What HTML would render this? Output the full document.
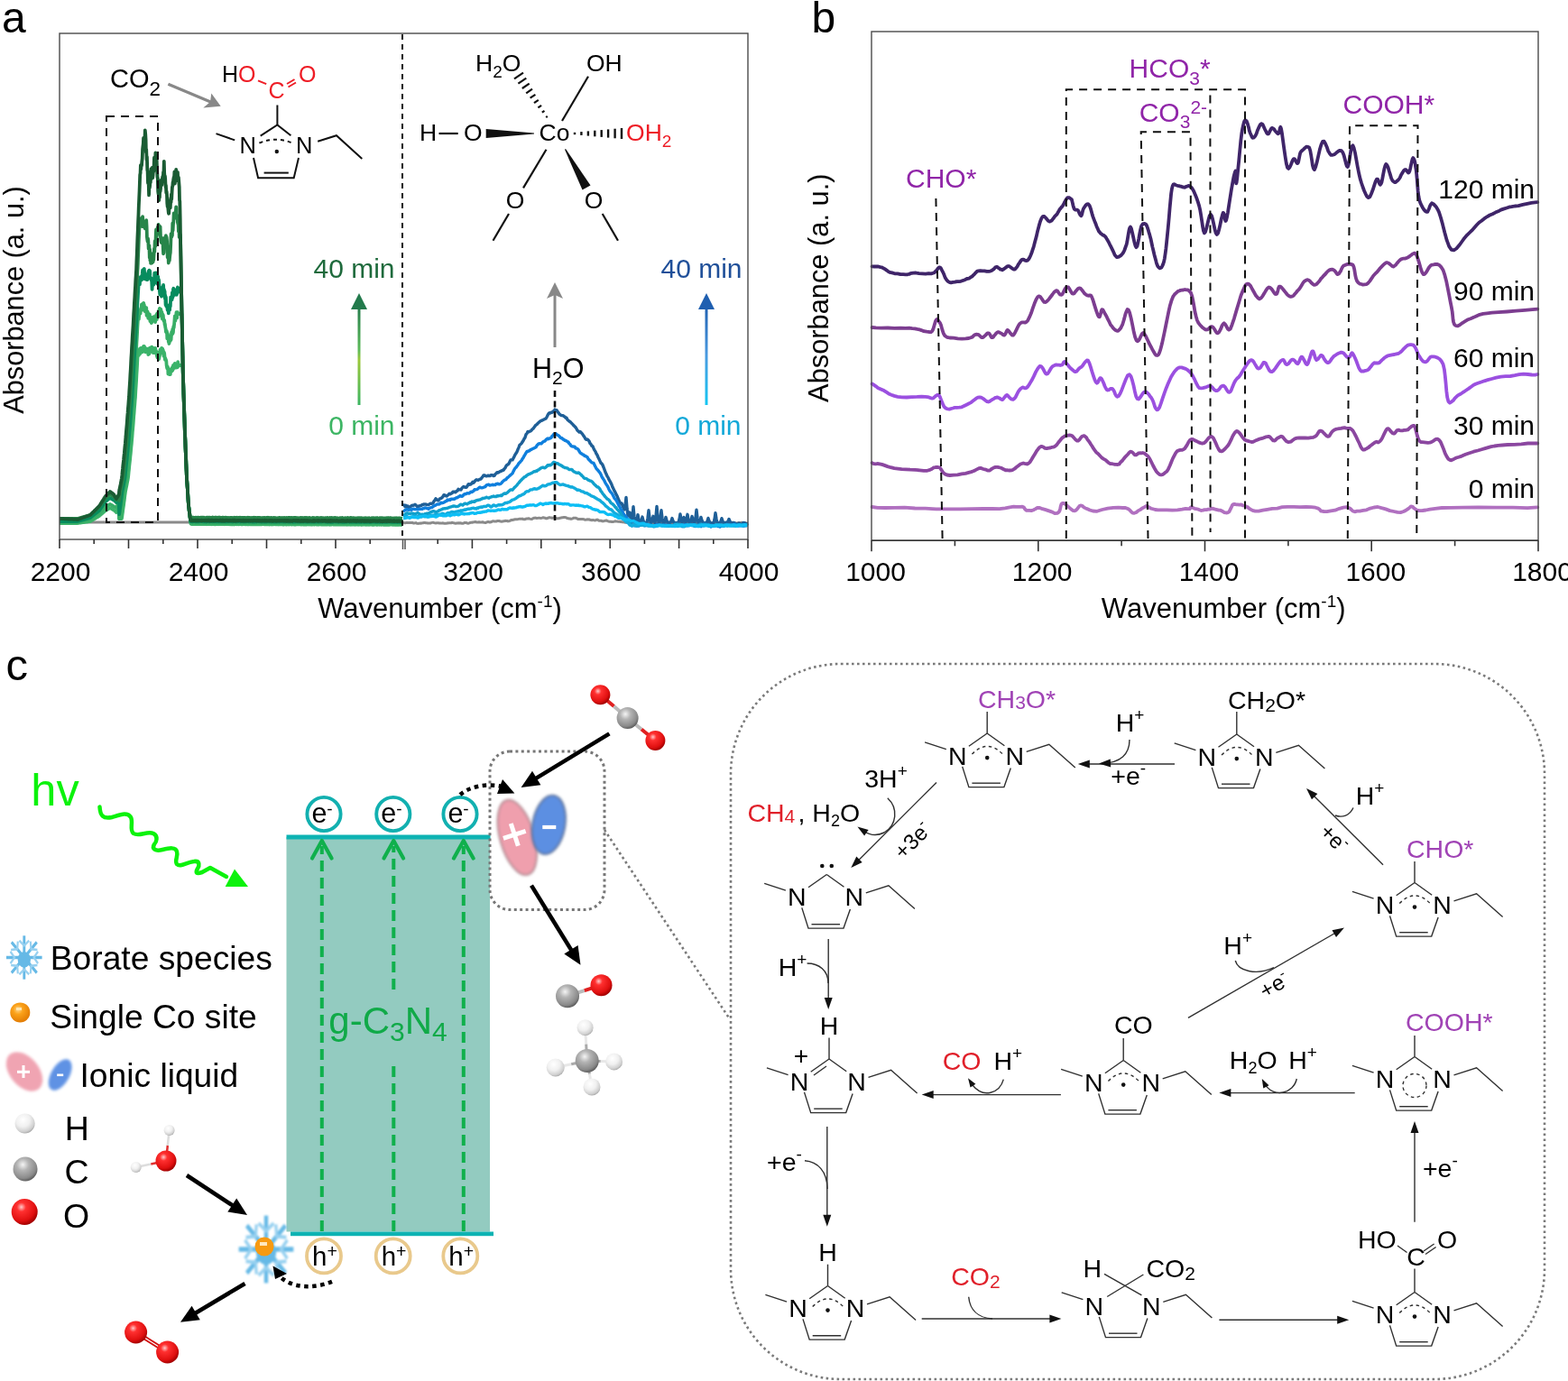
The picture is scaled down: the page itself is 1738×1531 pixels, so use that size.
<!DOCTYPE html>
<html><head><meta charset="utf-8"><title>Figure</title>
<style>html,body{margin:0;padding:0;background:#fff;} svg{display:block;}</style>
</head><body>
<svg width="1738" height="1531" viewBox="0 0 1738 1531" font-family="'Liberation Sans', Arial, sans-serif"><text x="2" y="36" font-size="48" fill="#000" text-anchor="start" >a</text>
<polyline points="66,579 446,579" stroke="#8a8a8a" stroke-width="3" fill="none" />
<path d="M447,579.7 L448,579.6 L449,579.8 L450,579.6 L451,579.6 L452,579.6 L453,579.4 L454,579.6 L455,579.4 L456,579.4 L457,579.4 L458,579.9 L459,579.9 L460,579.8 L461,579.6 L462,580.2 L463,580.4 L464,580.3 L465,580.3 L466,579.9 L467,580.2 L468,579.8 L469,579.8 L470,579.4 L471,579.4 L472,579.8 L473,579.8 L474,580 L475,579.9 L476,580 L477,580 L478,579.6 L479,579.4 L480,579.2 L481,579.6 L482,579.8 L483,579.9 L484,579.8 L485,579.8 L486,579.8 L487,580 L488,580.1 L489,580.1 L490,579.9 L491,579.8 L492,580.2 L493,580.3 L494,580.2 L495,580.2 L496,579.8 L497,579.9 L498,579.7 L499,579.7 L500,579.8 L501,579.3 L502,579.6 L503,579.8 L504,580.1 L505,580.3 L506,580 L507,580 L508,579.8 L509,580 L510,579.8 L511,580 L512,580.2 L513,580.2 L514,580 L515,579.4 L516,579.6 L517,579.5 L518,580.1 L519,580.2 L520,579.9 L521,579.5 L522,579.3 L523,579.1 L524,579.2 L525,578.8 L526,578.8 L527,578.5 L528,578.9 L529,578.9 L530,579 L531,578.7 L532,579.1 L533,579 L534,579 L535,578.7 L536,579.2 L537,579.4 L538,579.6 L539,579.1 L540,578.8 L541,578.4 L542,578.7 L543,579 L544,578.8 L545,578.3 L546,577.8 L547,577.8 L548,577.9 L549,578.1 L550,578 L551,577.6 L552,577.5 L553,577.5 L554,577.8 L555,578.1 L556,578.2 L557,578.1 L558,577.8 L559,577.7 L560,577.3 L561,577.4 L562,577.4 L563,577.9 L564,577.7 L565,577.4 L566,577 L567,576.4 L568,576.5 L569,576.2 L570,576.1 L571,575.7 L572,575.7 L573,575.8 L574,575.6 L575,575.4 L576,575.2 L577,575.2 L578,575.3 L579,575.1 L580,575.6 L581,575.7 L582,575.7 L583,575.2 L584,574.9 L585,575 L586,574.8 L587,575.1 L588,575.4 L589,575.6 L590,575.3 L591,574.6 L592,574.3 L593,574.1 L594,574.2 L595,574.6 L596,574.4 L597,574.2 L598,574.2 L599,574.4 L600,574.4 L601,574.1 L602,573.8 L603,574 L604,574.2 L605,574.7 L606,574.8 L607,574.3 L608,574 L609,573.6 L610,573.9 L611,574 L612,574.4 L613,574.1 L614,573.9 L615,573.9 L616,574.3 L617,574.8 L618,574.8 L619,574.7 L620,574.6 L621,574.2 L622,574.1 L623,573.8 L624,573.7 L625,573.4 L626,573.4 L627,573.6 L628,574.1 L629,574.6 L630,574.8 L631,575 L632,575 L633,575.4 L634,575.1 L635,574.7 L636,574.2 L637,574.2 L638,574.2 L639,574.6 L640,575.1 L641,575.6 L642,575.6 L643,575.5 L644,575.5 L645,575.4 L646,575.4 L647,575.6 L648,576.1 L649,576.3 L650,576.1 L651,575.8 L652,575.9 L653,575.8 L654,576.3 L655,576.6 L656,576.7 L657,576.5 L658,576.6 L659,576.9 L660,576.8 L661,576.3 L662,576.1 L663,576.6 L664,577.2 L665,577.2 L666,577.3 L667,577.5 L668,577.9 L669,577.7 L670,577.4 L671,577.2 L672,577 L673,577.4 L674,577.8 L675,578.2 L676,578.3 L677,578.2 L678,578.5 L679,578.5 L680,578.4 L681,578.1 L682,577.8 L683,577.9 L684,578.1 L685,578.2 L686,578.4 L687,578.1 L688,578.6 L689,578.6 L690,578.9 L691,578.7 L692,579.1 L693,579.2 L694,579.4 L695,579.2 L696,579.3 L697,579.1 L698,578.8 L699,578.8 L700,578.6 L701,578.6 L702,578.9 L703,579 L704,579.3 L705,579.3 L706,579.6 L707,579.5 L708,579.4 L709,579.4 L710,579.7 L711,579.5 L712,579.5 L713,579.2 L714,579.3 L715,579.5 L716,579.7 L717,579.9 L718,579.9 L719,580.2 L720,580.1 L721,580 L722,579.8 L723,579.9 L724,579.9 L725,579.9 L726,579.9 L727,579.8 L728,580.1 L729,580.3 L730,580.5 L731,580.5 L732,580.3 L733,580 L734,580.1 L735,580.5 L736,580.2 L737,579.6 L738,579.4 L739,579.3 L740,579.4 L741,579.2 L742,579.6 L743,580 L744,580.5 L745,580.2 L746,580.1 L747,580 L748,580 L749,580.1 L750,580.3 L751,580.3 L752,580.4 L753,580 L754,580.2 L755,580.2 L756,580.5 L757,580.3 L758,579.9 L759,579.7 L760,579.8 L761,579.7 L762,579.6 L763,579.8 L764,579.7 L765,579.9 L766,579.7 L767,579.7 L768,579.5 L769,579.6 L770,580 L771,579.8 L772,580 L773,580.2 L774,580.8 L775,580.2 L776,579.9 L777,579.3 L778,579.7 L779,579.7 L780,579.8 L781,579.5 L782,580 L783,580.4 L784,580.3 L785,579.8 L786,579.9 L787,580.1 L788,580.5 L789,579.9 L790,579.6 L791,579.6 L792,579.8 L793,579.8 L794,580 L795,580.1 L796,580.6 L797,580 L798,580.2 L799,579.7 L800,580.2 L801,579.9 L802,580.1 L803,579.9 L804,580.2 L805,580.2 L806,579.9 L807,579.6 L808,579.6 L809,579.6 L810,579.3 L811,579.2 L812,579.3 L813,579.4 L814,579.5 L815,579.9 L816,579.9 L817,580 L818,579.6 L819,579.7 L820,579.4 L821,579.4 L822,579.2 L823,579.7 L824,579.9 L825,580 L826,579.8 L827,580.1 L828,580 L829,580.2" stroke="#8a8a8a" stroke-width="3" fill="none" stroke-linejoin="round"/>
<path d="M447,561.5 L448,560 L449,561.7 L450,560.4 L451,561.6 L452,561 L453,562.4 L454,562.5 L455,561.7 L456,560.8 L457,560.2 L458,560.2 L459,560.1 L460,559.2 L461,560.1 L462,561.1 L463,562.1 L464,560.9 L465,561 L466,560.4 L467,560.4 L468,559.5 L469,559.3 L470,559 L471,559.1 L472,559 L473,559.4 L474,559.6 L475,559.6 L476,558.9 L477,558.3 L478,558.4 L479,558.1 L480,557.8 L481,555.7 L482,554.6 L483,552.8 L484,553.9 L485,554.4 L486,554.9 L487,553.4 L488,552.6 L489,552.4 L490,551.6 L491,550.5 L492,548.6 L493,548.8 L494,549.6 L495,550 L496,549.4 L497,548.4 L498,547.3 L499,547.8 L500,547.1 L501,546.7 L502,545.2 L503,545.5 L504,545.2 L505,545.8 L506,544.5 L507,544.2 L508,542.3 L509,542.8 L510,542.9 L511,543 L512,541.1 L513,540.1 L514,539.4 L515,540.1 L516,540.3 L517,540.4 L518,538.9 L519,536.9 L520,536.6 L521,537.2 L522,536.9 L523,535.6 L524,534.3 L525,535.2 L526,533.9 L527,532.6 L528,531.8 L529,532.2 L530,532.4 L531,531.7 L532,531.2 L533,531.1 L534,529.7 L535,528.5 L536,527 L537,526.8 L538,527.5 L539,527.9 L540,527.6 L541,527.2 L542,527.5 L543,527.6 L544,526.8 L545,526.7 L546,526.8 L547,527.5 L548,527.3 L549,525.6 L550,524.9 L551,523.7 L552,524 L553,523.5 L554,522.8 L555,522.3 L556,522 L557,521.3 L558,521.4 L559,519.8 L560,518.7 L561,516.6 L562,515.4 L563,515 L564,514 L565,511.9 L566,510 L567,509.8 L568,509.9 L569,508 L570,506.1 L571,504 L572,502.6 L573,500.9 L574,498.3 L575,496.1 L576,493.3 L577,492.6 L578,491.6 L579,490 L580,488.5 L581,486.4 L582,485.1 L583,481.7 L584,480.6 L585,478.6 L586,478.9 L587,478.1 L588,478.1 L589,477.1 L590,475.8 L591,475.1 L592,473.8 L593,472.4 L594,471.2 L595,470.6 L596,469.5 L597,468.6 L598,467.7 L599,466.9 L600,466.3 L601,466 L602,465.5 L603,464.9 L604,464.4 L605,464.2 L606,462.5 L607,460.4 L608,458.7 L609,457.6 L610,458 L611,457.1 L612,457.3 L613,456 L614,456.4 L615,454.1 L616,454.8 L617,454.6 L618,456.4 L619,457.5 L620,459.1 L621,459.7 L622,460.6 L623,460.6 L624,460.7 L625,461.4 L626,461.9 L627,463.2 L628,463.2 L629,465.4 L630,466.1 L631,467.2 L632,467.5 L633,468.7 L634,469.6 L635,470.6 L636,471.8 L637,472.7 L638,473.7 L639,475.3 L640,477.2 L641,478 L642,479 L643,478.4 L644,479.6 L645,480.5 L646,481.8 L647,483.4 L648,484.7 L649,486.6 L650,487.4 L651,486.9 L652,487.8 L653,489 L654,491.5 L655,492.5 L656,494.3 L657,494.8 L658,497.2 L659,499.1 L660,500.6 L661,503.1 L662,504.5 L663,507 L664,508.9 L665,511.1 L666,513.3 L667,514 L668,515.5 L669,518 L670,520.7 L671,523.5 L672,525.5 L673,527.9 L674,529.4 L675,531.7 L676,533.4 L677,535.2 L678,537.3 L679,540.1 L680,542.1 L681,544.2 L682,545.9 L683,548.2 L684,549.9 L685,552.6 L686,554.7 L687,557.1 L688,558.1 L689,558 L690,560.4 L691,562.9 L692,564.9 L693,560.4 L694,551.4 L695,563.8 L696,572 L697,571 L698,568 L699,574.8 L700,579.6 L701,572.8 L702,561.6 L703,573 L704,579.8 L705,579.7 L706,576.1 L707,570.6 L708,576.2 L709,579.7 L710,579.4 L711,577 L712,573.1 L713,577.1 L714,579.4 L715,579.5 L716,579.3 L717,579.5 L718,574.2 L719,565.6 L720,574.1 L721,579.2 L722,579.3 L723,576.7 L724,572.3 L725,576.8 L726,579.7 L727,572.9 L728,561.5 L729,572.7 L730,579.7 L731,579.7 L732,574.4 L733,565.6 L734,574.5 L735,579.8 L736,579.7 L737,577.5 L738,573.5 L739,577.3 L740,579.3 L741,579.4 L742,579.3 L743,579.4 L744,577.6 L745,574.6 L746,577.6 L747,579.4 L748,579.4 L749,579.7 L750,579.7 L751,579.4 L752,579.4 L753,575.8 L754,569.9 L755,576 L756,579.6 L757,577.1 L758,573.5 L759,577.2 L760,579.5 L761,576 L762,570.3 L763,576 L764,579.3 L765,579.6 L766,577 L767,572.5 L768,576.7 L769,579.5 L770,579.4 L771,574.1 L772,565.2 L773,574.2 L774,579.7 L775,580 L776,577.4 L777,573.5 L778,577 L779,579.4 L780,579.5 L781,579.6 L782,579.7 L783,579.6 L784,577.8 L785,574.5 L786,577.5 L787,579.4 L788,579.7 L789,579.9 L790,580 L791,579.9 L792,575.7 L793,568.7 L794,575.3 L795,579.5 L796,579.4 L797,579.6 L798,579.7 L799,577.8 L800,574.7 L801,577.8 L802,579.8 L803,579.6 L804,579.4 L805,579.2 L806,579.5 L807,577.9 L808,575.5 L809,578 L810,579.5 L811,579.6 L812,579.6 L813,579.5 L814,579.6 L815,580.3 L816,581.1 L817,580.9 L818,581 L819,580.1 L820,580.6 L821,581.3 L822,581.3 L823,580.5 L824,579.4 L825,579.6 L826,580.1 L827,580.7 L828,580.8 L829,580.8" stroke="#1f5f97" stroke-width="3.4" fill="none" stroke-linejoin="round"/>
<path d="M447,565.1 L448,566.2 L449,565.6 L450,565 L451,564.7 L452,565.1 L453,565.2 L454,565.1 L455,564.7 L456,565.3 L457,564.5 L458,564.2 L459,564.3 L460,564.6 L461,564.6 L462,564.5 L463,564.8 L464,564.6 L465,564.2 L466,564.2 L467,564.2 L468,564.3 L469,563.5 L470,563.7 L471,562.9 L472,563 L473,563.5 L474,563.6 L475,564.3 L476,563.2 L477,563.1 L478,562.6 L479,562.5 L480,561.5 L481,560.8 L482,560.4 L483,560.1 L484,559.1 L485,559 L486,559.1 L487,558.9 L488,558 L489,557.2 L490,557.7 L491,557.4 L492,556.9 L493,556.5 L494,555.6 L495,555.5 L496,554.1 L497,554.6 L498,554 L499,554.3 L500,553.1 L501,553.3 L502,553.1 L503,553.3 L504,553 L505,552.3 L506,551.8 L507,551.7 L508,550.8 L509,550.4 L510,549.5 L511,550.1 L512,550.3 L513,549.7 L514,548.3 L515,547.6 L516,547.8 L517,547.2 L518,546.8 L519,546.9 L520,547 L521,546.1 L522,545.2 L523,545.5 L524,545 L525,544.2 L526,542.8 L527,542.8 L528,542.6 L529,542.3 L530,541.6 L531,540.6 L532,540.2 L533,540.6 L534,540.9 L535,540.6 L536,540.3 L537,539.8 L538,539.5 L539,538.1 L540,537.6 L541,537.3 L542,537.3 L543,538 L544,537.9 L545,537.7 L546,537.1 L547,537.7 L548,537.5 L549,537.5 L550,536.5 L551,536.6 L552,536.2 L553,536.7 L554,536.7 L555,536.4 L556,535.4 L557,534.1 L558,533.1 L559,532.4 L560,531.8 L561,531.5 L562,529.8 L563,529.4 L564,528.4 L565,527.4 L566,526.6 L567,525.6 L568,524.9 L569,522.6 L570,520.7 L571,519 L572,518.2 L573,516.8 L574,515.5 L575,513.7 L576,512.8 L577,511.6 L578,510.6 L579,508.8 L580,507.4 L581,505.5 L582,503.9 L583,502.2 L584,500.5 L585,500.6 L586,499.8 L587,499.8 L588,498.4 L589,498.4 L590,497.7 L591,497.2 L592,496.9 L593,496.3 L594,495.8 L595,494 L596,493 L597,491.9 L598,491.8 L599,491.8 L600,491.9 L601,490.7 L602,489.7 L603,489.2 L604,489.1 L605,487.7 L606,486.9 L607,486.1 L608,486.7 L609,486 L610,485.9 L611,485.2 L612,483.4 L613,482.7 L614,481.2 L615,480.6 L616,480.7 L617,481.7 L618,482.2 L619,482.9 L620,483.7 L621,485 L622,485.7 L623,485.7 L624,487 L625,487.2 L626,488.3 L627,488.5 L628,488.8 L629,489.9 L630,489.9 L631,491.9 L632,492.6 L633,494.3 L634,494.9 L635,495 L636,495.2 L637,495.3 L638,496.8 L639,497.1 L640,497.6 L641,498.4 L642,500.3 L643,501.8 L644,502.7 L645,503.1 L646,504.1 L647,504.2 L648,505.6 L649,505.4 L650,506.3 L651,506.8 L652,508.7 L653,509.7 L654,510.7 L655,511.9 L656,512.8 L657,513.1 L658,513.4 L659,515.6 L660,517.5 L661,519.5 L662,520.5 L663,521.6 L664,522.9 L665,524.1 L666,525.9 L667,528.4 L668,530.1 L669,531.5 L670,533.2 L671,535.3 L672,536.9 L673,538.3 L674,540.1 L675,542.5 L676,544.3 L677,545.6 L678,546.6 L679,548.2 L680,550.1 L681,552.4 L682,553.3 L683,554.6 L684,556.4 L685,558.4 L686,560.5 L687,562 L688,564.3 L689,565.7 L690,567.5 L691,569.4 L692,570.8 L693,571.9 L694,573.1 L695,574.4 L696,576.7 L697,577.7 L698,580.3 L699,581.3 L700,582.6 L701,582.1 L702,582.3 L703,582.8 L704,582.9 L705,582.5 L706,583.1 L707,582.5 L708,583.1 L709,581.8 L710,582.3 L711,581.3 L712,581.4 L713,581.5 L714,582.7 L715,582.9 L716,582.7 L717,582.1 L718,582.5 L719,582.4 L720,582.2 L721,582.6 L722,582.8 L723,582.8 L724,582.8 L725,583.4 L726,583.5 L727,582.4 L728,581.5 L729,582.1 L730,582.3 L731,582.2 L732,582.1 L733,582 L734,582.8 L735,582.1 L736,582.5 L737,582.1 L738,582 L739,582.5 L740,582.3 L741,583.1 L742,583.1 L743,582.6 L744,582.7 L745,582.8 L746,583 L747,582.7 L748,581.9 L749,582.3 L750,582.5 L751,582.7 L752,582.7 L753,581.9 L754,582.5 L755,582.7 L756,583.6 L757,582.5 L758,582.7 L759,581.7 L760,582.4 L761,581.7 L762,582.8 L763,582.2 L764,582.5 L765,581.9 L766,582.3 L767,581.7 L768,582 L769,582.8 L770,583.2 L771,583.5 L772,582.6 L773,582.5 L774,581.9 L775,582.8 L776,583.4 L777,583.7 L778,582.4 L779,582 L780,581.2 L781,581.2 L782,581.1 L783,581.4 L784,581.5 L785,581.6 L786,582.4 L787,583.5 L788,584 L789,583.5 L790,582.5 L791,582.6 L792,582.6 L793,582.8 L794,582.6 L795,582.8 L796,583.6 L797,583.4 L798,584 L799,582.9 L800,583.2 L801,582.7 L802,583.4 L803,582.6 L804,582.2 L805,581.6 L806,581.4 L807,582.4 L808,582.2 L809,582.3 L810,581.8 L811,581.9 L812,581.9 L813,581.4 L814,581.4 L815,581.2 L816,581.8 L817,582.4 L818,582.8 L819,583 L820,582.9 L821,582.7 L822,582.8 L823,582.4 L824,583.2 L825,583 L826,582.7 L827,582.7 L828,582.2 L829,582.9" stroke="#0f7fdd" stroke-width="3.4" fill="none" stroke-linejoin="round"/>
<path d="M447,570.1 L448,570.7 L449,570.1 L450,569.6 L451,568.8 L452,568.9 L453,569.4 L454,569.3 L455,569.6 L456,569 L457,569.2 L458,569.1 L459,569.7 L460,570 L461,569.5 L462,568.9 L463,568.4 L464,569.3 L465,569.8 L466,570.5 L467,570.4 L468,570.3 L469,570.4 L470,570.4 L471,569.8 L472,569.7 L473,569.1 L474,569.4 L475,568.9 L476,568.6 L477,567.9 L478,567.5 L479,567.2 L480,566.7 L481,566.8 L482,567.1 L483,567.8 L484,567.4 L485,566.9 L486,566.4 L487,565.6 L488,565.5 L489,564.9 L490,564.7 L491,564 L492,563.8 L493,563.6 L494,563.7 L495,563.5 L496,563.4 L497,562.8 L498,562.5 L499,562.1 L500,561.9 L501,561.4 L502,561.3 L503,560.9 L504,561.1 L505,561.5 L506,561.6 L507,561.4 L508,561.1 L509,560.5 L510,559.6 L511,559.2 L512,559.7 L513,560 L514,559 L515,558.3 L516,558.2 L517,558.7 L518,558.9 L519,557.9 L520,557.6 L521,556.8 L522,557.1 L523,556 L524,556.4 L525,556 L526,556.3 L527,555.2 L528,555 L529,554.5 L530,554.6 L531,554.1 L532,554 L533,553.4 L534,553.1 L535,552.3 L536,552.5 L537,552.1 L538,552.1 L539,551.2 L540,551.6 L541,551.8 L542,552.2 L543,551.4 L544,551.1 L545,550.7 L546,550.6 L547,550 L548,550.5 L549,550.4 L550,550.6 L551,549.6 L552,550 L553,549.6 L554,549.6 L555,549.2 L556,549.5 L557,548.4 L558,547.8 L559,546.9 L560,547.3 L561,547 L562,546.4 L563,545.5 L564,544.7 L565,543.6 L566,542.9 L567,543 L568,543.2 L569,542 L570,540.7 L571,539.9 L572,538.9 L573,537.9 L574,536.4 L575,535.4 L576,534.1 L577,533 L578,532.1 L579,530.9 L580,530.2 L581,528.9 L582,528.7 L583,528 L584,526.9 L585,526.5 L586,525.6 L587,525.6 L588,524.9 L589,524.6 L590,524 L591,523.4 L592,522.7 L593,522.9 L594,522.1 L595,522.3 L596,521.2 L597,520.9 L598,520 L599,519.3 L600,518.7 L601,518.2 L602,518.2 L603,518.6 L604,518.8 L605,517.9 L606,517.1 L607,515.7 L608,516.1 L609,515.4 L610,515.8 L611,515.1 L612,514.4 L613,513 L614,512.3 L615,512.6 L616,513.2 L617,513.8 L618,513.7 L619,514.4 L620,515.1 L621,515.4 L622,516.2 L623,516.5 L624,517.6 L625,517.9 L626,518.5 L627,518.4 L628,518.9 L629,519 L630,519.9 L631,520.6 L632,520.6 L633,520.4 L634,520.6 L635,521.9 L636,522.8 L637,523.1 L638,523.8 L639,524.1 L640,524.4 L641,524 L642,524.3 L643,525.5 L644,526.1 L645,527.4 L646,528.1 L647,529.6 L648,530.3 L649,530.4 L650,530.6 L651,531.3 L652,532.2 L653,532.5 L654,533.1 L655,533.1 L656,533.8 L657,534.7 L658,536.1 L659,537.2 L660,538 L661,539 L662,539.8 L663,540 L664,540.9 L665,542.3 L666,544.4 L667,545.5 L668,547.2 L669,548.3 L670,549.6 L671,550.9 L672,551.9 L673,553.1 L674,553.5 L675,554.3 L676,555.8 L677,557.3 L678,558.1 L679,558.7 L680,559.7 L681,560.8 L682,562.2 L683,562.8 L684,564.7 L685,565.5 L686,566.8 L687,567.8 L688,569.1 L689,571.2 L690,572.3 L691,573.8 L692,574.7 L693,575.5 L694,576.7 L695,577.5 L696,578.8 L697,580 L698,580.4 L699,581.8 L700,582 L701,582.9 L702,582.1 L703,582 L704,581.7 L705,582.5 L706,582.7 L707,582.7 L708,582.3 L709,582.3 L710,582.4 L711,581.7 L712,582 L713,582.2 L714,582.6 L715,582.3 L716,581.6 L717,581.9 L718,582.2 L719,583.1 L720,583.1 L721,582.8 L722,582.8 L723,583 L724,583.7 L725,583.7 L726,583.4 L727,583.3 L728,583.1 L729,583 L730,582.5 L731,581.9 L732,582.1 L733,582.5 L734,582.4 L735,582.3 L736,582.3 L737,582.8 L738,582.9 L739,583.2 L740,583.1 L741,583.1 L742,582.7 L743,582.9 L744,582.5 L745,582.9 L746,582.8 L747,583.4 L748,582.8 L749,583 L750,583 L751,583.3 L752,583 L753,582.1 L754,581.9 L755,581.9 L756,582.7 L757,583 L758,583.7 L759,583.3 L760,582.9 L761,582.4 L762,582.7 L763,582.4 L764,582 L765,581.4 L766,581.6 L767,581.7 L768,582.6 L769,582.5 L770,583.2 L771,582.4 L772,582.4 L773,582.5 L774,582.3 L775,582.2 L776,581.3 L777,581.2 L778,581.5 L779,581.6 L780,581.7 L781,581.3 L782,581.8 L783,581.7 L784,581.9 L785,581.8 L786,582.7 L787,583.1 L788,583.3 L789,583.1 L790,583.3 L791,583.4 L792,582.8 L793,582 L794,581.8 L795,582.2 L796,582.7 L797,582.8 L798,582.5 L799,582.7 L800,582.3 L801,582.6 L802,582.1 L803,581.9 L804,582.1 L805,582.4 L806,583.1 L807,582.8 L808,582.9 L809,582.1 L810,582.5 L811,581.9 L812,582.7 L813,583 L814,583.1 L815,583.1 L816,582.3 L817,582.3 L818,581.6 L819,581.8 L820,581.6 L821,582.2 L822,582.4 L823,582.7 L824,582.7 L825,582.4 L826,582.3 L827,581.9 L828,581.6 L829,582.2" stroke="#10a0cc" stroke-width="3.4" fill="none" stroke-linejoin="round"/>
<path d="M447,573.5 L448,573.2 L449,572.6 L450,572.3 L451,572.4 L452,573.1 L453,573.4 L454,573.7 L455,573.4 L456,573.4 L457,572.9 L458,572.8 L459,572.3 L460,573 L461,572.6 L462,573.2 L463,572.5 L464,573 L465,572.6 L466,572.8 L467,573 L468,572.7 L469,572.3 L470,572.4 L471,572.8 L472,572.8 L473,572.7 L474,573 L475,572.8 L476,572.1 L477,571.2 L478,571.2 L479,571.3 L480,571.1 L481,571.3 L482,570.6 L483,570.5 L484,570.4 L485,570.6 L486,570.7 L487,570.3 L488,570.2 L489,570 L490,569.3 L491,569.4 L492,569.8 L493,570.5 L494,570.3 L495,569.5 L496,568.8 L497,568.7 L498,568.8 L499,568.4 L500,567.8 L501,567.4 L502,567.6 L503,567.9 L504,567.9 L505,567.3 L506,567.1 L507,566.9 L508,567.2 L509,566.5 L510,566.3 L511,565.9 L512,566.3 L513,565.8 L514,565.7 L515,565 L516,565.4 L517,564.7 L518,564.6 L519,564.1 L520,564.4 L521,564 L522,564 L523,563.4 L524,563.4 L525,563.2 L526,563.7 L527,563.7 L528,564 L529,563 L530,563.3 L531,562.5 L532,562.4 L533,562 L534,562.3 L535,562 L536,561.5 L537,561.3 L538,561.5 L539,561.3 L540,560.5 L541,560.1 L542,560.4 L543,561.2 L544,562 L545,561.7 L546,560.7 L547,560 L548,560.2 L549,560.8 L550,561 L551,560.4 L552,560 L553,559.7 L554,560 L555,559.6 L556,559.7 L557,559.6 L558,559.1 L559,558.1 L560,557.7 L561,557.4 L562,557.6 L563,556.9 L564,556.9 L565,556.3 L566,555.7 L567,554.9 L568,554.1 L569,553.9 L570,553.6 L571,552.9 L572,552.4 L573,551.5 L574,551 L575,549.9 L576,549.8 L577,549.4 L578,549 L579,548.2 L580,548 L581,547.5 L582,546.3 L583,545.3 L584,544.8 L585,544.9 L586,544.6 L587,543.7 L588,543 L589,542.9 L590,542.8 L591,542.1 L592,541.8 L593,541.8 L594,542.2 L595,542.1 L596,541.8 L597,541.2 L598,540.8 L599,540 L600,539.3 L601,538.6 L602,538.2 L603,538.7 L604,538.7 L605,538.6 L606,538 L607,537.2 L608,536.9 L609,536.7 L610,536.6 L611,536.1 L612,535.5 L613,535.1 L614,535.2 L615,534.7 L616,534.7 L617,534.7 L618,535.5 L619,536.4 L620,537 L621,537.5 L622,537.4 L623,537.1 L624,537 L625,537.3 L626,537.7 L627,538.2 L628,538.4 L629,538.7 L630,538.7 L631,539.5 L632,539.7 L633,540.1 L634,539.8 L635,540.3 L636,540.8 L637,541.1 L638,542.1 L639,542.6 L640,543.4 L641,543 L642,543.4 L643,543.6 L644,544.6 L645,544.8 L646,545 L647,545.4 L648,546.4 L649,546.5 L650,546.7 L651,547 L652,547.7 L653,548.2 L654,548.6 L655,549.6 L656,549.9 L657,550.4 L658,550.6 L659,551.4 L660,551.8 L661,552.7 L662,553.1 L663,553.8 L664,554.2 L665,554.8 L666,555.8 L667,556.7 L668,557.3 L669,558.3 L670,559.1 L671,560.7 L672,561.3 L673,562.2 L674,562.9 L675,564 L676,564.7 L677,564.7 L678,565.3 L679,566.5 L680,567.7 L681,568.6 L682,569 L683,569.8 L684,570.1 L685,571 L686,571.6 L687,572.5 L688,573.4 L689,574.6 L690,575.2 L691,575.9 L692,576.1 L693,577.5 L694,578.5 L695,579 L696,579.6 L697,580.6 L698,582.1 L699,582.3 L700,582.9 L701,582.4 L702,582.2 L703,582.3 L704,582.8 L705,582.9 L706,582.9 L707,582.1 L708,582.2 L709,581.4 L710,581.6 L711,581.4 L712,582.1 L713,582.2 L714,582.2 L715,581.7 L716,581.7 L717,582.4 L718,582.8 L719,582.6 L720,582.4 L721,582.3 L722,582.7 L723,582.5 L724,582.6 L725,582.9 L726,582.9 L727,582.9 L728,582.6 L729,582.7 L730,582.5 L731,582.4 L732,582.3 L733,582.6 L734,582.5 L735,582.9 L736,582.7 L737,583.2 L738,583 L739,583.4 L740,583.3 L741,583 L742,582.5 L743,582.4 L744,582.7 L745,583.2 L746,582.7 L747,582.1 L748,581.4 L749,581.3 L750,581.3 L751,581.2 L752,581.4 L753,581.4 L754,582.1 L755,582.4 L756,583.2 L757,583.5 L758,583.6 L759,583.6 L760,582.7 L761,582.2 L762,582.2 L763,582.6 L764,582.6 L765,582.4 L766,582.4 L767,582.7 L768,582.3 L769,582.1 L770,581.7 L771,582 L772,582.6 L773,583.5 L774,583.6 L775,583.6 L776,583 L777,582.6 L778,582.6 L779,582.8 L780,583.1 L781,582.3 L782,581.9 L783,581.8 L784,582.4 L785,583 L786,583.3 L787,582.9 L788,582.5 L789,582.6 L790,583.2 L791,583.3 L792,582.7 L793,582.3 L794,582.4 L795,582.5 L796,582.2 L797,582 L798,582.2 L799,582.1 L800,582.3 L801,582.6 L802,583.2 L803,582.9 L804,582.4 L805,581.8 L806,582.3 L807,582.5 L808,582.5 L809,582.4 L810,582.3 L811,582.7 L812,582.5 L813,582.3 L814,582.1 L815,582.7 L816,582.7 L817,582.8 L818,582.3 L819,582.2 L820,582.1 L821,581.8 L822,582 L823,581.9 L824,582.1 L825,582.6 L826,582.6 L827,582.6 L828,582.3 L829,582.4" stroke="#12acdd" stroke-width="3.4" fill="none" stroke-linejoin="round"/>
<path d="M447,574.6 L448,574.5 L449,574.4 L450,574.1 L451,573.8 L452,573.8 L453,573.7 L454,574.2 L455,573.8 L456,573.4 L457,572.8 L458,573.3 L459,573.6 L460,573.5 L461,573.5 L462,573.7 L463,574.1 L464,573.8 L465,573.1 L466,572.5 L467,572.4 L468,572.2 L469,572.3 L470,572 L471,571.9 L472,572.1 L473,572.2 L474,572.7 L475,572.7 L476,572.8 L477,572.5 L478,572.5 L479,572.3 L480,572.1 L481,572.3 L482,572.7 L483,573 L484,572.8 L485,572.1 L486,571.6 L487,571.2 L488,570.9 L489,571.3 L490,571.3 L491,571.9 L492,571.5 L493,571.9 L494,571.8 L495,571.5 L496,570.8 L497,570.8 L498,571.1 L499,571.7 L500,571.2 L501,570.8 L502,570.5 L503,570.7 L504,570.8 L505,570.3 L506,569.9 L507,570.4 L508,570.8 L509,570.6 L510,570 L511,569.4 L512,569.3 L513,569.7 L514,569.7 L515,570 L516,569.6 L517,569.6 L518,569.7 L519,569.4 L520,569.7 L521,569 L522,569.1 L523,568.6 L524,568.6 L525,568.9 L526,569.3 L527,569.2 L528,569 L529,568.4 L530,568.3 L531,568.1 L532,568.4 L533,568 L534,568 L535,567.5 L536,567.5 L537,567.2 L538,567.1 L539,567 L540,566.3 L541,566 L542,566.1 L543,566.1 L544,566.4 L545,566.1 L546,566.1 L547,566.3 L548,566.2 L549,566.2 L550,566 L551,565.6 L552,565.1 L553,565 L554,565.4 L555,565.3 L556,564.6 L557,564.4 L558,564.8 L559,564.7 L560,564.8 L561,564.6 L562,564.8 L563,564.2 L564,563.4 L565,562.9 L566,563.2 L567,563.1 L568,563.5 L569,562.8 L570,563.2 L571,562.9 L572,562.8 L573,562.2 L574,562.2 L575,561.8 L576,561.8 L577,561.5 L578,562 L579,562.2 L580,561.8 L581,561.7 L582,561.3 L583,560.9 L584,560.3 L585,560.3 L586,560.2 L587,560 L588,559.8 L589,560.1 L590,559.9 L591,559.8 L592,559.9 L593,560.5 L594,560.6 L595,560.3 L596,559.8 L597,559.3 L598,558.6 L599,558.1 L600,558.5 L601,558.9 L602,559.6 L603,558.7 L604,558.5 L605,558 L606,558.5 L607,558.1 L608,558.4 L609,557.7 L610,557.8 L611,557.4 L612,557.9 L613,558 L614,557.8 L615,557.6 L616,557.9 L617,557.7 L618,557.8 L619,557.9 L620,558.4 L621,558.3 L622,558.4 L623,558.5 L624,558.8 L625,558.8 L626,558.5 L627,558.6 L628,558.8 L629,558.7 L630,558.8 L631,559.3 L632,560 L633,560.2 L634,559.9 L635,559.9 L636,559.9 L637,560.1 L638,560.3 L639,560 L640,560.4 L641,559.9 L642,560.5 L643,560.4 L644,560.7 L645,560.9 L646,561 L647,561.5 L648,561.8 L649,561.7 L650,561.4 L651,561.2 L652,561.9 L653,562.4 L654,562.6 L655,563.1 L656,563.8 L657,564.4 L658,564.7 L659,564.8 L660,565.3 L661,565.1 L662,565.5 L663,565.9 L664,566.8 L665,567.5 L666,567.5 L667,567.6 L668,567.5 L669,567.6 L670,567.9 L671,568.7 L672,569.6 L673,570.1 L674,570.5 L675,570.4 L676,570.3 L677,570.2 L678,570.6 L679,570.9 L680,571.2 L681,571.9 L682,572.4 L683,572.7 L684,573.2 L685,573.9 L686,574.4 L687,574.1 L688,573.7 L689,574.3 L690,574.7 L691,575.5 L692,575.5 L693,576 L694,576.4 L695,576.2 L696,576.3 L697,576.3 L698,576.6 L699,577.5 L700,577.6 L701,577.9 L702,577.5 L703,578 L704,578.5 L705,579.2 L706,579.5 L707,580 L708,580.5 L709,580.7 L710,580.5 L711,580.3 L712,580.1 L713,580.2 L714,580.4 L715,581.1 L716,581.5 L717,581.5 L718,581.5 L719,582.1 L720,582.6 L721,582.8 L722,582.8 L723,582.7 L724,582.9 L725,583 L726,582.7 L727,582.8 L728,582.7 L729,582.7 L730,582.3 L731,582.3 L732,582.9 L733,582.8 L734,582.8 L735,582.8 L736,583.1 L737,583.4 L738,583.1 L739,582.9 L740,582.4 L741,582.6 L742,582.7 L743,583 L744,583 L745,582.6 L746,582.8 L747,583 L748,583.6 L749,583.3 L750,583.1 L751,582.6 L752,582.9 L753,583 L754,583 L755,582.3 L756,582 L757,582.2 L758,582.7 L759,582.7 L760,582.3 L761,582.4 L762,582 L763,582.6 L764,582.1 L765,582.3 L766,582.3 L767,582.3 L768,582.2 L769,581.9 L770,582.4 L771,583 L772,583.1 L773,583.3 L774,583 L775,583.2 L776,582.5 L777,582.3 L778,582 L779,582.1 L780,582.5 L781,582.6 L782,582.8 L783,582.9 L784,582.8 L785,582.7 L786,582.3 L787,582.5 L788,583 L789,582.9 L790,582.9 L791,582.9 L792,583.2 L793,583 L794,582.3 L795,582.3 L796,582.3 L797,582.6 L798,582.2 L799,582.6 L800,582.5 L801,582.8 L802,582.7 L803,582.7 L804,582.8 L805,582.7 L806,582.3 L807,582.3 L808,582.1 L809,582.8 L810,583.1 L811,583 L812,582.6 L813,582 L814,582.1 L815,582.4 L816,583 L817,583.1 L818,582.7 L819,582.1 L820,582.2 L821,582.7 L822,582.6 L823,582.8 L824,582 L825,582.1 L826,581.7 L827,582.2 L828,582.3 L829,582.4" stroke="#0dbef5" stroke-width="3.4" fill="none" stroke-linejoin="round"/>
<path d="M66,580 L66.3,580 L66.7,580 L67,580 L67.4,580 L67.8,580 L68.1,580 L68.5,580 L68.8,580 L69.2,580 L69.5,580 L69.8,580 L70.2,580 L70.5,580 L70.9,580 L71.2,580 L71.6,580 L72,580 L72.3,580 L72.7,580 L73,580 L73.3,580 L73.7,580 L74,580 L74.4,580 L74.8,580 L75.1,580 L75.5,580 L75.8,580 L76.2,580 L76.5,580 L76.8,580 L77.2,580 L77.5,580 L77.9,580 L78.2,580 L78.6,580 L79,580 L79.3,580 L79.7,580 L80,580 L80.3,580 L80.7,580 L81,580 L81.4,580 L81.8,580 L82.1,580 L82.5,580 L82.8,580 L83.2,580 L83.5,580 L83.8,580 L84.2,580 L84.5,580 L84.9,580 L85.2,580 L85.6,580 L86,580 L86.3,580 L86.7,579.9 L87,579.9 L87.3,579.8 L87.7,579.8 L88,579.7 L88.4,579.7 L88.8,579.6 L89.1,579.6 L89.5,579.5 L89.8,579.5 L90.2,579.4 L90.5,579.4 L90.8,579.3 L91.2,579.3 L91.5,579.2 L91.9,579.2 L92.2,579.1 L92.6,579.1 L93,579 L93.3,579 L93.7,578.9 L94,578.9 L94.3,578.8 L94.7,578.8 L95,578.7 L95.4,578.7 L95.8,578.6 L96.1,578.6 L96.5,578.5 L96.8,578.5 L97.2,578.4 L97.5,578.4 L97.8,578.3 L98.2,578.3 L98.5,578.2 L98.9,578.2 L99.2,578.1 L99.6,578.1 L99.9,578 L100.3,577.8 L100.7,577.6 L101,577.4 L101.3,577.2 L101.7,577 L102,576.8 L102.4,576.6 L102.8,576.4 L103.1,576.1 L103.4,575.9 L103.8,575.7 L104.2,575.5 L104.5,575.3 L104.8,575.1 L105.2,574.9 L105.5,574.7 L105.9,574.5 L106.2,574.2 L106.6,574 L106.9,573.8 L107.3,573.6 L107.7,573.4 L108,573.2 L108.3,573 L108.7,572.8 L109,572.6 L109.4,572.4 L109.8,572.1 L110.1,571.9 L110.4,571.6 L110.8,571.3 L111.2,571 L111.5,570.7 L111.8,570.4 L112.2,570.1 L112.5,569.8 L112.9,569.5 L113.2,569.2 L113.6,568.9 L113.9,568.6 L114.3,568.3 L114.7,568 L115,567.7 L115.3,567.4 L115.7,567.1 L116,566.8 L116.4,566.5 L116.8,566.2 L117.1,565.9 L117.4,565.7 L117.8,565.5 L118.2,565.3 L118.5,565.1 L118.8,564.9 L119.2,564.7 L119.5,564.5 L119.9,564.3 L120.2,564 L120.6,563.8 L120.9,563.6 L121.3,563.4 L121.7,563.2 L122,563 L122.3,563.2 L122.7,563.4 L123,563.6 L123.4,563.8 L123.8,564 L124.1,564.3 L124.4,564.5 L124.8,564.7 L125.2,564.9 L125.5,565.1 L125.8,565.3 L126.2,565.5 L126.5,565.7 L126.9,565.9 L127.2,566.2 L127.6,566.6 L127.9,567 L128.3,567.3 L128.7,567.6 L129,568 L129.3,567.1 L129.7,566.1 L130.1,565.2 L130.4,564.3 L130.8,563.3 L131.1,562.4 L131.4,561.5 L131.8,560.5 L132.1,575 L132.5,575 L132.8,575 L133.2,575 L133.6,575 L133.9,575 L134.2,575 L134.6,575 L134.9,575 L135.3,572.7 L135.6,570.1 L136,567.5 L136.3,564.9 L136.7,562.3 L137.1,559.6 L137.4,557 L137.8,554.4 L138.1,551.8 L138.4,549.1 L138.8,546.5 L139.1,544.3 L139.5,542.5 L139.8,540.8 L140.2,539 L140.6,537.2 L140.9,535.5 L141.2,533.8 L141.6,532 L141.9,530.2 L142.3,527 L142.6,523.5 L143,520 L143.3,516.5 L143.7,513 L144.1,509.5 L144.4,506 L144.8,502.5 L145.1,499 L145.4,495.5 L145.8,492 L146.1,488.1 L146.5,483.8 L146.8,479.4 L147.2,475 L147.6,470.6 L147.9,466.3 L148.2,461.9 L148.6,457.5 L148.9,453.1 L149.3,448.7 L149.6,444.4 L150,440 L150.3,433.9 L150.7,427.8 L151.1,421.6 L151.4,415.5 L151.8,409.4 L152.1,403.3 L152.4,397.1 L152.8,392 L153.1,388.9 L153.5,390 L153.8,394 L154.2,392.1 L154.6,389.7 L154.9,386.7 L155.2,392.2 L155.6,390 L155.9,386 L156.3,386.7 L156.6,388.7 L157,388.8 L157.3,385.7 L157.7,390.3 L158.1,385.7 L158.4,385.1 L158.8,389 L159.1,384 L159.4,387.5 L159.8,384 L160.1,386.8 L160.5,384.9 L160.8,386 L161.2,390.3 L161.6,387.3 L161.9,387.5 L162.2,389.1 L162.6,387.1 L162.9,386.7 L163.3,388.5 L163.6,388.1 L164,387.8 L164.3,393.1 L164.7,386.4 L165.1,391.6 L165.4,392.3 L165.8,390.6 L166.1,385.6 L166.4,388.8 L166.8,385.4 L167.1,389.2 L167.5,389.7 L167.8,386.3 L168.2,384.6 L168.6,388.4 L168.9,385.4 L169.2,387 L169.6,388.1 L169.9,391.2 L170.3,387.7 L170.6,386.1 L171,390.8 L171.3,391.1 L171.7,389.1 L172.1,385.9 L172.4,387.5 L172.8,389.6 L173.1,391.3 L173.4,389.6 L173.8,394.3 L174.1,395.2 L174.5,396.4 L174.8,396.7 L175.2,391.2 L175.6,395.8 L175.9,392.9 L176.2,398 L176.6,395.7 L176.9,394.6 L177.3,389.5 L177.6,387.4 L178,391.5 L178.3,388.9 L178.7,387.8 L179.1,385.9 L179.4,388.9 L179.8,386.4 L180.1,386.6 L180.4,387.9 L180.8,388.2 L181.1,391.5 L181.5,394.7 L181.8,390.4 L182.2,391.8 L182.6,396.3 L182.9,398.8 L183.2,396.8 L183.6,398.8 L183.9,398.7 L184.3,400 L184.6,404.6 L185,407.3 L185.3,408.5 L185.7,406.4 L186.1,407.4 L186.4,414.6 L186.8,413.3 L187.1,413.3 L187.4,415 L187.8,415.1 L188.1,413.4 L188.5,410 L188.8,415.1 L189.2,410.5 L189.6,409.1 L189.9,411 L190.2,411.6 L190.6,411.5 L190.9,407.5 L191.3,410.4 L191.6,408.1 L192,405 L192.3,409 L192.7,407.8 L193.1,407.8 L193.4,406.1 L193.8,402.8 L194.1,406.6 L194.4,407.3 L194.8,404.6 L195.2,407.1 L195.5,407.5 L195.8,403.3 L196.2,407.2 L196.5,407.3 L196.9,406.5 L197.2,401.2 L197.6,403.8 L197.9,405.8 L198.3,405 L198.7,405 L199,405 L199.3,405 L199.7,405 L200,405 L200.4,405 L200.8,405 L201.1,405 L201.4,405 L201.8,405 L202.1,405 L202.5,405 L202.8,412.5 L203.2,426 L203.5,436.5 L203.9,447 L204.2,457.5 L204.6,468 L204.9,478.5 L205.3,487.5 L205.6,496.2 L206,505 L206.3,513.7 L206.7,522.5 L207,530.7 L207.4,536 L207.8,541.2 L208.1,546.5 L208.4,551.7 L208.8,557 L209.1,561.2 L209.5,564 L209.8,566.8 L210.2,569.6 L210.5,572.4 L210.9,575.2 L211.2,578 L211.6,580.8 L211.9,580.9 L212.3,581 L212.6,581 L213,581 L213.3,580.9 L213.7,581 L214,581 L214.4,580.8 L214.8,581.1 L215.1,581 L215.4,581.1 L215.8,581.1 L216.1,581.1 L216.5,581.2 L216.8,581 L217.2,581 L217.5,580.8 L217.9,581.1 L218.2,581.1 L218.6,581.1 L218.9,581.2 L219.3,580.9 L219.6,580.9 L220,581.1 L220.3,581.2 L220.7,581 L221,580.8 L221.4,581 L221.8,581.2 L222.1,581 L222.4,581 L222.8,581 L223.1,581.1 L223.5,581.1 L223.8,581.1 L224.2,581.2 L224.5,581.1 L224.9,581 L225.2,580.9 L225.6,581.2 L225.9,581.2 L226.3,581.2 L226.6,580.9 L227,581.2 L227.3,581.2 L227.7,580.9 L228,581 L228.4,581.1 L228.8,580.9 L229.1,581.2 L229.4,581 L229.8,581.1 L230.1,581 L230.5,580.9 L230.8,580.9 L231.2,581.1 L231.5,581.2 L231.9,580.9 L232.2,581.1 L232.6,581 L232.9,581.1 L233.3,581 L233.6,580.9 L234,580.9 L234.3,580.9 L234.7,581.2 L235,581 L235.4,580.9 L235.8,581.2 L236.1,581.1 L236.4,580.9 L236.8,581.2 L237.1,581.1 L237.5,581.1 L237.8,581.1 L238.2,581.3 L238.5,581 L238.9,581.1 L239.2,581.1 L239.6,581 L239.9,581 L240.3,581.2 L240.6,581.1 L241,581.1 L241.3,581.1 L241.7,581 L242,581.2 L242.4,580.9 L242.8,581.2 L243.1,581.1 L243.4,581 L243.8,581.1 L244.1,581.1 L244.5,580.9 L244.8,581.1 L245.2,581 L245.5,581.2 L245.9,581 L246.2,581 L246.6,581 L246.9,580.9 L247.3,581 L247.6,581 L248,581.2 L248.3,581.3 L248.7,581 L249,581 L249.4,581.1 L249.8,581 L250.1,581.1 L250.4,581.2 L250.8,581 L251.1,581.2 L251.5,581.1 L251.8,580.9 L252.2,581 L252.5,581.2 L252.9,581 L253.2,581 L253.6,581.2 L253.9,581.3 L254.3,581.1 L254.6,581.2 L255,580.9 L255.3,581.1 L255.7,581.1 L256,581.3 L256.4,581.1 L256.8,581.3 L257.1,580.9 L257.4,581.1 L257.8,581.3 L258.1,581.3 L258.5,581.2 L258.9,581 L259.2,581.3 L259.5,581 L259.9,581.3 L260.2,581.3 L260.6,581.2 L260.9,581.2 L261.3,581 L261.6,581.1 L262,581.2 L262.4,581.2 L262.7,581.1 L263,581.3 L263.4,581 L263.8,581.1 L264.1,581 L264.4,581.1 L264.8,581.3 L265.1,581.3 L265.5,581 L265.9,581.1 L266.2,581 L266.5,581.2 L266.9,581.1 L267.2,581.1 L267.6,581.1 L267.9,581.3 L268.3,581.1 L268.6,581.3 L269,581.2 L269.4,581.2 L269.7,581.2 L270,581.1 L270.4,581.1 L270.8,581.2 L271.1,581.1 L271.4,581.1 L271.8,581.1 L272.1,581.4 L272.5,581.2 L272.9,581.1 L273.2,581 L273.5,581.1 L273.9,581.3 L274.2,581.1 L274.6,581.3 L274.9,581.1 L275.3,581.3 L275.6,581.2 L276,581.3 L276.4,581.2 L276.7,581.1 L277,581.1 L277.4,581.2 L277.8,581.3 L278.1,581.3 L278.4,581.2 L278.8,581.1 L279.1,581.4 L279.5,581.4 L279.9,581.1 L280.2,581.3 L280.5,581.3 L280.9,581.3 L281.2,581.4 L281.6,581.4 L281.9,581.1 L282.3,581.4 L282.6,581.1 L283,581.2 L283.4,581.4 L283.7,581.1 L284,581.2 L284.4,581.3 L284.8,581.1 L285.1,581.1 L285.4,581.3 L285.8,581.3 L286.1,581.3 L286.5,581.3 L286.9,581.4 L287.2,581.4 L287.5,581.4 L287.9,581.4 L288.2,581.2 L288.6,581.3 L288.9,581.2 L289.3,581.4 L289.6,581.3 L290,581.2 L290.4,581.3 L290.7,581.2 L291,581.1 L291.4,581.2 L291.8,581.1 L292.1,581 L292.4,581.1 L292.8,581.2 L293.1,581.4 L293.5,581.1 L293.9,581.3 L294.2,581.1 L294.5,581.3 L294.9,581.2 L295.2,581.2 L295.6,581.3 L295.9,581.2 L296.3,581.2 L296.6,581.4 L297,581.1 L297.4,581.2 L297.7,581.3 L298,581.4 L298.4,581.5 L298.8,581.2 L299.1,581.3 L299.4,581.2 L299.8,581.4 L300.1,581.4 L300.5,581.1 L300.9,581.2 L301.2,581.5 L301.5,581.2 L301.9,581.3 L302.2,581.4 L302.6,581.2 L302.9,581.4 L303.3,581.1 L303.6,581.2 L304,581.1 L304.4,581.2 L304.7,581.2 L305,581.1 L305.4,581.4 L305.8,581.1 L306.1,581.3 L306.4,581.3 L306.8,581.4 L307.1,581.4 L307.5,581.3 L307.9,581.2 L308.2,581.4 L308.5,581.1 L308.9,581.5 L309.2,581.2 L309.6,581.2 L309.9,581.2 L310.3,581.3 L310.6,581.4 L311,581.4 L311.4,581.4 L311.7,581.4 L312,581.2 L312.4,581.2 L312.8,581.2 L313.1,581.3 L313.4,581.5 L313.8,581.5 L314.1,581.1 L314.5,581.5 L314.9,581.5 L315.2,581.3 L315.5,581.4 L315.9,581.4 L316.2,581.2 L316.6,581.4 L316.9,581.5 L317.3,581.5 L317.6,581.5 L318,581.1 L318.4,581.4 L318.7,581.3 L319,581.5 L319.4,581.2 L319.8,581.3 L320.1,581.2 L320.4,581.5 L320.8,581.4 L321.1,581.1 L321.5,581.3 L321.9,581.2 L322.2,581.4 L322.6,581.4 L322.9,581.2 L323.2,581.5 L323.6,581.5 L323.9,581.3 L324.3,581.4 L324.6,581.3 L325,581.4 L325.3,581.3 L325.7,581.3 L326.1,581.5 L326.4,581.2 L326.8,581.3 L327.1,581.5 L327.4,581.2 L327.8,581.2 L328.1,581.5 L328.5,581.2 L328.8,581.3 L329.2,581.3 L329.6,581.3 L329.9,581.3 L330.2,581.4 L330.6,581.2 L330.9,581.4 L331.3,581.2 L331.6,581.2 L332,581.2 L332.3,581.3 L332.7,581.3 L333.1,581.3 L333.4,581.5 L333.8,581.4 L334.1,581.4 L334.4,581.5 L334.8,581.4 L335.1,581.3 L335.5,581.4 L335.8,581.5 L336.2,581.4 L336.5,581.5 L336.9,581.4 L337.2,581.6 L337.6,581.3 L337.9,581.5 L338.3,581.6 L338.6,581.4 L339,581.6 L339.3,581.2 L339.7,581.5 L340,581.3 L340.4,581.5 L340.8,581.4 L341.1,581.4 L341.4,581.3 L341.8,581.3 L342.1,581.5 L342.5,581.5 L342.8,581.4 L343.2,581.2 L343.5,581.3 L343.9,581.6 L344.2,581.3 L344.6,581.4 L344.9,581.5 L345.3,581.4 L345.6,581.4 L346,581.6 L346.3,581.5 L346.7,581.3 L347,581.4 L347.4,581.4 L347.8,581.5 L348.1,581.5 L348.4,581.3 L348.8,581.5 L349.1,581.4 L349.5,581.2 L349.8,581.3 L350.2,581.4 L350.5,581.3 L350.9,581.5 L351.2,581.6 L351.6,581.6 L351.9,581.5 L352.3,581.6 L352.6,581.4 L353,581.5 L353.3,581.6 L353.7,581.2 L354,581.4 L354.4,581.4 L354.8,581.4 L355.1,581.4 L355.4,581.2 L355.8,581.5 L356.1,581.6 L356.5,581.3 L356.8,581.3 L357.2,581.4 L357.5,581.6 L357.9,581.3 L358.2,581.6 L358.6,581.3 L358.9,581.5 L359.3,581.5 L359.6,581.5 L360,581.3 L360.3,581.6 L360.7,581.6 L361,581.4 L361.4,581.6 L361.8,581.5 L362.1,581.3 L362.4,581.4 L362.8,581.6 L363.1,581.4 L363.5,581.3 L363.8,581.3 L364.2,581.3 L364.5,581.5 L364.9,581.5 L365.2,581.4 L365.6,581.4 L365.9,581.7 L366.3,581.4 L366.6,581.5 L367,581.3 L367.3,581.5 L367.7,581.3 L368,581.3 L368.4,581.4 L368.8,581.3 L369.1,581.4 L369.4,581.5 L369.8,581.5 L370.1,581.6 L370.5,581.5 L370.8,581.3 L371.2,581.6 L371.5,581.4 L371.9,581.6 L372.2,581.7 L372.6,581.5 L372.9,581.4 L373.3,581.4 L373.6,581.5 L374,581.4 L374.3,581.3 L374.7,581.4 L375,581.6 L375.4,581.6 L375.8,581.6 L376.1,581.7 L376.4,581.6 L376.8,581.5 L377.1,581.6 L377.5,581.3 L377.8,581.6 L378.2,581.6 L378.5,581.4 L378.9,581.5 L379.2,581.4 L379.6,581.6 L379.9,581.5 L380.3,581.6 L380.6,581.7 L381,581.6 L381.3,581.5 L381.7,581.4 L382,581.7 L382.4,581.7 L382.8,581.4 L383.1,581.5 L383.4,581.6 L383.8,581.6 L384.1,581.4 L384.5,581.5 L384.8,581.7 L385.2,581.4 L385.5,581.4 L385.9,581.6 L386.2,581.7 L386.6,581.7 L386.9,581.5 L387.3,581.7 L387.6,581.7 L388,581.5 L388.3,581.4 L388.7,581.4 L389,581.7 L389.4,581.4 L389.8,581.6 L390.1,581.7 L390.4,581.4 L390.8,581.6 L391.1,581.6 L391.5,581.7 L391.8,581.5 L392.2,581.5 L392.5,581.7 L392.9,581.7 L393.2,581.4 L393.6,581.7 L393.9,581.5 L394.3,581.7 L394.6,581.7 L395,581.5 L395.3,581.5 L395.7,581.4 L396,581.5 L396.4,581.4 L396.8,581.4 L397.1,581.7 L397.4,581.4 L397.8,581.6 L398.1,581.6 L398.5,581.7 L398.8,581.6 L399.2,581.7 L399.5,581.5 L399.9,581.4 L400.2,581.6 L400.6,581.5 L400.9,581.8 L401.3,581.7 L401.6,581.7 L402,581.7 L402.3,581.5 L402.7,581.6 L403,581.5 L403.4,581.5 L403.8,581.5 L404.1,581.6 L404.4,581.6 L404.8,581.4 L405.1,581.6 L405.5,581.4 L405.8,581.8 L406.2,581.6 L406.5,581.6 L406.9,581.5 L407.2,581.7 L407.6,581.7 L407.9,581.8 L408.3,581.6 L408.6,581.5 L409,581.6 L409.3,581.4 L409.7,581.7 L410,581.5 L410.4,581.7 L410.8,581.4 L411.1,581.6 L411.4,581.5 L411.8,581.4 L412.1,581.5 L412.5,581.8 L412.8,581.6 L413.2,581.6 L413.5,581.7 L413.9,581.8 L414.2,581.5 L414.6,581.7 L414.9,581.7 L415.3,581.7 L415.6,581.5 L416,581.6 L416.3,581.7 L416.7,581.5 L417,581.6 L417.4,581.7 L417.8,581.8 L418.1,581.5 L418.4,581.7 L418.8,581.5 L419.1,581.5 L419.5,581.6 L419.8,581.7 L420.2,581.7 L420.5,581.8 L420.9,581.5 L421.2,581.6 L421.6,581.6 L421.9,581.5 L422.3,581.8 L422.6,581.5 L423,581.5 L423.3,581.4 L423.7,581.7 L424,581.7 L424.4,581.5 L424.8,581.8 L425.1,581.7 L425.4,581.5 L425.8,581.8 L426.1,581.8 L426.5,581.6 L426.8,581.8 L427.2,581.5 L427.5,581.6 L427.9,581.6 L428.2,581.8 L428.6,581.6 L428.9,581.6 L429.3,581.5 L429.6,581.8 L430,581.5 L430.3,581.8 L430.7,581.6 L431,581.7 L431.4,581.8 L431.8,581.6 L432.1,581.7 L432.4,581.7 L432.8,581.7 L433.1,581.6 L433.5,581.7 L433.8,581.6 L434.2,581.5 L434.5,581.5 L434.9,581.7 L435.2,581.7 L435.6,581.8 L435.9,581.5 L436.3,581.7 L436.6,581.7 L437,581.7 L437.3,581.8 L437.7,581.7 L438,581.7 L438.4,581.7 L438.8,581.5 L439.1,581.8 L439.4,581.7 L439.8,581.5 L440.1,581.7 L440.5,581.9 L440.8,581.9 L441.2,581.7 L441.5,581.6 L441.9,581.9 L442.2,581.6 L442.6,581.5 L442.9,581.6 L443.3,581.7 L443.6,581.8 L444,581.5 L444.3,581.6 L444.7,581.8 L445,581.6 L445.4,581.6 L445.8,581.8" stroke="#3bb36a" stroke-width="3.8" fill="none" stroke-linejoin="round"/>
<path d="M66,579 L66.3,579 L66.7,579 L67,579 L67.4,579 L67.8,579 L68.1,579 L68.5,579 L68.8,579 L69.2,579 L69.5,579 L69.8,579 L70.2,579 L70.5,579 L70.9,579 L71.2,579 L71.6,579 L72,579 L72.3,579 L72.7,579 L73,579 L73.3,579 L73.7,579 L74,579 L74.4,579 L74.8,579 L75.1,579 L75.5,579 L75.8,579 L76.2,579 L76.5,579 L76.8,579 L77.2,579 L77.5,579 L77.9,579 L78.2,579 L78.6,579 L79,579 L79.3,579 L79.7,579 L80,579 L80.3,579 L80.7,579 L81,579 L81.4,579 L81.8,579 L82.1,579 L82.5,579 L82.8,579 L83.2,579 L83.5,579 L83.8,579 L84.2,579 L84.5,579 L84.9,579 L85.2,579 L85.6,579 L86,579 L86.3,578.9 L86.7,578.9 L87,578.8 L87.3,578.7 L87.7,578.6 L88,578.6 L88.4,578.5 L88.8,578.4 L89.1,578.3 L89.5,578.3 L89.8,578.2 L90.2,578.1 L90.5,578 L90.8,578 L91.2,577.9 L91.5,577.8 L91.9,577.7 L92.2,577.7 L92.6,577.6 L93,577.5 L93.3,577.4 L93.7,577.4 L94,577.3 L94.3,577.2 L94.7,577.1 L95,577.1 L95.4,577 L95.8,576.9 L96.1,576.8 L96.5,576.8 L96.8,576.7 L97.2,576.6 L97.5,576.5 L97.8,576.5 L98.2,576.4 L98.5,576.3 L98.9,576.2 L99.2,576.2 L99.6,576.1 L99.9,576 L100.3,575.8 L100.7,575.5 L101,575.3 L101.3,575.1 L101.7,574.8 L102,574.6 L102.4,574.3 L102.8,574.1 L103.1,573.8 L103.4,573.6 L103.8,573.3 L104.2,573.1 L104.5,572.9 L104.8,572.6 L105.2,572.4 L105.5,572.1 L105.9,571.9 L106.2,571.6 L106.6,571.4 L106.9,571.1 L107.3,570.9 L107.7,570.6 L108,570.4 L108.3,570.2 L108.7,569.9 L109,569.7 L109.4,569.4 L109.8,569.2 L110.1,568.9 L110.4,568.6 L110.8,568.2 L111.2,567.9 L111.5,567.5 L111.8,567.1 L112.2,566.8 L112.5,566.5 L112.9,566.1 L113.2,565.8 L113.6,565.4 L113.9,565.1 L114.3,564.7 L114.7,564.4 L115,564 L115.3,563.6 L115.7,563.3 L116,563 L116.4,562.6 L116.8,562.2 L117.1,561.9 L117.4,561.7 L117.8,561.5 L118.2,561.3 L118.5,561.1 L118.8,560.9 L119.2,560.7 L119.5,560.5 L119.9,560.3 L120.2,560 L120.6,559.8 L120.9,559.6 L121.3,559.4 L121.7,559.2 L122,559 L122.3,559.2 L122.7,559.4 L123,559.6 L123.4,559.8 L123.8,560 L124.1,560.3 L124.4,560.5 L124.8,560.7 L125.2,560.9 L125.5,561.1 L125.8,561.3 L126.2,561.5 L126.5,561.7 L126.9,561.9 L127.2,562.1 L127.6,562.3 L127.9,562.5 L128.3,562.6 L128.7,562.8 L129,563 L129.3,562.1 L129.7,561.1 L130.1,560.2 L130.4,559.3 L130.8,558.3 L131.1,557.4 L131.4,556.5 L131.8,555.5 L132.1,575 L132.5,575 L132.8,575 L133.2,573.5 L133.6,570.9 L133.9,568.3 L134.2,565.6 L134.6,563 L134.9,560.4 L135.3,557.7 L135.6,555.1 L136,552.5 L136.3,549.9 L136.7,547.3 L137.1,544.8 L137.4,543 L137.8,541.2 L138.1,539.5 L138.4,537.8 L138.8,536 L139.1,534.3 L139.5,532.5 L139.8,530.8 L140.2,528 L140.6,524.5 L140.9,521 L141.2,517.5 L141.6,514 L141.9,510.5 L142.3,507 L142.6,503.5 L143,500 L143.3,496.5 L143.7,493 L144.1,489.4 L144.4,485 L144.8,480.6 L145.1,476.3 L145.4,471.9 L145.8,467.5 L146.1,463.1 L146.5,458.8 L146.8,454.4 L147.2,450 L147.6,445.6 L147.9,441.3 L148.2,435.6 L148.6,429.5 L148.9,423.4 L149.3,417.2 L149.6,411.1 L150,405 L150.3,398.9 L150.7,392.8 L151.1,386.6 L151.4,380.5 L151.8,374.4 L152.1,368.3 L152.4,362.1 L152.8,356 L153.1,350.9 L153.5,352.7 L153.8,354 L154.2,349.8 L154.6,344.4 L154.9,345.3 L155.2,344.2 L155.6,347.5 L155.9,343 L156.3,341.4 L156.6,342.7 L157,337.3 L157.3,342.8 L157.7,343.6 L158.1,342.2 L158.4,339.1 L158.8,338.2 L159.1,335.8 L159.4,337 L159.8,338.2 L160.1,341.5 L160.5,345 L160.8,340.5 L161.2,343.4 L161.6,345.5 L161.9,346 L162.2,341.1 L162.6,349.8 L162.9,347.4 L163.3,345.4 L163.6,345.4 L164,350 L164.3,352.8 L164.7,348 L165.1,349.2 L165.4,351.2 L165.8,348.3 L166.1,351 L166.4,356.2 L166.8,353.5 L167.1,356.5 L167.5,352 L167.8,358.1 L168.2,357.4 L168.6,352.2 L168.9,354.7 L169.2,355.8 L169.6,354.6 L169.9,354.6 L170.3,351.1 L170.6,353.7 L171,351.7 L171.3,355.6 L171.7,351.6 L172.1,357 L172.4,353.3 L172.8,350 L173.1,351.5 L173.4,348.8 L173.8,354.2 L174.1,347.6 L174.5,351.8 L174.8,348.3 L175.2,351.7 L175.6,345 L175.9,349.2 L176.2,348.7 L176.6,343.5 L176.9,341.8 L177.3,344.4 L177.6,347.4 L178,344.5 L178.3,342.8 L178.7,347.3 L179.1,351.2 L179.4,345.9 L179.8,353.5 L180.1,350.5 L180.4,348.7 L180.8,349.6 L181.1,353.4 L181.5,355.8 L181.8,354.5 L182.2,355.1 L182.6,360.2 L182.9,359.4 L183.2,362.6 L183.6,364.2 L183.9,367.9 L184.3,368.3 L184.6,366.7 L185,367.8 L185.3,375.4 L185.7,369.7 L186.1,371.7 L186.4,371.7 L186.8,379.1 L187.1,377 L187.4,381 L187.8,378.8 L188.1,376.1 L188.5,376 L188.8,377.8 L189.2,372.4 L189.6,376.6 L189.9,372.1 L190.2,367.9 L190.6,369.7 L190.9,370.7 L191.3,365 L191.6,369.7 L192,367.8 L192.3,362 L192.7,363.4 L193.1,359.4 L193.4,355.9 L193.8,350.4 L194.1,355.9 L194.4,355.2 L194.8,350.5 L195.2,349.4 L195.5,346.2 L195.8,350.6 L196.2,352.3 L196.5,347.6 L196.9,346.2 L197.2,348 L197.6,348 L197.9,348 L198.3,348 L198.7,348 L199,348 L199.3,348 L199.7,348 L200,348 L200.4,348 L200.8,348 L201.1,348 L201.4,348 L201.8,360 L202.1,377.5 L202.5,395 L202.8,412.5 L203.2,426 L203.5,436.5 L203.9,447 L204.2,457.5 L204.6,468 L204.9,478.5 L205.3,487.5 L205.6,496.2 L206,505 L206.3,513.7 L206.7,522.5 L207,530.7 L207.4,536 L207.8,541.2 L208.1,546.5 L208.4,551.7 L208.8,557 L209.1,561.2 L209.5,564 L209.8,566.8 L210.2,569.6 L210.5,572.4 L210.9,575.2 L211.2,578 L211.6,579.7 L211.9,579.3 L212.3,579.4 L212.6,579.3 L213,579.4 L213.3,579.4 L213.7,579.5 L214,579.3 L214.4,579.6 L214.8,579.4 L215.1,579.7 L215.4,579.5 L215.8,579.5 L216.1,579.7 L216.5,579.4 L216.8,579.4 L217.2,579.3 L217.5,579.4 L217.9,579.4 L218.2,579.6 L218.6,579.4 L218.9,579.6 L219.3,579.4 L219.6,579.3 L220,579.4 L220.3,579.5 L220.7,579.8 L221,579.4 L221.4,579.4 L221.8,579.3 L222.1,579.4 L222.4,579.8 L222.8,579.8 L223.1,579.4 L223.5,579.3 L223.8,579.5 L224.2,579.6 L224.5,579.3 L224.9,579.5 L225.2,579.7 L225.6,579.3 L225.9,579.7 L226.3,579.6 L226.6,579.7 L227,579.5 L227.3,579.5 L227.7,579.6 L228,579.4 L228.4,579.6 L228.8,579.4 L229.1,579.5 L229.4,579.3 L229.8,579.4 L230.1,579.3 L230.5,579.6 L230.8,579.4 L231.2,579.6 L231.5,579.6 L231.9,579.4 L232.2,579.4 L232.6,579.6 L232.9,579.7 L233.3,579.7 L233.6,579.6 L234,579.6 L234.3,579.3 L234.7,579.5 L235,579.7 L235.4,579.5 L235.8,579.4 L236.1,579.5 L236.4,579.8 L236.8,579.4 L237.1,579.4 L237.5,579.6 L237.8,579.8 L238.2,579.5 L238.5,579.4 L238.9,579.7 L239.2,579.4 L239.6,579.5 L239.9,579.6 L240.3,579.8 L240.6,579.8 L241,579.5 L241.3,579.5 L241.7,579.5 L242,579.4 L242.4,579.5 L242.8,579.7 L243.1,579.9 L243.4,579.5 L243.8,579.4 L244.1,579.7 L244.5,579.9 L244.8,579.8 L245.2,579.6 L245.5,579.7 L245.9,579.7 L246.2,579.7 L246.6,579.6 L246.9,579.9 L247.3,579.8 L247.6,579.5 L248,579.6 L248.3,579.4 L248.7,579.5 L249,579.8 L249.4,579.6 L249.8,579.6 L250.1,579.8 L250.4,579.4 L250.8,579.5 L251.1,579.6 L251.5,579.6 L251.8,579.7 L252.2,579.9 L252.5,579.8 L252.9,579.7 L253.2,579.7 L253.6,579.6 L253.9,579.9 L254.3,579.7 L254.6,579.7 L255,579.6 L255.3,579.6 L255.7,579.8 L256,579.6 L256.4,579.9 L256.8,579.8 L257.1,579.9 L257.4,579.8 L257.8,579.7 L258.1,579.6 L258.5,579.4 L258.9,579.7 L259.2,579.8 L259.5,579.8 L259.9,579.8 L260.2,579.4 L260.6,579.7 L260.9,579.5 L261.3,579.6 L261.6,579.9 L262,579.6 L262.4,579.6 L262.7,579.4 L263,579.5 L263.4,579.5 L263.8,579.5 L264.1,579.7 L264.4,579.4 L264.8,579.4 L265.1,579.4 L265.5,579.8 L265.9,579.9 L266.2,579.8 L266.5,579.7 L266.9,579.5 L267.2,579.8 L267.6,579.5 L267.9,579.4 L268.3,579.7 L268.6,579.9 L269,579.6 L269.4,579.9 L269.7,579.6 L270,579.9 L270.4,579.8 L270.8,579.9 L271.1,579.9 L271.4,579.9 L271.8,579.5 L272.1,579.7 L272.5,579.7 L272.9,579.8 L273.2,579.5 L273.5,579.7 L273.9,579.6 L274.2,579.5 L274.6,579.7 L274.9,579.9 L275.3,579.7 L275.6,579.6 L276,579.5 L276.4,579.6 L276.7,579.6 L277,579.6 L277.4,579.6 L277.8,579.6 L278.1,579.6 L278.4,579.8 L278.8,579.8 L279.1,579.8 L279.5,579.9 L279.9,579.8 L280.2,579.5 L280.5,579.7 L280.9,579.7 L281.2,579.8 L281.6,579.7 L281.9,579.5 L282.3,579.7 L282.6,579.8 L283,579.9 L283.4,579.7 L283.7,579.6 L284,579.5 L284.4,579.7 L284.8,579.9 L285.1,579.5 L285.4,579.7 L285.8,579.8 L286.1,579.8 L286.5,579.6 L286.9,579.5 L287.2,579.5 L287.5,579.6 L287.9,579.9 L288.2,579.7 L288.6,580 L288.9,579.9 L289.3,579.8 L289.6,579.7 L290,579.8 L290.4,579.9 L290.7,579.6 L291,579.6 L291.4,580 L291.8,579.8 L292.1,579.7 L292.4,579.7 L292.8,579.5 L293.1,579.8 L293.5,579.9 L293.9,579.7 L294.2,579.9 L294.5,579.9 L294.9,579.7 L295.2,579.8 L295.6,580 L295.9,579.9 L296.3,579.6 L296.6,579.8 L297,579.8 L297.4,579.9 L297.7,579.9 L298,580 L298.4,580 L298.8,579.6 L299.1,579.8 L299.4,579.5 L299.8,580 L300.1,579.6 L300.5,579.7 L300.9,579.8 L301.2,579.7 L301.5,579.6 L301.9,579.8 L302.2,579.6 L302.6,579.8 L302.9,579.9 L303.3,579.7 L303.6,579.7 L304,579.9 L304.4,579.8 L304.7,579.9 L305,580 L305.4,580 L305.8,579.6 L306.1,579.8 L306.4,579.6 L306.8,579.9 L307.1,579.7 L307.5,580 L307.9,579.8 L308.2,580 L308.5,579.5 L308.9,579.9 L309.2,579.7 L309.6,580 L309.9,579.6 L310.3,579.6 L310.6,579.9 L311,579.7 L311.4,579.8 L311.7,579.8 L312,580.1 L312.4,579.9 L312.8,580 L313.1,580 L313.4,580 L313.8,579.8 L314.1,579.7 L314.5,579.8 L314.9,580 L315.2,580 L315.5,579.8 L315.9,580 L316.2,580 L316.6,579.6 L316.9,579.9 L317.3,580 L317.6,579.6 L318,579.8 L318.4,579.9 L318.7,579.8 L319,579.8 L319.4,579.6 L319.8,579.7 L320.1,580 L320.4,579.7 L320.8,579.8 L321.1,579.9 L321.5,579.7 L321.9,579.8 L322.2,579.8 L322.6,580 L322.9,580 L323.2,579.7 L323.6,579.8 L323.9,580 L324.3,580.1 L324.6,579.9 L325,579.9 L325.3,579.9 L325.7,579.9 L326.1,580.1 L326.4,580.1 L326.8,580.1 L327.1,579.6 L327.4,580 L327.8,579.8 L328.1,579.7 L328.5,579.6 L328.8,580.1 L329.2,580.1 L329.6,579.9 L329.9,579.9 L330.2,579.7 L330.6,580.1 L330.9,580 L331.3,579.7 L331.6,579.9 L332,580.1 L332.3,579.7 L332.7,579.8 L333.1,579.8 L333.4,579.8 L333.8,579.7 L334.1,579.9 L334.4,579.7 L334.8,580 L335.1,579.9 L335.5,580.1 L335.8,580 L336.2,580.1 L336.5,579.7 L336.9,580 L337.2,580 L337.6,579.8 L337.9,579.6 L338.3,579.7 L338.6,580 L339,580.1 L339.3,579.7 L339.7,579.7 L340,579.8 L340.4,579.7 L340.8,580 L341.1,580.1 L341.4,580.1 L341.8,579.7 L342.1,580.1 L342.5,580 L342.8,579.7 L343.2,580.1 L343.5,580.1 L343.9,580.1 L344.2,580 L344.6,580.1 L344.9,579.9 L345.3,579.6 L345.6,580 L346,579.9 L346.3,579.7 L346.7,579.7 L347,580.1 L347.4,580.1 L347.8,579.7 L348.1,579.7 L348.4,580 L348.8,579.8 L349.1,580.1 L349.5,579.9 L349.8,580 L350.2,579.7 L350.5,580.1 L350.9,579.8 L351.2,579.9 L351.6,579.9 L351.9,579.8 L352.3,579.8 L352.6,579.9 L353,579.7 L353.3,579.7 L353.7,579.7 L354,580.1 L354.4,579.8 L354.8,580.2 L355.1,580.1 L355.4,579.8 L355.8,580.1 L356.1,580.2 L356.5,579.9 L356.8,579.9 L357.2,580 L357.5,579.9 L357.9,579.8 L358.2,580.1 L358.6,579.8 L358.9,579.9 L359.3,579.7 L359.6,579.9 L360,580.1 L360.3,579.8 L360.7,579.8 L361,579.9 L361.4,579.8 L361.8,579.7 L362.1,579.7 L362.4,579.8 L362.8,580.1 L363.1,580.1 L363.5,580.1 L363.8,580.1 L364.2,580.2 L364.5,579.8 L364.9,580.1 L365.2,579.9 L365.6,580.2 L365.9,579.9 L366.3,580.1 L366.6,580.1 L367,580.2 L367.3,580.1 L367.7,579.9 L368,580.1 L368.4,580.1 L368.8,580.2 L369.1,579.8 L369.4,580.1 L369.8,580.1 L370.1,579.8 L370.5,579.8 L370.8,580 L371.2,580 L371.5,579.9 L371.9,580 L372.2,579.8 L372.6,580 L372.9,580 L373.3,580.2 L373.6,580.1 L374,579.8 L374.3,580 L374.7,579.8 L375,580 L375.4,580.1 L375.8,580.1 L376.1,579.7 L376.4,580 L376.8,579.8 L377.1,580 L377.5,580 L377.8,580 L378.2,580.1 L378.5,579.9 L378.9,580 L379.2,579.9 L379.6,579.8 L379.9,580.1 L380.3,579.8 L380.6,580.2 L381,579.9 L381.3,579.8 L381.7,580.2 L382,579.8 L382.4,579.9 L382.8,580.1 L383.1,579.8 L383.4,580.1 L383.8,580.1 L384.1,580.3 L384.5,579.9 L384.8,580.2 L385.2,580.3 L385.5,580 L385.9,579.8 L386.2,579.9 L386.6,580.2 L386.9,579.8 L387.3,580.1 L387.6,580 L388,580.2 L388.3,580 L388.7,580.3 L389,579.8 L389.4,580 L389.8,579.9 L390.1,580.1 L390.4,579.9 L390.8,580 L391.1,580 L391.5,580.3 L391.8,579.8 L392.2,579.9 L392.5,579.9 L392.9,580.2 L393.2,580.2 L393.6,579.8 L393.9,580.2 L394.3,580.3 L394.6,580 L395,580.1 L395.3,580.2 L395.7,580.3 L396,579.9 L396.4,580.2 L396.8,579.8 L397.1,580 L397.4,580.3 L397.8,580.1 L398.1,580.1 L398.5,580 L398.8,580 L399.2,579.8 L399.5,580.1 L399.9,580.3 L400.2,579.9 L400.6,579.8 L400.9,580.1 L401.3,580.2 L401.6,580 L402,579.8 L402.3,580.2 L402.7,580.2 L403,579.9 L403.4,580.2 L403.8,580.1 L404.1,580.2 L404.4,579.9 L404.8,580 L405.1,580.2 L405.5,580.2 L405.8,580.3 L406.2,580.3 L406.5,580.2 L406.9,579.8 L407.2,580.1 L407.6,580.2 L407.9,580.2 L408.3,580 L408.6,579.9 L409,580.1 L409.3,579.9 L409.7,580.1 L410,580 L410.4,580.3 L410.8,579.8 L411.1,580.1 L411.4,580.3 L411.8,580.2 L412.1,579.9 L412.5,580.1 L412.8,580.3 L413.2,580.2 L413.5,580.3 L413.9,580.3 L414.2,580 L414.6,579.9 L414.9,580.2 L415.3,580.1 L415.6,580.3 L416,580.1 L416.3,580.2 L416.7,579.9 L417,580.3 L417.4,580.3 L417.8,580.3 L418.1,580.3 L418.4,580.2 L418.8,579.9 L419.1,580 L419.5,580 L419.8,580 L420.2,580.2 L420.5,580.1 L420.9,580.2 L421.2,580.3 L421.6,580.4 L421.9,579.9 L422.3,580.2 L422.6,580.2 L423,580.1 L423.3,580.3 L423.7,580.3 L424,580 L424.4,580.2 L424.8,580 L425.1,580.1 L425.4,580.1 L425.8,580.3 L426.1,580.4 L426.5,580.3 L426.8,580.2 L427.2,580.3 L427.5,580.2 L427.9,580.2 L428.2,580 L428.6,580 L428.9,580.4 L429.3,580.2 L429.6,579.9 L430,580.1 L430.3,580 L430.7,580 L431,580.1 L431.4,580 L431.8,579.9 L432.1,580.2 L432.4,580.4 L432.8,580.1 L433.1,580.1 L433.5,580.1 L433.8,580 L434.2,580.1 L434.5,580 L434.9,580.1 L435.2,580.4 L435.6,580.1 L435.9,580.4 L436.3,580.2 L436.6,580.3 L437,580.2 L437.3,580.1 L437.7,580.4 L438,580.2 L438.4,580 L438.8,580.1 L439.1,580.1 L439.4,580.2 L439.8,580.1 L440.1,580.1 L440.5,580.1 L440.8,580.5 L441.2,580.3 L441.5,580.4 L441.9,580.4 L442.2,580 L442.6,580.2 L442.9,580.3 L443.3,580.2 L443.6,580.2 L444,580.3 L444.3,580.3 L444.7,580 L445,580 L445.4,580.1 L445.8,580" stroke="#38ae66" stroke-width="3.8" fill="none" stroke-linejoin="round"/>
<path d="M66,578 L66.3,578 L66.7,578 L67,578 L67.4,578 L67.8,578 L68.1,578 L68.5,578 L68.8,578 L69.2,578 L69.5,578 L69.8,578 L70.2,578 L70.5,578 L70.9,578 L71.2,578 L71.6,578 L72,578 L72.3,578 L72.7,578 L73,578 L73.3,578 L73.7,578 L74,578 L74.4,578 L74.8,578 L75.1,578 L75.5,578 L75.8,578 L76.2,578 L76.5,578 L76.8,578 L77.2,578 L77.5,578 L77.9,578 L78.2,578 L78.6,578 L79,578 L79.3,578 L79.7,578 L80,578 L80.3,578 L80.7,578 L81,578 L81.4,578 L81.8,578 L82.1,578 L82.5,578 L82.8,578 L83.2,578 L83.5,578 L83.8,578 L84.2,578 L84.5,578 L84.9,578 L85.2,578 L85.6,578 L86,578 L86.3,577.9 L86.7,577.8 L87,577.7 L87.3,577.6 L87.7,577.5 L88,577.4 L88.4,577.3 L88.8,577.2 L89.1,577.1 L89.5,577 L89.8,576.9 L90.2,576.8 L90.5,576.7 L90.8,576.6 L91.2,576.5 L91.5,576.4 L91.9,576.3 L92.2,576.2 L92.6,576.1 L93,576 L93.3,575.9 L93.7,575.8 L94,575.7 L94.3,575.6 L94.7,575.5 L95,575.4 L95.4,575.3 L95.8,575.2 L96.1,575.1 L96.5,575 L96.8,574.9 L97.2,574.8 L97.5,574.7 L97.8,574.6 L98.2,574.5 L98.5,574.4 L98.9,574.3 L99.2,574.2 L99.6,574.1 L99.9,574 L100.3,573.8 L100.7,573.5 L101,573.2 L101.3,572.9 L101.7,572.6 L102,572.4 L102.4,572.1 L102.8,571.8 L103.1,571.5 L103.4,571.2 L103.8,571 L104.2,570.7 L104.5,570.4 L104.8,570.1 L105.2,569.8 L105.5,569.6 L105.9,569.3 L106.2,569 L106.6,568.7 L106.9,568.4 L107.3,568.2 L107.7,567.9 L108,567.6 L108.3,567.3 L108.7,567 L109,566.8 L109.4,566.5 L109.8,566.2 L110.1,565.9 L110.4,565.4 L110.8,564.9 L111.2,564.4 L111.5,563.9 L111.8,563.4 L112.2,562.9 L112.5,562.4 L112.9,561.9 L113.2,561.4 L113.6,560.9 L113.9,560.4 L114.3,559.9 L114.7,559.4 L115,558.9 L115.3,558.4 L115.7,557.9 L116,557.4 L116.4,556.9 L116.8,556.4 L117.1,555.9 L117.4,555.6 L117.8,555.4 L118.2,555.1 L118.5,554.8 L118.8,554.5 L119.2,554.2 L119.5,554 L119.9,553.7 L120.2,553.4 L120.6,553.1 L120.9,552.8 L121.3,552.6 L121.7,552.3 L122,552 L122.3,552.2 L122.7,552.4 L123,552.6 L123.4,552.8 L123.8,553 L124.1,553.3 L124.4,553.5 L124.8,553.7 L125.2,553.9 L125.5,554.1 L125.8,554.3 L126.2,554.5 L126.5,554.7 L126.9,554.9 L127.2,555.2 L127.6,555.6 L127.9,556 L128.3,556.3 L128.7,556.6 L129,557 L129.3,556.2 L129.7,555.4 L130.1,554.5 L130.4,553.7 L130.8,552.9 L131.1,552.1 L131.4,551.3 L131.8,550.5 L132.1,570.1 L132.5,567.5 L132.8,564.9 L133.2,562.3 L133.6,559.6 L133.9,557 L134.2,554.4 L134.6,551.8 L134.9,549.1 L135.3,546.5 L135.6,544.3 L136,542.5 L136.3,540.8 L136.7,539 L137.1,537.2 L137.4,535.5 L137.8,533.8 L138.1,532 L138.4,530.2 L138.8,527 L139.1,523.5 L139.5,520 L139.8,516.5 L140.2,513 L140.6,509.5 L140.9,506 L141.2,502.5 L141.6,499 L141.9,495.5 L142.3,492 L142.6,488.1 L143,483.8 L143.3,479.4 L143.7,475 L144.1,470.6 L144.4,466.3 L144.8,461.9 L145.1,457.5 L145.4,453.1 L145.8,448.7 L146.1,444.4 L146.5,440 L146.8,433.9 L147.2,427.8 L147.6,421.6 L147.9,415.5 L148.2,409.4 L148.6,403.3 L148.9,397.1 L149.3,391 L149.6,384.9 L150,378.8 L150.3,372.6 L150.7,366.5 L151.1,360.4 L151.4,354.3 L151.8,348.1 L152.1,342 L152.4,335.9 L152.8,329.7 L153.1,323.6 L153.5,317.5 L153.8,311.4 L154.2,315.5 L154.6,312 L154.9,315.4 L155.2,309.8 L155.6,309.9 L155.9,306.8 L156.3,307.9 L156.6,310.5 L157,310.3 L157.3,306.5 L157.7,303.8 L158.1,299.5 L158.4,307.8 L158.8,302.6 L159.1,302.3 L159.4,298.5 L159.8,298 L160.1,302.1 L160.5,309.4 L160.8,307.6 L161.2,308.1 L161.6,308.5 L161.9,304.9 L162.2,304.6 L162.6,310.2 L162.9,305.1 L163.3,310.2 L163.6,308.4 L164,307.8 L164.3,302.2 L164.7,300.7 L165.1,304.2 L165.4,299.7 L165.8,304.2 L166.1,300.4 L166.4,305.7 L166.8,309 L167.1,309.3 L167.5,310.3 L167.8,308.5 L168.2,312.1 L168.6,320.9 L168.9,314.9 L169.2,314.5 L169.6,315.3 L169.9,314.4 L170.3,315.6 L170.6,308.6 L171,314.4 L171.3,302.6 L171.7,309.5 L172.1,305.9 L172.4,310.1 L172.8,302.4 L173.1,308.9 L173.4,312.3 L173.8,309.8 L174.1,304.3 L174.5,313.8 L174.8,314.9 L175.2,306.7 L175.6,316.3 L175.9,309.9 L176.2,311.6 L176.6,321.2 L176.9,322.2 L177.3,326.5 L177.6,324.7 L178,325.1 L178.3,321.9 L178.7,324.6 L179.1,328.7 L179.4,324.3 L179.8,326.2 L180.1,318.2 L180.4,323.5 L180.8,322.9 L181.1,316 L181.5,326 L181.8,320.7 L182.2,322.9 L182.6,322.9 L182.9,331.3 L183.2,327.3 L183.6,338.2 L183.9,329.3 L184.3,339.4 L184.6,340 L185,339.1 L185.3,340.3 L185.7,343.9 L186.1,343.3 L186.4,339 L186.8,347.4 L187.1,342.9 L187.4,343.7 L187.8,341.1 L188.1,343.7 L188.5,336.6 L188.8,339.6 L189.2,329.4 L189.6,330.3 L189.9,332.4 L190.2,330.6 L190.6,332.1 L190.9,324.3 L191.3,329.9 L191.6,328.9 L192,320.7 L192.3,319.8 L192.7,323.7 L193.1,327.2 L193.4,323.3 L193.8,321.2 L194.1,322.1 L194.4,325.4 L194.8,322.2 L195.2,322.4 L195.5,323 L195.8,326.8 L196.2,325.1 L196.5,325.2 L196.9,318.5 L197.2,321.9 L197.6,324 L197.9,322.4 L198.3,320 L198.7,320 L199,320 L199.3,320 L199.7,320 L200,320 L200.4,320 L200.8,320 L201.1,325 L201.4,342.5 L201.8,360 L202.1,377.5 L202.5,395 L202.8,412.5 L203.2,426 L203.5,436.5 L203.9,447 L204.2,457.5 L204.6,468 L204.9,478.5 L205.3,487.5 L205.6,496.2 L206,505 L206.3,513.7 L206.7,522.5 L207,530.7 L207.4,536 L207.8,541.2 L208.1,546.5 L208.4,551.7 L208.8,557 L209.1,561.2 L209.5,564 L209.8,566.8 L210.2,569.6 L210.5,572.4 L210.9,575.2 L211.2,578 L211.6,577.9 L211.9,578.1 L212.3,577.9 L212.6,578.2 L213,577.8 L213.3,578.3 L213.7,578.3 L214,577.7 L214.4,578.2 L214.8,578.2 L215.1,578.1 L215.4,577.8 L215.8,578.2 L216.1,578.2 L216.5,578.1 L216.8,578.3 L217.2,578.3 L217.5,578.1 L217.9,578.3 L218.2,577.8 L218.6,577.9 L218.9,578 L219.3,578 L219.6,578.3 L220,578.1 L220.3,578.1 L220.7,578.1 L221,578.3 L221.4,578 L221.8,578.2 L222.1,578.1 L222.4,578 L222.8,577.9 L223.1,577.8 L223.5,577.7 L223.8,577.9 L224.2,577.9 L224.5,577.8 L224.9,578 L225.2,577.9 L225.6,578.3 L225.9,578.2 L226.3,578.2 L226.6,578.3 L227,577.9 L227.3,577.8 L227.7,578.1 L228,577.9 L228.4,578.4 L228.8,578 L229.1,578.3 L229.4,577.9 L229.8,577.8 L230.1,578.1 L230.5,578.2 L230.8,577.9 L231.2,578.3 L231.5,578.4 L231.9,578.2 L232.2,578.4 L232.6,578.4 L232.9,577.8 L233.3,578.2 L233.6,578.2 L234,578.2 L234.3,578 L234.7,578.1 L235,578.1 L235.4,578.3 L235.8,577.8 L236.1,578 L236.4,578 L236.8,578.3 L237.1,577.8 L237.5,577.8 L237.8,577.8 L238.2,577.8 L238.5,578 L238.9,578.3 L239.2,578 L239.6,577.8 L239.9,578.2 L240.3,578 L240.6,578.1 L241,578.3 L241.3,578.1 L241.7,578.2 L242,578.2 L242.4,578.3 L242.8,578.3 L243.1,578.4 L243.4,578.3 L243.8,578 L244.1,578.1 L244.5,578.3 L244.8,578.3 L245.2,578.3 L245.5,578.3 L245.9,578.3 L246.2,578.1 L246.6,578.2 L246.9,577.8 L247.3,578.1 L247.6,578.3 L248,578.4 L248.3,578.3 L248.7,578.1 L249,577.9 L249.4,578.4 L249.8,578.2 L250.1,577.9 L250.4,577.8 L250.8,578.4 L251.1,578.2 L251.5,577.9 L251.8,578.4 L252.2,578.2 L252.5,578.3 L252.9,578.3 L253.2,578 L253.6,578.1 L253.9,577.9 L254.3,578.2 L254.6,578.1 L255,578.3 L255.3,577.9 L255.7,577.9 L256,578.1 L256.4,577.8 L256.8,578.1 L257.1,578.4 L257.4,578.4 L257.8,577.9 L258.1,578.4 L258.5,578 L258.9,578 L259.2,578.2 L259.5,578 L259.9,577.9 L260.2,577.9 L260.6,577.9 L260.9,577.9 L261.3,578.4 L261.6,577.8 L262,578.2 L262.4,578 L262.7,578.3 L263,577.8 L263.4,578.1 L263.8,578.3 L264.1,577.8 L264.4,578.1 L264.8,578 L265.1,578.2 L265.5,578.2 L265.9,577.9 L266.2,578.4 L266.5,578 L266.9,578.3 L267.2,577.9 L267.6,577.9 L267.9,578 L268.3,577.9 L268.6,578 L269,577.9 L269.4,577.9 L269.7,578.4 L270,578.2 L270.4,578.2 L270.8,578.2 L271.1,578.4 L271.4,577.9 L271.8,577.9 L272.1,578.3 L272.5,577.9 L272.9,578.2 L273.2,578.3 L273.5,578.4 L273.9,577.9 L274.2,578.1 L274.6,578.1 L274.9,578.2 L275.3,577.9 L275.6,578.4 L276,578.5 L276.4,578.2 L276.7,578.3 L277,578.4 L277.4,578.4 L277.8,578.4 L278.1,578.2 L278.4,577.9 L278.8,578.4 L279.1,578.4 L279.5,578.3 L279.9,578.1 L280.2,578.5 L280.5,578.3 L280.9,578.1 L281.2,578.4 L281.6,578 L281.9,578 L282.3,578.5 L282.6,577.9 L283,578.5 L283.4,578.1 L283.7,578.3 L284,578.3 L284.4,578.5 L284.8,578 L285.1,578 L285.4,578.2 L285.8,578 L286.1,578.2 L286.5,578 L286.9,578 L287.2,578.3 L287.5,577.9 L287.9,578.1 L288.2,578.2 L288.6,578 L288.9,578.4 L289.3,578.5 L289.6,577.9 L290,578.4 L290.4,578 L290.7,578.4 L291,578 L291.4,578.4 L291.8,578.5 L292.1,578.1 L292.4,578 L292.8,578.1 L293.1,578.5 L293.5,578.4 L293.9,578 L294.2,578.5 L294.5,578.4 L294.9,578.6 L295.2,578.6 L295.6,578 L295.9,578.4 L296.3,577.9 L296.6,578.1 L297,578.3 L297.4,578.1 L297.7,578.1 L298,578.2 L298.4,578.2 L298.8,578.5 L299.1,578.3 L299.4,578.3 L299.8,578.4 L300.1,578.1 L300.5,578.5 L300.9,578.4 L301.2,578.5 L301.5,578.2 L301.9,578.3 L302.2,578 L302.6,578.2 L302.9,578.4 L303.3,578.6 L303.6,578.5 L304,578.2 L304.4,578.4 L304.7,578.5 L305,578.6 L305.4,578.4 L305.8,578.2 L306.1,578.5 L306.4,578 L306.8,578.3 L307.1,578.3 L307.5,578.5 L307.9,578.4 L308.2,578.1 L308.5,578.1 L308.9,578 L309.2,578.5 L309.6,578.5 L309.9,578.2 L310.3,578.1 L310.6,578.3 L311,578.1 L311.4,578.3 L311.7,578.2 L312,578.2 L312.4,578.4 L312.8,578.1 L313.1,578.2 L313.4,578.3 L313.8,578.6 L314.1,578.1 L314.5,578.2 L314.9,578.2 L315.2,578.2 L315.5,578.3 L315.9,578.5 L316.2,578.1 L316.6,578.5 L316.9,578.3 L317.3,578.4 L317.6,578.3 L318,578.4 L318.4,578.1 L318.7,578.4 L319,578.3 L319.4,578.5 L319.8,578.4 L320.1,578.3 L320.4,578.6 L320.8,578.1 L321.1,578 L321.5,578.1 L321.9,578.5 L322.2,578.1 L322.6,578.5 L322.9,578.1 L323.2,578.2 L323.6,578.4 L323.9,578 L324.3,578.3 L324.6,578.7 L325,578.5 L325.3,578.3 L325.7,578.6 L326.1,578.4 L326.4,578.6 L326.8,578.2 L327.1,578.3 L327.4,578.5 L327.8,578.5 L328.1,578.5 L328.5,578.1 L328.8,578.3 L329.2,578.2 L329.6,578.2 L329.9,578.1 L330.2,578.5 L330.6,578.1 L330.9,578.3 L331.3,578 L331.6,578.5 L332,578.4 L332.3,578.1 L332.7,578.7 L333.1,578.7 L333.4,578.5 L333.8,578.6 L334.1,578.5 L334.4,578.1 L334.8,578.2 L335.1,578.2 L335.5,578.1 L335.8,578.5 L336.2,578.4 L336.5,578.3 L336.9,578.5 L337.2,578.2 L337.6,578.2 L337.9,578.1 L338.3,578.2 L338.6,578.6 L339,578.4 L339.3,578.5 L339.7,578.6 L340,578.5 L340.4,578.3 L340.8,578.7 L341.1,578.1 L341.4,578.3 L341.8,578.6 L342.1,578.5 L342.5,578.3 L342.8,578.6 L343.2,578.6 L343.5,578.5 L343.9,578.2 L344.2,578.5 L344.6,578.5 L344.9,578.6 L345.3,578.4 L345.6,578.7 L346,578.6 L346.3,578.2 L346.7,578.5 L347,578.2 L347.4,578.5 L347.8,578.3 L348.1,578.7 L348.4,578.3 L348.8,578.6 L349.1,578.6 L349.5,578.3 L349.8,578.5 L350.2,578.2 L350.5,578.3 L350.9,578.4 L351.2,578.6 L351.6,578.4 L351.9,578.2 L352.3,578.5 L352.6,578.4 L353,578.4 L353.3,578.4 L353.7,578.7 L354,578.5 L354.4,578.5 L354.8,578.4 L355.1,578.4 L355.4,578.4 L355.8,578.6 L356.1,578.4 L356.5,578.2 L356.8,578.3 L357.2,578.1 L357.5,578.1 L357.9,578.3 L358.2,578.4 L358.6,578.4 L358.9,578.2 L359.3,578.3 L359.6,578.4 L360,578.3 L360.3,578.3 L360.7,578.4 L361,578.6 L361.4,578.2 L361.8,578.1 L362.1,578.4 L362.4,578.7 L362.8,578.5 L363.1,578.4 L363.5,578.8 L363.8,578.6 L364.2,578.7 L364.5,578.7 L364.9,578.2 L365.2,578.3 L365.6,578.7 L365.9,578.4 L366.3,578.7 L366.6,578.2 L367,578.8 L367.3,578.5 L367.7,578.4 L368,578.7 L368.4,578.5 L368.8,578.4 L369.1,578.3 L369.4,578.7 L369.8,578.2 L370.1,578.3 L370.5,578.2 L370.8,578.2 L371.2,578.3 L371.5,578.2 L371.9,578.5 L372.2,578.4 L372.6,578.2 L372.9,578.5 L373.3,578.3 L373.6,578.3 L374,578.5 L374.3,578.4 L374.7,578.2 L375,578.8 L375.4,578.8 L375.8,578.3 L376.1,578.6 L376.4,578.6 L376.8,578.3 L377.1,578.5 L377.5,578.3 L377.8,578.4 L378.2,578.5 L378.5,578.2 L378.9,578.3 L379.2,578.8 L379.6,578.7 L379.9,578.4 L380.3,578.8 L380.6,578.4 L381,578.7 L381.3,578.4 L381.7,578.8 L382,578.5 L382.4,578.8 L382.8,578.3 L383.1,578.4 L383.4,578.4 L383.8,578.7 L384.1,578.8 L384.5,578.3 L384.8,578.5 L385.2,578.3 L385.5,578.2 L385.9,578.3 L386.2,578.2 L386.6,578.4 L386.9,578.5 L387.3,578.8 L387.6,578.6 L388,578.7 L388.3,578.4 L388.7,578.4 L389,578.5 L389.4,578.4 L389.8,578.2 L390.1,578.4 L390.4,578.8 L390.8,578.2 L391.1,578.5 L391.5,578.4 L391.8,578.7 L392.2,578.2 L392.5,578.6 L392.9,578.7 L393.2,578.5 L393.6,578.3 L393.9,578.8 L394.3,578.2 L394.6,578.8 L395,578.8 L395.3,578.8 L395.7,578.8 L396,578.5 L396.4,578.6 L396.8,578.5 L397.1,578.6 L397.4,578.5 L397.8,578.8 L398.1,578.4 L398.5,578.6 L398.8,578.3 L399.2,578.3 L399.5,578.8 L399.9,578.5 L400.2,578.5 L400.6,578.9 L400.9,578.7 L401.3,578.3 L401.6,578.6 L402,578.6 L402.3,578.6 L402.7,578.4 L403,578.4 L403.4,578.9 L403.8,578.6 L404.1,578.6 L404.4,578.7 L404.8,578.7 L405.1,578.4 L405.5,578.8 L405.8,578.6 L406.2,578.4 L406.5,578.5 L406.9,578.9 L407.2,578.8 L407.6,578.9 L407.9,578.6 L408.3,578.7 L408.6,578.5 L409,578.7 L409.3,578.6 L409.7,578.5 L410,578.9 L410.4,578.6 L410.8,578.3 L411.1,578.8 L411.4,578.3 L411.8,578.5 L412.1,578.6 L412.5,578.4 L412.8,578.6 L413.2,578.6 L413.5,578.6 L413.9,578.7 L414.2,578.7 L414.6,578.3 L414.9,578.4 L415.3,578.4 L415.6,578.5 L416,578.6 L416.3,578.8 L416.7,578.3 L417,578.8 L417.4,578.4 L417.8,578.8 L418.1,578.9 L418.4,578.9 L418.8,578.7 L419.1,578.3 L419.5,578.5 L419.8,578.6 L420.2,578.7 L420.5,578.9 L420.9,578.9 L421.2,578.3 L421.6,578.4 L421.9,578.7 L422.3,578.4 L422.6,578.7 L423,578.6 L423.3,578.7 L423.7,578.5 L424,578.9 L424.4,578.5 L424.8,578.5 L425.1,578.4 L425.4,578.5 L425.8,578.4 L426.1,578.7 L426.5,578.3 L426.8,578.5 L427.2,578.9 L427.5,578.9 L427.9,578.5 L428.2,578.8 L428.6,578.9 L428.9,578.8 L429.3,578.7 L429.6,578.8 L430,578.5 L430.3,578.5 L430.7,578.5 L431,578.5 L431.4,578.7 L431.8,578.7 L432.1,578.5 L432.4,578.4 L432.8,578.4 L433.1,578.5 L433.5,578.4 L433.8,578.7 L434.2,578.9 L434.5,578.7 L434.9,578.8 L435.2,578.6 L435.6,578.4 L435.9,578.8 L436.3,578.9 L436.6,578.4 L437,578.6 L437.3,578.8 L437.7,578.8 L438,578.5 L438.4,578.6 L438.8,578.6 L439.1,578.7 L439.4,578.9 L439.8,578.5 L440.1,578.6 L440.5,579 L440.8,578.5 L441.2,578.5 L441.5,578.9 L441.9,578.8 L442.2,578.7 L442.6,578.7 L442.9,578.4 L443.3,578.8 L443.6,578.5 L444,578.7 L444.3,579 L444.7,578.7 L445,578.6 L445.4,578.6 L445.8,578.6" stroke="#078c5e" stroke-width="3.8" fill="none" stroke-linejoin="round"/>
<path d="M66,575 L66.3,575 L66.7,575 L67,575 L67.4,575 L67.8,575 L68.1,575 L68.5,575 L68.8,575 L69.2,575 L69.5,575 L69.8,575 L70.2,575 L70.5,575 L70.9,575 L71.2,575 L71.6,575 L72,575 L72.3,575 L72.7,575 L73,575 L73.3,575 L73.7,575 L74,575 L74.4,575 L74.8,575 L75.1,575 L75.5,575 L75.8,575 L76.2,575 L76.5,575 L76.8,575 L77.2,575 L77.5,575 L77.9,575 L78.2,575 L78.6,575 L79,575 L79.3,575 L79.7,575 L80,575 L80.3,575 L80.7,575 L81,575 L81.4,575 L81.8,575 L82.1,575 L82.5,575 L82.8,575 L83.2,575 L83.5,575 L83.8,575 L84.2,575 L84.5,575 L84.9,575 L85.2,575 L85.6,575 L86,575 L86.3,574.9 L86.7,574.8 L87,574.7 L87.3,574.6 L87.7,574.5 L88,574.4 L88.4,574.3 L88.8,574.2 L89.1,574.1 L89.5,574 L89.8,573.9 L90.2,573.8 L90.5,573.7 L90.8,573.6 L91.2,573.5 L91.5,573.4 L91.9,573.3 L92.2,573.2 L92.6,573.1 L93,573 L93.3,572.9 L93.7,572.8 L94,572.7 L94.3,572.6 L94.7,572.5 L95,572.4 L95.4,572.3 L95.8,572.2 L96.1,572.1 L96.5,572 L96.8,571.9 L97.2,571.8 L97.5,571.7 L97.8,571.6 L98.2,571.5 L98.5,571.4 L98.9,571.3 L99.2,571.2 L99.6,571.1 L99.9,571 L100.3,570.7 L100.7,570.4 L101,570.1 L101.3,569.8 L101.7,569.5 L102,569.2 L102.4,568.8 L102.8,568.5 L103.1,568.2 L103.4,567.9 L103.8,567.6 L104.2,567.3 L104.5,567 L104.8,566.6 L105.2,566.3 L105.5,566 L105.9,565.7 L106.2,565.4 L106.6,565.1 L106.9,564.7 L107.3,564.4 L107.7,564.1 L108,563.8 L108.3,563.5 L108.7,563.2 L109,562.9 L109.4,562.5 L109.8,562.2 L110.1,561.9 L110.4,561.4 L110.8,560.9 L111.2,560.4 L111.5,559.9 L111.8,559.4 L112.2,558.9 L112.5,558.4 L112.9,557.9 L113.2,557.4 L113.6,556.9 L113.9,556.4 L114.3,555.9 L114.7,555.4 L115,554.9 L115.3,554.4 L115.7,553.9 L116,553.4 L116.4,552.9 L116.8,552.4 L117.1,551.9 L117.4,551.6 L117.8,551.4 L118.2,551.1 L118.5,550.8 L118.8,550.5 L119.2,550.2 L119.5,550 L119.9,549.7 L120.2,549.4 L120.6,549.1 L120.9,548.8 L121.3,548.6 L121.7,548.3 L122,548 L122.3,548.2 L122.7,548.4 L123,548.6 L123.4,548.8 L123.8,549 L124.1,549.3 L124.4,549.5 L124.8,549.7 L125.2,549.9 L125.5,550.1 L125.8,550.3 L126.2,550.5 L126.5,550.7 L126.9,550.9 L127.2,551.4 L127.6,551.9 L127.9,552.4 L128.3,553 L128.7,553.5 L129,554 L129.3,553.3 L129.7,552.6 L130.1,551.9 L130.4,551.2 L130.8,550.5 L131.1,549.8 L131.4,549.1 L131.8,548.4 L132.1,555.1 L132.5,552.5 L132.8,549.9 L133.2,547.3 L133.6,544.8 L133.9,543 L134.2,541.2 L134.6,539.5 L134.9,537.8 L135.3,536 L135.6,534.3 L136,532.5 L136.3,530.8 L136.7,528 L137.1,524.5 L137.4,521 L137.8,517.5 L138.1,514 L138.4,510.5 L138.8,507 L139.1,503.5 L139.5,500 L139.8,496.5 L140.2,493 L140.6,489.4 L140.9,485 L141.2,480.6 L141.6,476.3 L141.9,471.9 L142.3,467.5 L142.6,463.1 L143,458.8 L143.3,454.4 L143.7,450 L144.1,445.6 L144.4,441.3 L144.8,435.6 L145.1,429.5 L145.4,423.4 L145.8,417.2 L146.1,411.1 L146.5,405 L146.8,398.9 L147.2,392.8 L147.6,386.6 L147.9,380.5 L148.2,374.4 L148.6,368.3 L148.9,362.1 L149.3,356 L149.6,349.9 L150,343.8 L150.3,337.6 L150.7,331.5 L151.1,325.4 L151.4,319.3 L151.8,313.1 L152.1,307 L152.4,300.9 L152.8,292.5 L153.1,283.8 L153.5,275 L153.8,266.3 L154.2,257.5 L154.6,248.7 L154.9,250.3 L155.2,245.3 L155.6,246.3 L155.9,248.8 L156.3,247.9 L156.6,242 L157,248.5 L157.3,247.2 L157.7,251.1 L158.1,240.1 L158.4,244.7 L158.8,251 L159.1,249.7 L159.4,249.4 L159.8,250.2 L160.1,251.5 L160.5,252.5 L160.8,253.3 L161.2,251.8 L161.6,253 L161.9,247.3 L162.2,244.1 L162.6,251.2 L162.9,262.8 L163.3,265.7 L163.6,267.6 L164,264.4 L164.3,266.7 L164.7,275.8 L165.1,274.1 L165.4,272.3 L165.8,285.8 L166.1,276.5 L166.4,288.6 L166.8,285.8 L167.1,291.9 L167.5,289.5 L167.8,281.1 L168.2,281.7 L168.6,291.5 L168.9,285.3 L169.2,286.6 L169.6,290.4 L169.9,288.5 L170.3,287.8 L170.6,281.9 L171,275.3 L171.3,279.1 L171.7,267.2 L172.1,273.3 L172.4,271.4 L172.8,258.7 L173.1,254.3 L173.4,267 L173.8,255.2 L174.1,259.4 L174.5,254.8 L174.8,251.6 L175.2,252.5 L175.6,248.8 L175.9,259.5 L176.2,258.5 L176.6,259.5 L176.9,250.6 L177.3,254 L177.6,251.3 L178,263.2 L178.3,267.1 L178.7,268.7 L179.1,269.1 L179.4,267.6 L179.8,267.9 L180.1,264.1 L180.4,264.9 L180.8,275.7 L181.1,281.3 L181.5,280 L181.8,270.1 L182.2,270.1 L182.6,274 L182.9,263.5 L183.2,268.8 L183.6,265.2 L183.9,261.2 L184.3,263.1 L184.6,262.9 L185,266 L185.3,271.6 L185.7,285.2 L186.1,285.9 L186.4,277 L186.8,291.5 L187.1,283.7 L187.4,286.9 L187.8,288.8 L188.1,285.3 L188.5,281.8 L188.8,280.1 L189.2,271.4 L189.6,259.2 L189.9,259.2 L190.2,262.7 L190.6,259 L190.9,261.2 L191.3,247.5 L191.6,255.7 L192,248.5 L192.3,246.2 L192.7,236.5 L193.1,237.6 L193.4,238.4 L193.8,240.4 L194.1,237.8 L194.4,235.6 L194.8,235.1 L195.2,229.5 L195.5,230.8 L195.8,242 L196.2,239 L196.5,238.9 L196.9,246.5 L197.2,248 L197.6,249.3 L197.9,256.7 L198.3,251.3 L198.7,262.9 L199,261.2 L199.3,260 L199.7,260 L200,263 L200.4,284 L200.8,305 L201.1,325 L201.4,342.5 L201.8,360 L202.1,377.5 L202.5,395 L202.8,412.5 L203.2,426 L203.5,436.5 L203.9,447 L204.2,457.5 L204.6,468 L204.9,478.5 L205.3,487.5 L205.6,496.2 L206,505 L206.3,513.7 L206.7,522.5 L207,530.7 L207.4,536 L207.8,541.2 L208.1,546.5 L208.4,551.7 L208.8,557 L209.1,561.2 L209.5,564 L209.8,566.8 L210.2,569.6 L210.5,572.4 L210.9,575 L211.2,574.4 L211.6,574.3 L211.9,573.9 L212.3,573.6 L212.6,574.2 L213,573.8 L213.3,573.7 L213.7,574.4 L214,573.9 L214.4,573.7 L214.8,573.8 L215.1,574.5 L215.4,573.9 L215.8,574 L216.1,573.8 L216.5,573.6 L216.8,573.7 L217.2,573.6 L217.5,574 L217.9,574 L218.2,574.2 L218.6,574.3 L218.9,574.4 L219.3,573.7 L219.6,574.1 L220,573.7 L220.3,573.8 L220.7,573.9 L221,573.9 L221.4,574.3 L221.8,574 L222.1,573.7 L222.4,574.1 L222.8,573.8 L223.1,574.4 L223.5,573.7 L223.8,573.7 L224.2,573.6 L224.5,573.9 L224.9,574.3 L225.2,573.7 L225.6,574.1 L225.9,574.4 L226.3,573.8 L226.6,574.3 L227,574.2 L227.3,574.5 L227.7,574.4 L228,574.2 L228.4,574 L228.8,573.9 L229.1,573.7 L229.4,573.7 L229.8,574.2 L230.1,573.9 L230.5,573.7 L230.8,574 L231.2,573.7 L231.5,574.2 L231.9,574.5 L232.2,573.9 L232.6,573.6 L232.9,573.8 L233.3,573.9 L233.6,574.4 L234,574.5 L234.3,574.2 L234.7,574 L235,573.7 L235.4,574.4 L235.8,573.6 L236.1,573.9 L236.4,574.3 L236.8,574.3 L237.1,573.8 L237.5,574.5 L237.8,574.2 L238.2,574.3 L238.5,573.8 L238.9,574.4 L239.2,573.7 L239.6,574.2 L239.9,573.7 L240.3,574.3 L240.6,574.2 L241,574.2 L241.3,574 L241.7,574.3 L242,573.7 L242.4,573.8 L242.8,573.7 L243.1,574.2 L243.4,573.7 L243.8,573.7 L244.1,574.4 L244.5,573.9 L244.8,574 L245.2,574.4 L245.5,574 L245.9,574.4 L246.2,574.5 L246.6,573.8 L246.9,573.9 L247.3,573.7 L247.6,573.9 L248,574.2 L248.3,574.5 L248.7,574.4 L249,574.3 L249.4,573.8 L249.8,574.5 L250.1,574.1 L250.4,574.4 L250.8,573.8 L251.1,574.5 L251.5,574 L251.8,573.9 L252.2,574.4 L252.5,574.3 L252.9,574 L253.2,574.1 L253.6,574.3 L253.9,574 L254.3,574.2 L254.6,574.1 L255,574 L255.3,574 L255.7,573.9 L256,574.4 L256.4,574.3 L256.8,573.8 L257.1,573.8 L257.4,574 L257.8,574.2 L258.1,574.1 L258.5,574.3 L258.9,574.3 L259.2,574 L259.5,573.8 L259.9,574.3 L260.2,574.2 L260.6,574 L260.9,574.5 L261.3,573.8 L261.6,573.8 L262,574.3 L262.4,574.1 L262.7,574.3 L263,573.8 L263.4,574.1 L263.8,574.3 L264.1,574.1 L264.4,573.8 L264.8,573.8 L265.1,574 L265.5,574 L265.9,574.5 L266.2,573.8 L266.5,574.4 L266.9,574.6 L267.2,574.2 L267.6,573.9 L267.9,574.3 L268.3,574.6 L268.6,574.1 L269,574.4 L269.4,573.9 L269.7,574 L270,574 L270.4,574.3 L270.8,574.6 L271.1,573.9 L271.4,573.8 L271.8,574 L272.1,574.3 L272.5,574.3 L272.9,574.2 L273.2,574.4 L273.5,574.2 L273.9,573.9 L274.2,574.6 L274.6,574 L274.9,573.7 L275.3,573.9 L275.6,574 L276,574.4 L276.4,574 L276.7,573.9 L277,574.4 L277.4,574.3 L277.8,574.3 L278.1,574 L278.4,574.6 L278.8,574.3 L279.1,574.2 L279.5,574.6 L279.9,574 L280.2,574 L280.5,574.3 L280.9,574.3 L281.2,574.3 L281.6,573.8 L281.9,574.4 L282.3,574.6 L282.6,574.1 L283,574.5 L283.4,573.9 L283.7,573.9 L284,574.3 L284.4,574.6 L284.8,574.3 L285.1,574 L285.4,573.9 L285.8,574.6 L286.1,574.4 L286.5,574.7 L286.9,574 L287.2,574.5 L287.5,573.9 L287.9,573.9 L288.2,574.1 L288.6,574.1 L288.9,574.5 L289.3,574.2 L289.6,574.1 L290,574.6 L290.4,574.6 L290.7,574.2 L291,574.5 L291.4,573.9 L291.8,574.1 L292.1,574.6 L292.4,574.2 L292.8,573.9 L293.1,574 L293.5,574.6 L293.9,574.1 L294.2,574.7 L294.5,574.7 L294.9,574.3 L295.2,574.6 L295.6,574.1 L295.9,574.5 L296.3,573.9 L296.6,574.2 L297,573.8 L297.4,574.1 L297.7,574.7 L298,574.4 L298.4,573.9 L298.8,574.6 L299.1,574.6 L299.4,574.7 L299.8,574.2 L300.1,573.9 L300.5,574.5 L300.9,574.3 L301.2,573.9 L301.5,574.3 L301.9,574.4 L302.2,574.5 L302.6,574.4 L302.9,574.1 L303.3,573.9 L303.6,573.9 L304,573.9 L304.4,574.2 L304.7,574.2 L305,574.7 L305.4,574.3 L305.8,574.6 L306.1,574.4 L306.4,574.5 L306.8,574.6 L307.1,574.6 L307.5,574.5 L307.9,574.3 L308.2,574.6 L308.5,574.1 L308.9,574.1 L309.2,574 L309.6,574 L309.9,573.9 L310.3,574 L310.6,574.1 L311,574.5 L311.4,574.7 L311.7,574.4 L312,574.5 L312.4,574.3 L312.8,574 L313.1,574.5 L313.4,574.4 L313.8,574.3 L314.1,574.6 L314.5,574.7 L314.9,574 L315.2,573.9 L315.5,574.2 L315.9,574.4 L316.2,574.3 L316.6,574.1 L316.9,574.1 L317.3,574.3 L317.6,574 L318,574.3 L318.4,574.7 L318.7,574.7 L319,574.6 L319.4,574 L319.8,574.2 L320.1,574 L320.4,574.1 L320.8,573.9 L321.1,573.9 L321.5,574.5 L321.9,574.1 L322.2,574.5 L322.6,574.3 L322.9,574.1 L323.2,574.5 L323.6,574.3 L323.9,574.1 L324.3,574.1 L324.6,574.3 L325,574.1 L325.3,574.3 L325.7,574.2 L326.1,574.7 L326.4,574 L326.8,574.6 L327.1,574 L327.4,573.9 L327.8,574.7 L328.1,574.6 L328.5,574.3 L328.8,574.7 L329.2,574.2 L329.6,574.2 L329.9,574.7 L330.2,574.6 L330.6,574.8 L330.9,574.2 L331.3,574.6 L331.6,574.7 L332,574.6 L332.3,574.2 L332.7,574.8 L333.1,574.6 L333.4,574 L333.8,574.4 L334.1,574.8 L334.4,574.6 L334.8,574.6 L335.1,574 L335.5,574.7 L335.8,574.2 L336.2,574.1 L336.5,574.6 L336.9,574.4 L337.2,574.8 L337.6,574.7 L337.9,574 L338.3,574 L338.6,574.1 L339,574 L339.3,574.2 L339.7,574.3 L340,574 L340.4,574.6 L340.8,574.7 L341.1,574.3 L341.4,574.4 L341.8,574.5 L342.1,574.8 L342.5,574.6 L342.8,574.1 L343.2,574.4 L343.5,574.2 L343.9,574.8 L344.2,574.7 L344.6,574.4 L344.9,574.8 L345.3,574.7 L345.6,574.7 L346,574.3 L346.3,574.7 L346.7,574.1 L347,574.7 L347.4,574.3 L347.8,574.8 L348.1,574.4 L348.4,574.2 L348.8,574.2 L349.1,574.3 L349.5,574.8 L349.8,574.4 L350.2,574.3 L350.5,574.8 L350.9,574.7 L351.2,574 L351.6,574.4 L351.9,574.8 L352.3,574.3 L352.6,574 L353,574.5 L353.3,574.6 L353.7,574.7 L354,574.6 L354.4,574.4 L354.8,574.4 L355.1,574.1 L355.4,574.8 L355.8,574.9 L356.1,574.1 L356.5,574.1 L356.8,574 L357.2,574.3 L357.5,574.7 L357.9,574.3 L358.2,574.2 L358.6,574.4 L358.9,574.6 L359.3,574.5 L359.6,574.4 L360,574.4 L360.3,574.4 L360.7,574.6 L361,574.3 L361.4,574.9 L361.8,574.6 L362.1,574.8 L362.4,574.6 L362.8,574.9 L363.1,574 L363.5,574.3 L363.8,574.5 L364.2,574.9 L364.5,574.4 L364.9,574.2 L365.2,574.6 L365.6,574.9 L365.9,574 L366.3,574.1 L366.6,574.6 L367,574.2 L367.3,574.9 L367.7,574 L368,574.7 L368.4,574.3 L368.8,574.6 L369.1,574.6 L369.4,574.5 L369.8,574.3 L370.1,574.9 L370.5,574.4 L370.8,574.2 L371.2,574 L371.5,574.6 L371.9,574.2 L372.2,574.5 L372.6,574.3 L372.9,574.1 L373.3,574.5 L373.6,574.6 L374,574.4 L374.3,574.9 L374.7,574.8 L375,574.6 L375.4,574.7 L375.8,574.8 L376.1,574.4 L376.4,574.9 L376.8,574.3 L377.1,574.9 L377.5,574.8 L377.8,574.1 L378.2,574.1 L378.5,574.6 L378.9,574.4 L379.2,574.5 L379.6,574.1 L379.9,574.5 L380.3,574.6 L380.6,574.7 L381,574.6 L381.3,574.7 L381.7,574.5 L382,574.9 L382.4,574.3 L382.8,574.5 L383.1,574.4 L383.4,574.8 L383.8,574.4 L384.1,574.2 L384.5,574.7 L384.8,574.7 L385.2,574.3 L385.5,574.9 L385.9,574.1 L386.2,574.3 L386.6,574.9 L386.9,574.8 L387.3,574.6 L387.6,574.3 L388,574.1 L388.3,574.7 L388.7,574.2 L389,575 L389.4,574.2 L389.8,574.3 L390.1,574.1 L390.4,574.4 L390.8,574.5 L391.1,574.8 L391.5,574.2 L391.8,574.2 L392.2,574.4 L392.5,574.9 L392.9,574.4 L393.2,574.4 L393.6,575 L393.9,574.9 L394.3,574.5 L394.6,574.8 L395,574.5 L395.3,574.6 L395.7,574.7 L396,574.4 L396.4,574.2 L396.8,574.7 L397.1,574.7 L397.4,574.9 L397.8,574.2 L398.1,574.6 L398.5,574.6 L398.8,574.3 L399.2,574.5 L399.5,574.7 L399.9,574.9 L400.2,574.2 L400.6,574.3 L400.9,575 L401.3,574.6 L401.6,574.5 L402,574.9 L402.3,575 L402.7,574.4 L403,575 L403.4,574.6 L403.8,574.5 L404.1,574.8 L404.4,574.6 L404.8,574.8 L405.1,574.2 L405.5,574.9 L405.8,574.3 L406.2,574.4 L406.5,574.7 L406.9,574.7 L407.2,574.6 L407.6,574.3 L407.9,574.4 L408.3,574.7 L408.6,574.5 L409,574.2 L409.3,574.4 L409.7,574.6 L410,574.7 L410.4,575 L410.8,574.7 L411.1,574.9 L411.4,574.9 L411.8,574.3 L412.1,574.2 L412.5,575 L412.8,574.5 L413.2,574.7 L413.5,575 L413.9,574.2 L414.2,574.6 L414.6,574.8 L414.9,574.5 L415.3,574.8 L415.6,574.4 L416,574.9 L416.3,574.7 L416.7,574.3 L417,574.7 L417.4,574.4 L417.8,574.3 L418.1,575 L418.4,574.3 L418.8,574.7 L419.1,574.5 L419.5,574.7 L419.8,574.6 L420.2,574.5 L420.5,574.8 L420.9,574.3 L421.2,574.7 L421.6,574.7 L421.9,574.5 L422.3,574.3 L422.6,574.9 L423,574.7 L423.3,575 L423.7,575 L424,574.3 L424.4,575 L424.8,574.5 L425.1,574.6 L425.4,574.5 L425.8,574.7 L426.1,574.8 L426.5,574.4 L426.8,574.4 L427.2,574.7 L427.5,574.7 L427.9,574.7 L428.2,574.3 L428.6,575 L428.9,575 L429.3,574.3 L429.6,574.5 L430,574.2 L430.3,574.3 L430.7,574.2 L431,574.4 L431.4,574.7 L431.8,575 L432.1,574.7 L432.4,574.3 L432.8,575 L433.1,574.3 L433.5,574.8 L433.8,574.6 L434.2,574.6 L434.5,574.3 L434.9,574.3 L435.2,574.8 L435.6,574.8 L435.9,574.6 L436.3,574.5 L436.6,574.9 L437,574.6 L437.3,575 L437.7,574.8 L438,574.3 L438.4,574.4 L438.8,574.5 L439.1,574.2 L439.4,574.8 L439.8,575 L440.1,575 L440.5,574.7 L440.8,574.8 L441.2,575 L441.5,574.6 L441.9,575 L442.2,574.3 L442.6,574.3 L442.9,574.9 L443.3,575 L443.6,574.4 L444,574.6 L444.3,575 L444.7,575 L445,575 L445.4,574.7 L445.8,574.8" stroke="#27854a" stroke-width="3.8" fill="none" stroke-linejoin="round"/>
<path d="M66,575 L66.3,575 L66.7,575 L67,575.1 L67.4,575.1 L67.8,575.1 L68.1,575.1 L68.5,575.1 L68.8,575.1 L69.2,575.2 L69.5,575.2 L69.8,575.2 L70.2,575.2 L70.5,575.2 L70.9,575.2 L71.2,575.3 L71.6,575.3 L72,575.3 L72.3,575.3 L72.7,575.3 L73,575.4 L73.3,575.4 L73.7,575.4 L74,575.4 L74.4,575.4 L74.8,575.4 L75.1,575.5 L75.5,575.5 L75.8,575.5 L76.2,575.5 L76.5,575.5 L76.8,575.5 L77.2,575.6 L77.5,575.6 L77.9,575.6 L78.2,575.6 L78.6,575.6 L79,575.6 L79.3,575.7 L79.7,575.7 L80,575.7 L80.3,575.7 L80.7,575.7 L81,575.8 L81.4,575.8 L81.8,575.8 L82.1,575.8 L82.5,575.8 L82.8,575.8 L83.2,575.9 L83.5,575.9 L83.8,575.9 L84.2,575.9 L84.5,575.9 L84.9,575.9 L85.2,576 L85.6,576 L86,576 L86.3,575.9 L86.7,575.8 L87,575.6 L87.3,575.5 L87.7,575.4 L88,575.3 L88.4,575.1 L88.8,575 L89.1,574.9 L89.5,574.8 L89.8,574.6 L90.2,574.5 L90.5,574.4 L90.8,574.3 L91.2,574.1 L91.5,574 L91.9,573.9 L92.2,573.8 L92.6,573.6 L93,573.5 L93.3,573.4 L93.7,573.3 L94,573.1 L94.3,573 L94.7,572.9 L95,572.8 L95.4,572.6 L95.8,572.5 L96.1,572.4 L96.5,572.3 L96.8,572.1 L97.2,572 L97.5,571.9 L97.8,571.8 L98.2,571.6 L98.5,571.5 L98.9,571.4 L99.2,571.3 L99.6,571.1 L99.9,571 L100.3,570.7 L100.7,570.4 L101,570 L101.3,569.6 L101.7,569.3 L102,569 L102.4,568.6 L102.8,568.2 L103.1,567.9 L103.4,567.5 L103.8,567.2 L104.2,566.9 L104.5,566.5 L104.8,566.1 L105.2,565.8 L105.5,565.5 L105.9,565.1 L106.2,564.8 L106.6,564.4 L106.9,564 L107.3,563.7 L107.7,563.4 L108,563 L108.3,562.6 L108.7,562.3 L109,562 L109.4,561.6 L109.8,561.2 L110.1,560.8 L110.4,560.3 L110.8,559.7 L111.2,559.2 L111.5,558.6 L111.8,558.1 L112.2,557.5 L112.5,557 L112.9,556.4 L113.2,555.9 L113.6,555.3 L113.9,554.8 L114.3,554.2 L114.7,553.7 L115,553.1 L115.3,552.6 L115.7,552 L116,551.5 L116.4,550.9 L116.8,550.4 L117.1,549.9 L117.4,549.5 L117.8,549.2 L118.2,548.9 L118.5,548.5 L118.8,548.1 L119.2,547.8 L119.5,547.5 L119.9,547.1 L120.2,546.8 L120.6,546.4 L120.9,546 L121.3,545.7 L121.7,545.4 L122,545 L122.3,545.3 L122.7,545.5 L123,545.8 L123.4,546 L123.8,546.3 L124.1,546.6 L124.4,546.8 L124.8,547.1 L125.2,547.4 L125.5,547.6 L125.8,547.9 L126.2,548.3 L126.5,548.9 L126.9,549.5 L127.2,550.1 L127.6,550.7 L127.9,551.2 L128.3,551.8 L128.7,552.4 L129,553 L129.3,552.4 L129.7,551.8 L130.1,551.2 L130.4,550.7 L130.8,550.1 L131.1,549.5 L131.4,548.9 L131.8,548.3 L132.1,544.3 L132.5,542.5 L132.8,540.8 L133.2,539 L133.6,537.2 L133.9,535.5 L134.2,533.8 L134.6,532 L134.9,530.2 L135.3,527 L135.6,523.5 L136,520 L136.3,516.5 L136.7,513 L137.1,509.5 L137.4,506 L137.8,502.5 L138.1,499 L138.4,495.5 L138.8,492 L139.1,488.1 L139.5,483.8 L139.8,479.4 L140.2,475 L140.6,470.6 L140.9,466.3 L141.2,461.9 L141.6,457.5 L141.9,453.1 L142.3,448.7 L142.6,444.4 L143,440 L143.3,433.9 L143.7,427.8 L144.1,421.6 L144.4,415.5 L144.8,409.4 L145.1,403.3 L145.4,397.1 L145.8,391 L146.1,384.9 L146.5,378.8 L146.8,372.6 L147.2,366.5 L147.6,360.4 L147.9,354.3 L148.2,348.1 L148.6,342 L148.9,335.9 L149.3,329.7 L149.6,323.6 L150,317.5 L150.3,311.4 L150.7,305.3 L151.1,298.7 L151.4,290 L151.8,281.2 L152.1,272.5 L152.4,263.8 L152.8,255 L153.1,246.3 L153.5,237.5 L153.8,228.8 L154.2,220 L154.6,211.2 L154.9,202.5 L155.2,193.8 L155.6,191.9 L155.9,183.1 L156.3,187.5 L156.6,183.1 L157,183.5 L157.3,179.4 L157.7,175.8 L158.1,165.1 L158.4,162.4 L158.8,159.5 L159.1,152.9 L159.4,157.7 L159.8,161.7 L160.1,152.2 L160.5,155.3 L160.8,144.4 L161.2,148.4 L161.6,154.9 L161.9,168.9 L162.2,165.7 L162.6,177.3 L162.9,173.9 L163.3,188.5 L163.6,189.7 L164,202.9 L164.3,193.7 L164.7,202.8 L165.1,216.4 L165.4,206.9 L165.8,201.7 L166.1,207.7 L166.4,198.3 L166.8,202.3 L167.1,195.3 L167.5,187.2 L167.8,187 L168.2,197.7 L168.6,197.6 L168.9,185.6 L169.2,197.2 L169.6,194 L169.9,188.6 L170.3,190.2 L170.6,184.3 L171,174.7 L171.3,176.4 L171.7,174.8 L172.1,180.9 L172.4,169.4 L172.8,173.5 L173.1,172.6 L173.4,170.6 L173.8,181.4 L174.1,188.5 L174.5,196.9 L174.8,197 L175.2,212.2 L175.6,215.2 L175.9,209.2 L176.2,222.2 L176.6,216.1 L176.9,218.9 L177.3,206.1 L177.6,212.2 L178,209.2 L178.3,202.4 L178.7,199.6 L179.1,201.3 L179.4,205.2 L179.8,199 L180.1,196.6 L180.4,195.5 L180.8,196.1 L181.1,190.6 L181.5,190.7 L181.8,178.8 L182.2,192.5 L182.6,197.4 L182.9,195.2 L183.2,198.6 L183.6,207.5 L183.9,205.5 L184.3,213.9 L184.6,212.2 L185,216 L185.3,225.3 L185.7,229.4 L186.1,228.5 L186.4,231.7 L186.8,235.9 L187.1,236.8 L187.4,232.6 L187.8,227.8 L188.1,226 L188.5,222.3 L188.8,230.5 L189.2,219.7 L189.6,224.1 L189.9,215.3 L190.2,221 L190.6,213 L190.9,207.3 L191.3,206.5 L191.6,202.2 L192,201.1 L192.3,198.5 L192.7,196.4 L193.1,196.2 L193.4,190.3 L193.8,203.6 L194.1,201 L194.4,193.4 L194.8,200.4 L195.2,187.8 L195.5,195.2 L195.8,193.8 L196.2,197.1 L196.5,197.5 L196.9,190.9 L197.2,197.6 L197.6,200.7 L197.9,196.7 L198.3,202 L198.7,207.1 L199,221.8 L199.3,223.2 L199.7,242 L200,263 L200.4,284 L200.8,305 L201.1,325 L201.4,342.5 L201.8,360 L202.1,377.5 L202.5,395 L202.8,412.5 L203.2,426 L203.5,436.5 L203.9,447 L204.2,457.5 L204.6,468 L204.9,478.5 L205.3,487.5 L205.6,496.2 L206,505 L206.3,513.7 L206.7,522.5 L207,530.7 L207.4,536 L207.8,541.2 L208.1,546.5 L208.4,551.7 L208.8,557 L209.1,561.2 L209.5,564 L209.8,566.8 L210.2,569.6 L210.5,572.4 L210.9,575.2 L211.2,576.6 L211.6,576.8 L211.9,577.3 L212.3,577.1 L212.6,576.7 L213,577.2 L213.3,576.9 L213.7,576.6 L214,576.8 L214.4,577.3 L214.8,577.4 L215.1,576.9 L215.4,577.3 L215.8,577.4 L216.1,576.7 L216.5,576.7 L216.8,576.9 L217.2,576.9 L217.5,577.1 L217.9,577.5 L218.2,576.7 L218.6,576.8 L218.9,577 L219.3,577.2 L219.6,576.7 L220,577.1 L220.3,577.1 L220.7,577.3 L221,576.9 L221.4,576.9 L221.8,577.1 L222.1,576.9 L222.4,577 L222.8,577.3 L223.1,577.5 L223.5,577.5 L223.8,576.7 L224.2,577.1 L224.5,577.1 L224.9,577.1 L225.2,576.8 L225.6,576.9 L225.9,577 L226.3,576.8 L226.6,577 L227,577.4 L227.3,577.2 L227.7,576.7 L228,576.8 L228.4,576.9 L228.8,577.3 L229.1,576.6 L229.4,576.7 L229.8,577.4 L230.1,576.9 L230.5,576.8 L230.8,577.1 L231.2,576.6 L231.5,577.3 L231.9,577.4 L232.2,576.7 L232.6,577.1 L232.9,577.5 L233.3,576.9 L233.6,576.9 L234,577.4 L234.3,576.6 L234.7,576.7 L235,577.2 L235.4,577.4 L235.8,577.1 L236.1,577.2 L236.4,577 L236.8,577.5 L237.1,576.9 L237.5,577.1 L237.8,576.8 L238.2,576.9 L238.5,577.2 L238.9,576.7 L239.2,577.3 L239.6,576.9 L239.9,577.3 L240.3,576.8 L240.6,577.2 L241,577.1 L241.3,576.9 L241.7,577.4 L242,577.3 L242.4,577 L242.8,577.1 L243.1,577 L243.4,577.3 L243.8,576.7 L244.1,576.7 L244.5,577.2 L244.8,576.7 L245.2,577.4 L245.5,577.5 L245.9,576.9 L246.2,576.8 L246.6,577.4 L246.9,576.7 L247.3,577.1 L247.6,576.8 L248,577.6 L248.3,577 L248.7,577.3 L249,576.9 L249.4,577.5 L249.8,577.3 L250.1,576.7 L250.4,576.7 L250.8,576.9 L251.1,577 L251.5,576.7 L251.8,577.2 L252.2,576.7 L252.5,577.2 L252.9,577.4 L253.2,576.9 L253.6,576.9 L253.9,577.5 L254.3,577.4 L254.6,577.4 L255,576.8 L255.3,576.9 L255.7,577 L256,577.1 L256.4,577.4 L256.8,577.5 L257.1,577.2 L257.4,576.8 L257.8,576.7 L258.1,577.1 L258.5,577.5 L258.9,576.8 L259.2,577.6 L259.5,576.7 L259.9,576.7 L260.2,577.1 L260.6,576.8 L260.9,577 L261.3,577.6 L261.6,577.6 L262,577.4 L262.4,577.3 L262.7,577 L263,577.1 L263.4,577.2 L263.8,577 L264.1,577.3 L264.4,576.9 L264.8,577.2 L265.1,577.1 L265.5,576.8 L265.9,576.9 L266.2,577.1 L266.5,577 L266.9,577.1 L267.2,577.6 L267.6,577 L267.9,577.1 L268.3,577.1 L268.6,577.6 L269,577.6 L269.4,577.4 L269.7,576.7 L270,577.2 L270.4,577.6 L270.8,577 L271.1,577.4 L271.4,577.3 L271.8,577.2 L272.1,577.6 L272.5,577 L272.9,577.6 L273.2,577 L273.5,577.5 L273.9,577.4 L274.2,577.3 L274.6,577.1 L274.9,576.9 L275.3,577.1 L275.6,577.5 L276,577.2 L276.4,576.9 L276.7,577.3 L277,577.2 L277.4,577.5 L277.8,577.6 L278.1,577.5 L278.4,576.9 L278.8,577.2 L279.1,577.2 L279.5,577.1 L279.9,577.5 L280.2,577.6 L280.5,576.9 L280.9,577.5 L281.2,577.1 L281.6,577.1 L281.9,576.8 L282.3,577.2 L282.6,577.3 L283,577.4 L283.4,576.9 L283.7,577 L284,577.3 L284.4,577 L284.8,577.6 L285.1,577.2 L285.4,576.8 L285.8,577.3 L286.1,576.9 L286.5,577.4 L286.9,577.1 L287.2,577.6 L287.5,576.9 L287.9,577.4 L288.2,577.4 L288.6,577.1 L288.9,577.5 L289.3,577.5 L289.6,577.6 L290,577.3 L290.4,577 L290.7,577.5 L291,577 L291.4,577.4 L291.8,577.1 L292.1,577.1 L292.4,577.1 L292.8,577.4 L293.1,577.6 L293.5,577.5 L293.9,576.8 L294.2,577.6 L294.5,577.4 L294.9,577.1 L295.2,577.6 L295.6,577.1 L295.9,577.6 L296.3,577.7 L296.6,577.4 L297,577.1 L297.4,577.1 L297.7,577.1 L298,577.2 L298.4,577 L298.8,577.6 L299.1,577.1 L299.4,577 L299.8,577 L300.1,577.4 L300.5,576.9 L300.9,577.5 L301.2,577.6 L301.5,577.1 L301.9,577 L302.2,577.7 L302.6,577.2 L302.9,577.7 L303.3,577.4 L303.6,577.4 L304,577.3 L304.4,576.9 L304.7,577 L305,577.5 L305.4,577.2 L305.8,577.1 L306.1,577.7 L306.4,577.1 L306.8,577.3 L307.1,577.3 L307.5,577.6 L307.9,577 L308.2,577.1 L308.5,577.1 L308.9,577 L309.2,577.3 L309.6,577.5 L309.9,577.5 L310.3,577.1 L310.6,577.4 L311,577.3 L311.4,577.2 L311.7,577.5 L312,577.4 L312.4,577 L312.8,577.2 L313.1,577.4 L313.4,577.1 L313.8,577.4 L314.1,577 L314.5,577.1 L314.9,577 L315.2,577.6 L315.5,577.3 L315.9,577 L316.2,577.4 L316.6,577 L316.9,576.9 L317.3,577.7 L317.6,576.9 L318,577.7 L318.4,577.2 L318.7,577 L319,577.6 L319.4,577.5 L319.8,577.4 L320.1,577 L320.4,577.7 L320.8,577.6 L321.1,577.4 L321.5,577.3 L321.9,577.8 L322.2,577.7 L322.6,577.2 L322.9,577.3 L323.2,577.4 L323.6,577.5 L323.9,577.8 L324.3,577.6 L324.6,577.1 L325,577 L325.3,576.9 L325.7,577 L326.1,577 L326.4,577.2 L326.8,577.4 L327.1,577.4 L327.4,577.4 L327.8,577.6 L328.1,576.9 L328.5,577.5 L328.8,577 L329.2,577.6 L329.6,577.7 L329.9,577 L330.2,577.5 L330.6,577 L330.9,577.4 L331.3,577.1 L331.6,577.6 L332,577.2 L332.3,577.8 L332.7,577.4 L333.1,577.7 L333.4,577.2 L333.8,577.7 L334.1,577 L334.4,577.6 L334.8,577.7 L335.1,577 L335.5,577.4 L335.8,577.1 L336.2,577.1 L336.5,577.7 L336.9,577 L337.2,577.6 L337.6,577.4 L337.9,577.1 L338.3,577.2 L338.6,577.5 L339,577.1 L339.3,577.5 L339.7,577.8 L340,577.8 L340.4,577 L340.8,577 L341.1,577.3 L341.4,577.7 L341.8,577.8 L342.1,577.4 L342.5,577.3 L342.8,577.2 L343.2,577.7 L343.5,577.5 L343.9,577.3 L344.2,577.5 L344.6,577.4 L344.9,577.7 L345.3,577.7 L345.6,577.8 L346,577.7 L346.3,577.5 L346.7,577.7 L347,577.2 L347.4,577.7 L347.8,577.1 L348.1,577.7 L348.4,577.6 L348.8,577.1 L349.1,577.7 L349.5,577.3 L349.8,577.4 L350.2,577.1 L350.5,577.4 L350.9,577.4 L351.2,577.4 L351.6,577.4 L351.9,577 L352.3,577.6 L352.6,577.8 L353,577.3 L353.3,577.6 L353.7,577.7 L354,577.1 L354.4,577.5 L354.8,577.5 L355.1,577.7 L355.4,577.6 L355.8,577.5 L356.1,577.2 L356.5,577 L356.8,577.1 L357.2,577.8 L357.5,577.8 L357.9,577.2 L358.2,577.7 L358.6,577.2 L358.9,577.4 L359.3,577.1 L359.6,577.4 L360,577.1 L360.3,577.7 L360.7,577.4 L361,577.2 L361.4,577.8 L361.8,577.2 L362.1,577.3 L362.4,577.5 L362.8,577.2 L363.1,577.9 L363.5,577.3 L363.8,577.1 L364.2,577.2 L364.5,577.3 L364.9,577.9 L365.2,577.1 L365.6,577.3 L365.9,577.1 L366.3,577.9 L366.6,577.6 L367,577 L367.3,577.7 L367.7,577.3 L368,577.4 L368.4,577.1 L368.8,577.1 L369.1,577.7 L369.4,577.6 L369.8,577.6 L370.1,577.6 L370.5,577.7 L370.8,577.2 L371.2,577.4 L371.5,577.5 L371.9,577.4 L372.2,577.7 L372.6,577.3 L372.9,577.6 L373.3,577 L373.6,577.1 L374,577.5 L374.3,577.7 L374.7,577.8 L375,577.9 L375.4,577.4 L375.8,577.8 L376.1,577.8 L376.4,577.7 L376.8,577.4 L377.1,577.5 L377.5,577.7 L377.8,577.3 L378.2,577.3 L378.5,577.1 L378.9,577.8 L379.2,577.4 L379.6,577.2 L379.9,577.5 L380.3,577.4 L380.6,577.1 L381,577.7 L381.3,577.6 L381.7,577.6 L382,577.9 L382.4,577.7 L382.8,577.3 L383.1,577.8 L383.4,578 L383.8,577.7 L384.1,577.5 L384.5,577.4 L384.8,577.1 L385.2,577.8 L385.5,577.7 L385.9,577.2 L386.2,577.3 L386.6,577.5 L386.9,577.8 L387.3,577.3 L387.6,577.8 L388,577.9 L388.3,577.2 L388.7,577.3 L389,577.2 L389.4,577.5 L389.8,577.7 L390.1,577.2 L390.4,577.4 L390.8,577.4 L391.1,577.4 L391.5,577.5 L391.8,577.1 L392.2,577.8 L392.5,577.8 L392.9,577.2 L393.2,577.2 L393.6,577.2 L393.9,577.8 L394.3,577.1 L394.6,577.8 L395,577.4 L395.3,577.9 L395.7,577.4 L396,577.8 L396.4,577.1 L396.8,577.4 L397.1,577.3 L397.4,577.6 L397.8,577.9 L398.1,577.8 L398.5,577.5 L398.8,577.3 L399.2,577.2 L399.5,577.7 L399.9,577.9 L400.2,577.5 L400.6,577.9 L400.9,577.2 L401.3,577.3 L401.6,577.2 L402,577.6 L402.3,577.2 L402.7,577.8 L403,577.8 L403.4,577.4 L403.8,578 L404.1,577.1 L404.4,577.8 L404.8,577.6 L405.1,577.6 L405.5,577.4 L405.8,577.9 L406.2,577.2 L406.5,577.8 L406.9,577.6 L407.2,577.6 L407.6,577.2 L407.9,577.8 L408.3,577.5 L408.6,577.3 L409,577.6 L409.3,577.8 L409.7,577.7 L410,578 L410.4,577.7 L410.8,578 L411.1,577.2 L411.4,577.7 L411.8,577.9 L412.1,577.5 L412.5,577.3 L412.8,577.2 L413.2,577.4 L413.5,577.8 L413.9,577.3 L414.2,577.4 L414.6,577.6 L414.9,577.2 L415.3,577.3 L415.6,577.4 L416,577.9 L416.3,577.9 L416.7,577.5 L417,577.5 L417.4,577.4 L417.8,577.6 L418.1,577.8 L418.4,577.9 L418.8,578 L419.1,577.5 L419.5,577.5 L419.8,577.4 L420.2,577.6 L420.5,577.2 L420.9,577.5 L421.2,577.2 L421.6,577.5 L421.9,578 L422.3,577.5 L422.6,578 L423,577.9 L423.3,577.8 L423.7,578 L424,577.7 L424.4,578 L424.8,577.4 L425.1,577.4 L425.4,578 L425.8,577.8 L426.1,577.7 L426.5,577.4 L426.8,577.7 L427.2,577.5 L427.5,577.2 L427.9,577.8 L428.2,577.8 L428.6,577.6 L428.9,578 L429.3,577.3 L429.6,577.8 L430,577.3 L430.3,577.9 L430.7,578 L431,577.2 L431.4,578 L431.8,577.8 L432.1,577.6 L432.4,577.7 L432.8,577.2 L433.1,577.2 L433.5,577.8 L433.8,577.4 L434.2,577.4 L434.5,577.6 L434.9,577.7 L435.2,577.9 L435.6,577.8 L435.9,577.7 L436.3,577.2 L436.6,578 L437,577.2 L437.3,578 L437.7,577.7 L438,577.9 L438.4,577.8 L438.8,577.6 L439.1,577.8 L439.4,577.9 L439.8,577.5 L440.1,578 L440.5,577.6 L440.8,577.5 L441.2,577.5 L441.5,577.9 L441.9,577.5 L442.2,577.5 L442.6,577.3 L442.9,577.3 L443.3,578 L443.6,577.6 L444,578 L444.3,577.9 L444.7,578 L445,577.4 L445.4,577.7 L445.8,578" stroke="#1a5c33" stroke-width="3.8" fill="none" stroke-linejoin="round"/>
<rect x="66" y="37" width="763" height="561" fill="none" stroke="#4a4a4a" stroke-width="1.4"/>
<line x1="446" y1="38" x2="446" y2="598" stroke="#111" stroke-width="2" stroke-dasharray="6 5"/>
<line x1="66" y1="598" x2="66" y2="608" stroke="#333" stroke-width="1.6" />
<line x1="104.2" y1="598" x2="104.2" y2="603" stroke="#333" stroke-width="1.6" />
<line x1="142.5" y1="598" x2="142.5" y2="608" stroke="#333" stroke-width="1.6" />
<line x1="180.8" y1="598" x2="180.8" y2="603" stroke="#333" stroke-width="1.6" />
<line x1="219" y1="598" x2="219" y2="608" stroke="#333" stroke-width="1.6" />
<line x1="257.2" y1="598" x2="257.2" y2="603" stroke="#333" stroke-width="1.6" />
<line x1="295.5" y1="598" x2="295.5" y2="608" stroke="#333" stroke-width="1.6" />
<line x1="333.8" y1="598" x2="333.8" y2="603" stroke="#333" stroke-width="1.6" />
<line x1="372" y1="598" x2="372" y2="608" stroke="#333" stroke-width="1.6" />
<line x1="410.2" y1="598" x2="410.2" y2="603" stroke="#333" stroke-width="1.6" />
<line x1="485.2" y1="598" x2="485.2" y2="603" stroke="#333" stroke-width="1.6" />
<line x1="523.4" y1="598" x2="523.4" y2="608" stroke="#333" stroke-width="1.6" />
<line x1="561.6" y1="598" x2="561.6" y2="603" stroke="#333" stroke-width="1.6" />
<line x1="599.8" y1="598" x2="599.8" y2="608" stroke="#333" stroke-width="1.6" />
<line x1="638" y1="598" x2="638" y2="603" stroke="#333" stroke-width="1.6" />
<line x1="676.2" y1="598" x2="676.2" y2="608" stroke="#333" stroke-width="1.6" />
<line x1="714.4" y1="598" x2="714.4" y2="603" stroke="#333" stroke-width="1.6" />
<line x1="752.6" y1="598" x2="752.6" y2="608" stroke="#333" stroke-width="1.6" />
<line x1="790.8" y1="598" x2="790.8" y2="603" stroke="#333" stroke-width="1.6" />
<line x1="829" y1="598" x2="829" y2="608" stroke="#333" stroke-width="1.6" />
<line x1="446.5" y1="598" x2="446.5" y2="609" stroke="#555" stroke-width="1.5" />
<line x1="449" y1="598" x2="449" y2="609" stroke="#555" stroke-width="1.5" />
<text x="67" y="643.5" font-size="30" fill="#000" text-anchor="middle" >2200</text>
<text x="220" y="643.5" font-size="30" fill="#000" text-anchor="middle" >2400</text>
<text x="373" y="643.5" font-size="30" fill="#000" text-anchor="middle" >2600</text>
<text x="524.5" y="643.5" font-size="30" fill="#000" text-anchor="middle" >3200</text>
<text x="677.4" y="643.5" font-size="30" fill="#000" text-anchor="middle" >3600</text>
<text x="830" y="643.5" font-size="30" fill="#000" text-anchor="middle" >4000</text>
<text x="487.5" y="684.5" font-size="31" fill="#000" text-anchor="middle" >Wavenumber (cm<tspan dy="-12" font-size="19">-1</tspan><tspan dy="12">)</tspan></text>
<text x="25.5" y="332.5" font-size="30.7" fill="#000" text-anchor="middle" transform="rotate(-90 25.5 332.5)">Absorbance (a. u.)</text>
<rect x="118" y="129" width="57" height="450" fill="none" stroke="#111" stroke-width="2" stroke-dasharray="9 7"/>
<line x1="615" y1="433" x2="615" y2="577" stroke="#111" stroke-width="2.6" stroke-dasharray="7 4.5"/>
<defs><linearGradient id="ga" x1="0" y1="1" x2="0" y2="0"><stop offset="0" stop-color="#3cb563"/><stop offset="0.45" stop-color="#9cc83a"/><stop offset="0.55" stop-color="#5dbb5a"/><stop offset="1" stop-color="#237a4c"/></linearGradient><linearGradient id="gb" x1="0" y1="1" x2="0" y2="0"><stop offset="0" stop-color="#14c6f2"/><stop offset="0.5" stop-color="#4a9ae0"/><stop offset="1" stop-color="#1f5fb0"/></linearGradient></defs>
<rect x="396.5" y="338" width="3" height="111" fill="url(#ga)"/>
<polygon points="398,325 389,343 407,343" fill="#237a4c" />
<rect x="781.5" y="338" width="3" height="111" fill="url(#gb)"/>
<polygon points="783,325 774,343 792,343" fill="#1f5fb0" />
<line x1="615" y1="385" x2="615" y2="325" stroke="#888" stroke-width="3" />
<polygon points="615,313 606,331 615,327 624,331" fill="#888" />
<text x="437.5" y="308" font-size="30" fill="#1e6a3c" text-anchor="end" >40 min</text>
<text x="437.5" y="482" font-size="30" fill="#3cb563" text-anchor="end" >0 min</text>
<text x="822.5" y="308" font-size="30" fill="#1f4f99" text-anchor="end" >40 min</text>
<text x="821.5" y="482" font-size="30" fill="#12a8d8" text-anchor="end" >0 min</text>
<text x="590" y="419" font-size="30.5" fill="#000" text-anchor="start" >H<tspan dy="7" font-size="21">2</tspan><tspan dy="-7">O</tspan></text>
<text x="122" y="97" font-size="29" fill="#000" text-anchor="start" >CO<tspan dy="8.5" font-size="22.5">2</tspan></text>
<line x1="186.4" y1="93.2" x2="234" y2="113.3" stroke="#888" stroke-width="3.2" />
<polygon points="244.7,117.8 225.3,119.5 233,113 234.3,103.6" fill="#888" />
<text x="246" y="90.6" font-size="25" fill="#000" text-anchor="start" >H<tspan fill="#ee1c25">O</tspan></text>
<text x="331" y="90.6" font-size="25" fill="#ee1c25" text-anchor="start" >O</text>
<text x="297.5" y="108.7" font-size="25" fill="#ee1c25" text-anchor="start" >C</text>
<line x1="286" y1="89.3" x2="295.2" y2="93.2" stroke="#ee1c25" stroke-width="2" />
<line x1="319.5" y1="96.5" x2="328" y2="91.5" stroke="#ee1c25" stroke-width="2" />
<line x1="318" y1="93" x2="326.5" y2="88" stroke="#ee1c25" stroke-width="2" />
<line x1="307.4" y1="116.5" x2="307.4" y2="138.5" stroke="#111" stroke-width="2" />
<polyline points="288.7,150.7 307.4,138.5 322.4,150.2" stroke="#111" stroke-width="2" fill="none" />
<text x="265.5" y="169.6" font-size="25.5" fill="#000" text-anchor="start" >N</text>
<text x="328" y="169.6" font-size="25.5" fill="#000" text-anchor="start" >N</text>
<line x1="239.5" y1="148.1" x2="260.2" y2="155.4" stroke="#111" stroke-width="2" />
<polyline points="352.2,156.7 372.9,150.2 401.3,176" stroke="#111" stroke-width="2" fill="none" />
<polyline points="281,175 286.1,197.3 325.7,197.3 331,175" stroke="#111" stroke-width="2" fill="none" />
<line x1="292.6" y1="191.6" x2="319.8" y2="191.6" stroke="#111" stroke-width="2" />
<path d="M287.4,158.5 Q306.8,151 323.7,158.5" stroke="#111" stroke-width="2" fill="none" stroke-dasharray="4 4"/>
<circle cx="306.8" cy="168" r="2.2" fill="#111"/>
<text x="597.5" y="156" font-size="26.5" fill="#000" text-anchor="start" >Co</text>
<text x="527" y="79" font-size="26.5" fill="#000" text-anchor="start" >H<tspan dy="7" font-size="19">2</tspan><tspan dy="-7">O</tspan></text>
<text x="650" y="79" font-size="26.5" fill="#000" text-anchor="start" >OH</text>
<text x="465" y="156" font-size="26.5" fill="#000" text-anchor="start" >H</text>
<text x="514" y="156" font-size="26.5" fill="#000" text-anchor="start" >O</text>
<text x="694" y="156" font-size="26.5" fill="#ee1c25" text-anchor="start" >O<tspan>H</tspan><tspan dy="7" font-size="19">2</tspan></text>
<text x="571" y="230.5" font-size="26.5" fill="#000" text-anchor="middle" >O</text>
<text x="658" y="230.5" font-size="26.5" fill="#000" text-anchor="middle" >O</text>
<line x1="486.5" y1="148" x2="507.7" y2="148" stroke="#111" stroke-width="2.2" />
<polygon points="538.7,143 538.7,153 592,148.6 592,147.4" fill="#111" />
<line x1="605.2" y1="130.1" x2="606.8" y2="128.9" stroke="#111" stroke-width="2.2" />
<line x1="600.8" y1="124.7" x2="603.5" y2="122.9" stroke="#111" stroke-width="2.2" />
<line x1="596.4" y1="119.4" x2="600.1" y2="116.9" stroke="#111" stroke-width="2.2" />
<line x1="592" y1="114.1" x2="596.8" y2="110.8" stroke="#111" stroke-width="2.2" />
<line x1="587.6" y1="108.7" x2="593.4" y2="104.8" stroke="#111" stroke-width="2.2" />
<line x1="583.2" y1="103.4" x2="590" y2="98.7" stroke="#111" stroke-width="2.2" />
<line x1="578.8" y1="98" x2="586.7" y2="92.7" stroke="#111" stroke-width="2.2" />
<line x1="574.4" y1="92.7" x2="583.3" y2="86.7" stroke="#111" stroke-width="2.2" />
<line x1="570" y1="87.4" x2="580" y2="80.6" stroke="#111" stroke-width="2.2" />
<line x1="623" y1="134" x2="652" y2="84.7" stroke="#111" stroke-width="2.2" />
<line x1="637" y1="146.8" x2="637" y2="149.2" stroke="#111" stroke-width="2.4" />
<line x1="644.4" y1="146.1" x2="644.4" y2="149.9" stroke="#111" stroke-width="2.4" />
<line x1="651.9" y1="145.4" x2="651.9" y2="150.6" stroke="#111" stroke-width="2.4" />
<line x1="659.3" y1="144.7" x2="659.3" y2="151.3" stroke="#111" stroke-width="2.4" />
<line x1="666.7" y1="144.1" x2="666.7" y2="151.9" stroke="#111" stroke-width="2.4" />
<line x1="674.1" y1="143.4" x2="674.1" y2="152.6" stroke="#111" stroke-width="2.4" />
<line x1="681.6" y1="142.7" x2="681.6" y2="153.3" stroke="#111" stroke-width="2.4" />
<line x1="689" y1="142" x2="689" y2="154" stroke="#111" stroke-width="2.4" />
<line x1="605.5" y1="165.7" x2="580" y2="208.4" stroke="#111" stroke-width="2.2" />
<polygon points="626,165.7 645.5,210.5 654.5,205.5 627,165" fill="#111" />
<line x1="564" y1="237" x2="546.5" y2="266.7" stroke="#111" stroke-width="2.2" />
<line x1="667.7" y1="237" x2="685" y2="266.7" stroke="#111" stroke-width="2.2" />
<text x="899.5" y="36" font-size="48" fill="#000" text-anchor="start" >b</text>
<path d="M966.6,562 L972.8,562.8 L981.3,563 L991.5,562.9 L1002.6,562.7 L1014.2,563.5 L1025.6,563.7 L1037.6,564.3 L1050.9,564.3 L1064.5,564.3 L1077.8,564.1 L1089.9,563.8 L1099.9,564 L1107.8,564.2 L1114.1,563.3 L1119.3,562.3 L1123.5,561.7 L1127.2,561.8 L1130.5,561.9 L1133.2,561.7 L1134.9,562.5 L1136,564.3 L1136.9,565.2 L1137.8,565.8 L1139.3,565.8 L1141.2,565.9 L1143.1,566.1 L1145.2,565.5 L1147.4,564.4 L1149.8,563 L1152.4,562.9 L1155.5,564.2 L1159,565.1 L1162.7,566.4 L1166.3,567.6 L1169.5,569.2 L1172,568.8 L1173.7,567.7 L1174.6,566 L1175.2,563.7 L1175.7,561.3 L1176.4,559 L1177.5,558 L1179.2,557.9 L1181.2,559.1 L1183.4,561.1 L1185.6,563.1 L1187.7,564.9 L1189.6,566.2 L1191.2,566.3 L1192.6,565.7 L1193.9,564.4 L1195.2,562.6 L1196.6,560.8 L1198.3,560.4 L1200,561.1 L1201.6,562.6 L1203.3,563.4 L1205.4,564.3 L1208,565.5 L1211.4,566.5 L1216,566.8 L1221.6,565 L1227.8,563.7 L1234,562.8 L1239.6,562.6 L1244.2,563 L1247.5,562.9 L1250,563.9 L1252,565.3 L1253.7,567.1 L1255.3,568.6 L1257.3,568.8 L1259.5,568 L1261.7,566.1 L1263.8,565.1 L1266,563.5 L1268.2,562.4 L1270.4,561 L1272.4,561.6 L1274.1,562.8 L1275.9,563.7 L1277.9,564.3 L1280.4,565 L1283.6,565.3 L1288,565.4 L1293.4,565.3 L1299.3,565.7 L1305.1,565.3 L1310.3,564.7 L1314.2,563.9 L1316.6,564.2 L1318,564.1 L1318.7,564.2 L1319.1,563.5 L1319.6,562.5 L1320.7,562.2 L1322.2,562.9 L1324,563.8 L1325.8,564.1 L1327.7,564.5 L1329.6,565.3 L1331.5,566 L1333.4,565.6 L1335.3,565.1 L1337.2,565.2 L1339.1,564.6 L1341.1,564.6 L1343,563.7 L1345,564 L1347,564.6 L1349,565.1 L1351,565.6 L1352.8,565.7 L1354.5,566.5 L1355.9,567.3 L1357.1,568.2 L1358.2,568.3 L1359.3,568.5 L1360.3,568.4 L1361.4,568 L1362.5,567.2 L1363.5,565.2 L1364.6,562.9 L1365.7,560.4 L1366.9,559.1 L1368.3,558.8 L1370,559.3 L1371.8,559.4 L1373.8,559.6 L1375.8,559.5 L1377.8,560.4 L1379.8,560.6 L1381.5,561.8 L1382.9,562.2 L1384.4,563.7 L1386.1,564.7 L1388.3,565.9 L1391.3,566.6 L1395.2,566.7 L1399.7,565.7 L1404.7,564.8 L1410.1,563.9 L1415.7,563.6 L1421.3,562.2 L1427.4,561.8 L1434.1,561.8 L1441,562.1 L1447.6,561.9 L1453.5,562.1 L1458.1,562.7 L1461,563.6 L1462.6,564.6 L1463.4,565.8 L1464.1,566.6 L1465.2,566.7 L1467.3,567 L1470.7,567.2 L1475.1,566.4 L1479.8,565.7 L1484.6,563.8 L1489,562.7 L1492.6,562.2 L1495.2,563 L1497,564.2 L1498.5,565.7 L1499.9,566.7 L1501.7,567.3 L1504.1,566.7 L1507.2,566.6 L1510.8,565.9 L1514.7,565.3 L1518.8,563.6 L1523,562.5 L1527.1,562 L1531.3,563.2 L1535.9,564.4 L1540.5,566.1 L1544.9,567 L1549,567.9 L1552.4,568.1 L1555.1,567.2 L1557.3,566.4 L1559.2,565.2 L1560.7,564.2 L1562.3,562.9 L1563.9,561.5 L1565.3,561.7 L1566.2,562.1 L1567.1,563.2 L1568.3,564.1 L1570.2,565.6 L1573.2,566.2 L1576.8,566 L1580.5,565.5 L1585,564.6 L1590.7,563.8 L1598.1,563 L1607.7,562.9 L1621.3,562.6 L1638.9,562.3 L1658.2,562.6 L1677,562.7 L1693.1,563.1 L1704.3,562.3" stroke="#b070c0" stroke-width="3.8" fill="none" stroke-linejoin="round" stroke-linecap="round"/>
<path d="M966.6,513.2 L967.7,513.8 L969,514.1 L970.7,514.4 L972.6,514 L974.9,514.3 L977.5,514.9 L980.4,515.9 L983.7,517.1 L987.4,518.2 L991.2,519.2 L995.2,519.6 L999.4,520.2 L1003.9,520.4 L1009,520.7 L1014.2,520.8 L1019.3,521.3 L1023.9,521.8 L1027.8,521.8 L1030.8,520.9 L1033.1,519.7 L1035,518.4 L1036.6,518.2 L1038.1,517.8 L1039.8,518 L1041.4,518.3 L1042.7,519.8 L1043.9,521.7 L1045.4,523.8 L1047.2,525.4 L1049.6,526.5 L1052.9,527 L1057,526.7 L1061.4,526.3 L1066,525.4 L1070.2,524.8 L1073.7,523.9 L1076.6,523.1 L1079,522.3 L1081.2,521.2 L1083.2,520.1 L1085,519.2 L1086.8,518.9 L1088.5,519.4 L1090,520 L1091.4,520.3 L1092.8,520.6 L1094.1,521.3 L1095.5,521.7 L1097,521.5 L1098.4,520.4 L1099.9,519.4 L1101.4,518.6 L1102.8,518 L1104.3,517.9 L1105.7,517.8 L1107.2,518.2 L1108.6,518.5 L1110,518.8 L1111.5,519.8 L1113,520.5 L1114.6,521.3 L1116.2,521.2 L1117.9,521.5 L1119.6,521.5 L1121.2,521.4 L1122.9,520.7 L1124.6,519.7 L1126.2,518.3 L1127.9,516.9 L1129.5,515.7 L1131.1,514.5 L1132.7,514 L1134.2,513.5 L1135.6,513.9 L1137,514.2 L1138.4,514.5 L1139.9,513.8 L1141.5,512.4 L1143.2,509.8 L1145.1,506.5 L1147,503.4 L1148.9,500.2 L1150.7,497.8 L1152.4,495.8 L1154,494.9 L1155.5,495.1 L1156.9,495.9 L1158.3,496.9 L1159.7,497.1 L1161.1,497 L1162.6,496.6 L1164,496.5 L1165.5,495.9 L1167,495.7 L1168.4,495.3 L1169.9,494.4 L1171.3,493.1 L1172.8,491 L1174.2,489.3 L1175.6,487.5 L1177.1,485.7 L1178.6,484.7 L1180.2,483.4 L1182,483.3 L1183.8,482.6 L1185.5,482.5 L1187.1,482.6 L1188.5,483.3 L1189.6,484.4 L1190.5,485.4 L1191.3,486.4 L1192.1,487.3 L1192.9,487.9 L1193.9,488.6 L1195.1,488.7 L1196.3,487.6 L1197.6,485.8 L1199,484.1 L1200.3,483.6 L1201.6,483.1 L1202.9,484.1 L1204.1,485 L1205.3,487.2 L1206.6,488.7 L1207.9,490.6 L1209.2,492.7 L1210.6,494.8 L1212,497.2 L1213.4,499.1 L1214.9,501.2 L1216.4,502.4 L1218,503.9 L1219.7,505.8 L1221.5,507.7 L1223.4,508.9 L1225.3,509.9 L1227.1,511.5 L1228.9,513.1 L1230.6,514 L1232.4,514.2 L1234.1,514.5 L1235.8,514.9 L1237.3,514.9 L1238.7,515 L1239.8,514.8 L1240.7,514.4 L1241.5,513.1 L1242.3,512.2 L1243.1,511.5 L1244.2,510.5 L1245.5,508.7 L1247,506.8 L1248.6,505.2 L1250.2,503.5 L1251.7,501.8 L1253,500.7 L1254.1,500.8 L1255,501.3 L1255.9,502.1 L1256.7,503.1 L1257.5,504.1 L1258.4,504.4 L1259.3,504.4 L1260.1,503.8 L1260.9,503.4 L1261.8,502.5 L1262.8,502.4 L1263.9,502.2 L1265.1,502.3 L1266.5,502 L1267.9,502.3 L1269.4,503.2 L1271,504.6 L1272.6,506 L1274.3,508.5 L1276.1,512 L1278,516 L1279.9,519.5 L1281.8,522.7 L1283.6,524.7 L1285.3,526.2 L1287,526.5 L1288.6,526.2 L1290.2,525.2 L1291.8,523.7 L1293.4,522.5 L1295,519.9 L1296.7,516.3 L1298.3,512.3 L1299.9,508.4 L1301.6,505.1 L1303.2,502.1 L1304.9,500 L1306.6,499.4 L1308.3,498.9 L1310,498.9 L1311.6,498.2 L1313.1,497.4 L1314.4,495.4 L1315.6,493.6 L1316.8,491.3 L1317.9,489.4 L1319.2,487.6 L1320.7,486.9 L1322.5,487.2 L1324.4,488.3 L1326.5,489.3 L1328.7,490.4 L1330.7,491.1 L1332.7,491.6 L1334.5,491.2 L1336.3,489.7 L1338,487.6 L1339.7,485.5 L1341.4,484.2 L1343,484 L1344.6,485.2 L1346.1,488 L1347.7,491.4 L1349.2,495 L1350.7,498 L1352.2,500 L1353.7,500.4 L1355.3,499.9 L1356.8,498.5 L1358.3,497.1 L1359.9,495.3 L1361.4,493.5 L1362.9,490.8 L1364.5,487.7 L1366,484.2 L1367.5,481.5 L1369.1,479.2 L1370.6,477.9 L1372.1,478.3 L1373.7,479.8 L1375.2,481.7 L1376.7,484.1 L1378.3,486 L1379.8,487.6 L1381.3,488.4 L1382.6,488.7 L1384,489.1 L1385.4,489.5 L1387.1,490 L1389,489.8 L1391.4,488.6 L1394.2,487.4 L1397.2,486.3 L1400.2,485.6 L1403,484.4 L1405.2,484 L1406.9,483.9 L1408.1,485 L1409.2,486.3 L1410.1,487.2 L1411,488.3 L1412.1,488.5 L1413.4,488.3 L1414.7,486.9 L1416,485.7 L1417.4,485 L1418.7,484.3 L1420.1,483.7 L1421.4,484.1 L1422.8,485.6 L1424.1,487.3 L1425.4,488.8 L1426.8,489.7 L1428.2,490.1 L1429.6,489.9 L1430.8,489.6 L1432.2,488.6 L1433.6,487.5 L1435.3,486.3 L1437.4,485.7 L1440.1,485.4 L1443.2,485.5 L1446.7,485.5 L1450.1,485.7 L1453.2,485.1 L1455.8,484.8 L1457.7,483.9 L1459.2,482.8 L1460.4,481 L1461.5,479.1 L1462.6,477.9 L1463.8,477.6 L1465.2,478 L1466.5,479.2 L1467.9,480.7 L1469.3,482.1 L1470.6,483.3 L1471.9,483.9 L1473.1,483.7 L1474.1,482.3 L1475.1,480.6 L1476.2,479 L1477.4,477.7 L1478.8,476.7 L1480.5,475.9 L1482.4,475.5 L1484.4,475.1 L1486.5,474.8 L1488.5,474.3 L1490.3,474.2 L1492,474.6 L1493.5,474.8 L1495,474.9 L1496.4,475 L1497.9,475.9 L1499.5,477.4 L1501.2,480.4 L1503.1,484 L1504.9,487.9 L1506.7,491.5 L1508.4,495.4 L1509.9,497.8 L1511.1,498.7 L1512,498.5 L1512.8,498.4 L1513.6,497.8 L1514.5,497.5 L1515.6,496.7 L1517,496 L1518.6,494.5 L1520.3,493.3 L1521.9,492 L1523.5,490.9 L1524.8,490 L1525.8,489.7 L1526.5,490.1 L1527.2,490.4 L1527.8,490.5 L1528.5,489.8 L1529.4,489.3 L1530.6,488 L1531.9,486 L1533.3,483 L1534.8,479.9 L1536.2,477.2 L1537.5,475.4 L1538.7,475.2 L1539.9,476 L1541.1,477.7 L1542.2,478.8 L1543.3,480.1 L1544.4,480.5 L1545.4,480.6 L1546.3,480 L1547.1,478.8 L1548,477.6 L1549,476.8 L1550.1,476.7 L1551.5,477.1 L1553,477.4 L1554.6,477.3 L1556.3,476.9 L1557.9,476.9 L1559.4,476.5 L1560.8,476.3 L1562.2,474.6 L1563.6,473.7 L1564.9,472.5 L1566.2,471.9 L1567.4,472 L1568.4,473.5 L1569.3,476.6 L1570.1,479.8 L1570.9,483.1 L1571.9,486.1 L1573.2,488.8 L1574.8,490 L1576.7,490.2 L1578.7,490.4 L1580.7,490.6 L1582.8,490.9 L1584.7,490.7 L1586.5,490.2 L1588.2,489.2 L1589.9,487.9 L1591.6,486.8 L1593.3,486.7 L1595,487.7 L1596.7,489.8 L1598.4,493.7 L1600.1,497.9 L1601.8,502.7 L1603.6,506.2 L1605.4,508.8 L1607.1,509.9 L1608.6,510.3 L1610.2,509.6 L1612,508.6 L1614.2,507.5 L1616.9,506.7 L1620.3,505.6 L1624.4,503.8 L1628.8,502.2 L1633.4,500.7 L1638,499.5 L1642.2,498.2 L1646,497.1 L1649.4,496.1 L1652.8,495.2 L1656.4,494.5 L1660.5,493.9 L1665.2,493.5 L1671.2,493 L1678.5,492.8 L1686.2,492.3 L1693.6,491.5 L1699.9,491.4 L1704.3,491.5" stroke="#8b47a0" stroke-width="3.8" fill="none" stroke-linejoin="round" stroke-linecap="round"/>
<path d="M966.6,425.6 L967.7,426.1 L969.2,427.1 L971,428.3 L973,429.9 L975.2,430.9 L977.5,432 L979.9,433.1 L982.4,434.7 L985,436.4 L988,437.7 L991.2,438.9 L995,439.8 L999.6,440.4 L1005,440.5 L1010.8,440.1 L1016.5,439.9 L1021.6,439.6 L1025.6,439.9 L1028.3,440.2 L1030.2,440.7 L1031.4,441.1 L1032.4,441.4 L1033.2,441.6 L1034.3,441.4 L1035.5,440.5 L1036.7,439.3 L1037.7,438.6 L1038.8,438 L1039.8,437.9 L1040.9,438.3 L1042,440.2 L1042.9,442.6 L1043.9,445.1 L1045,447.8 L1046.2,450.4 L1047.5,451.9 L1049,453 L1050.7,453.4 L1052.4,453.6 L1054.3,453 L1056.3,452.5 L1058.4,451.8 L1060.7,451.8 L1063.3,451.7 L1066,451.3 L1068.7,450 L1071.3,448.7 L1073.7,447.5 L1075.9,446.4 L1078,444.8 L1080,443.3 L1082,441.7 L1083.9,440.6 L1085.7,440.3 L1087.5,440.7 L1089.2,441.7 L1090.8,442.7 L1092.4,444 L1094,445.1 L1095.5,445.5 L1097,444.9 L1098.6,443.8 L1100.1,442.8 L1101.6,442.1 L1103,441 L1104.3,440.8 L1105.5,440.3 L1106.7,441 L1107.8,441.3 L1108.9,442.2 L1109.9,442.8 L1110.9,443.1 L1111.9,442.5 L1112.7,441.4 L1113.6,440.3 L1114.5,439.2 L1115.3,438.2 L1116.3,437.9 L1117.3,438.8 L1118.3,440 L1119.4,441.2 L1120.5,442.2 L1121.7,442.7 L1122.9,442.9 L1124.2,442 L1125.7,440.2 L1127.2,437.1 L1128.7,434.2 L1130.2,432.1 L1131.6,430.7 L1132.9,429.8 L1134,429.4 L1135.2,429.9 L1136.4,430.4 L1137.7,430 L1139.3,428.5 L1141.2,425.6 L1143.5,421.8 L1145.9,417.1 L1148.2,412.1 L1150.5,408.2 L1152.4,406 L1154,406.2 L1155.3,407.5 L1156.5,409.5 L1157.7,411.8 L1158.8,413.8 L1160,414.6 L1161.3,414.2 L1162.5,412.5 L1163.8,410.3 L1165.1,408 L1166.4,406.4 L1167.7,405.6 L1169.1,404.9 L1170.7,404.4 L1172.3,404.6 L1173.8,404.6 L1175.2,405 L1176.4,404.7 L1177.3,404.4 L1178,403.6 L1178.5,402.6 L1179.1,401.5 L1179.8,401 L1180.8,401.1 L1182.1,402.9 L1183.7,404.8 L1185.5,407 L1187.3,408.8 L1189,410.2 L1190.6,411.7 L1192,412.2 L1193.3,411.8 L1194.6,410.2 L1195.8,408.7 L1197,407.7 L1198.3,407 L1199.6,405.9 L1200.8,404.2 L1202.1,402.3 L1203.4,400.8 L1204.7,399.5 L1206,399.7 L1207.4,402.3 L1208.9,406.9 L1210.5,412.2 L1212,416.9 L1213.4,421 L1214.7,423.7 L1215.8,424.7 L1216.7,424.1 L1217.6,422.5 L1218.4,420.6 L1219.3,419.2 L1220.2,419.1 L1221.2,420.3 L1222.3,422.5 L1223.4,425 L1224.5,428 L1225.6,430.3 L1226.7,432 L1227.8,432.5 L1228.9,432.3 L1230,431.7 L1231.1,430.9 L1232.2,430.8 L1233.3,431.3 L1234.3,432.6 L1235.3,434.6 L1236.2,437.1 L1237.2,438.8 L1238.4,439.8 L1239.8,439.1 L1241.5,436.5 L1243.5,431.9 L1245.7,426.1 L1247.9,420.5 L1250,416.2 L1251.9,415.2 L1253.5,417.2 L1255,421.7 L1256.5,427.5 L1257.8,433.7 L1259.2,439.4 L1260.6,442 L1262.1,442.6 L1263.6,440.8 L1265.1,438.7 L1266.6,436.3 L1268,434.8 L1269.4,434.4 L1270.7,434.6 L1272.1,436 L1273.3,437.1 L1274.6,439.2 L1275.8,440.6 L1277,442.5 L1278.1,444.8 L1279.1,447.7 L1280.1,451 L1281.1,452.9 L1282.3,454.4 L1283.6,454 L1285.2,451.6 L1286.9,446.9 L1288.8,441.2 L1290.7,435.6 L1292.6,430.4 L1294.5,425.8 L1296.3,421.7 L1298.1,417.8 L1299.8,415 L1301.6,412.2 L1303.5,410.1 L1305.4,408.2 L1307.5,407.4 L1309.7,407.4 L1311.9,408.1 L1314.2,408.9 L1316.4,410.2 L1318.5,412 L1320.5,414.3 L1322.3,417.3 L1324.1,420.7 L1325.9,424.7 L1327.7,428.2 L1329.5,430.2 L1331.4,430.3 L1333.3,430.1 L1335.3,429.6 L1337.2,429.2 L1339,428.2 L1340.7,427.7 L1342.2,428.1 L1343.7,429.4 L1345,431.2 L1346.3,432.4 L1347.6,433.1 L1348.8,433.1 L1350,432.7 L1351.2,431.6 L1352.3,430.2 L1353.4,428.7 L1354.6,428 L1355.7,427.6 L1356.9,428.1 L1358,429.1 L1359.2,431.3 L1360.3,433.1 L1361.5,434.6 L1362.6,434.8 L1363.8,434.1 L1364.9,432.2 L1366,429.2 L1367.2,426.3 L1368.3,423.8 L1369.5,421.7 L1370.6,420.3 L1371.7,419.1 L1372.7,418.4 L1373.8,417.1 L1375.1,415.2 L1376.4,412.9 L1377.9,410.5 L1379.7,407.8 L1381.5,404.8 L1383.3,402.2 L1385.1,400 L1386.7,399.1 L1388.2,399.6 L1389.6,401.1 L1391,403.6 L1392.3,405.8 L1393.5,407.8 L1394.8,408.5 L1396,408.4 L1397.1,407.5 L1398.2,405.7 L1399.4,403.9 L1400.5,402 L1401.7,401.9 L1402.9,402.6 L1404.2,405.3 L1405.5,407.8 L1406.8,410.4 L1408.2,411.8 L1409.8,412.2 L1411.6,410.9 L1413.6,408.3 L1415.8,405.1 L1417.9,402.2 L1419.7,400 L1421.3,399 L1422.4,398.8 L1423.3,399.9 L1423.9,400.9 L1424.5,402.6 L1425.1,403.4 L1425.9,404 L1426.9,404 L1428.1,403.2 L1429.3,401.8 L1430.5,399.9 L1431.7,398.9 L1432.8,398.6 L1433.8,399 L1434.8,399.6 L1435.8,400.8 L1436.7,402.1 L1437.6,403 L1438.5,403.3 L1439.3,402.1 L1440.1,400.7 L1440.8,398.8 L1441.5,397 L1442.3,395.9 L1443.1,395.6 L1444,396.6 L1444.9,398.2 L1445.9,400 L1446.9,402.3 L1447.9,403.8 L1448.9,404.1 L1449.9,402.7 L1450.8,399.9 L1451.8,396.9 L1452.8,393.6 L1453.7,390.8 L1454.6,389.4 L1455.4,389.4 L1456.2,391.1 L1456.9,393.3 L1457.6,396.1 L1458.4,398 L1459.2,399.1 L1460.1,398.5 L1461,398.1 L1462,396.4 L1462.9,395.4 L1464,393.9 L1465,394 L1466.1,394.8 L1467.2,396.9 L1468.4,398.9 L1469.6,400.6 L1470.7,401.7 L1471.9,402.2 L1473,401.8 L1474.1,400.7 L1475.2,399.1 L1476.3,397.4 L1477.5,396 L1478.8,394.6 L1480.2,393.8 L1481.8,392.7 L1483.4,391.8 L1485,391.2 L1486.6,390.6 L1488,390.9 L1489.3,391.5 L1490.6,393 L1491.7,394.4 L1492.9,395.6 L1493.9,396.3 L1494.9,396.4 L1495.8,395.9 L1496.5,395 L1497.1,393.6 L1497.8,392 L1498.6,391.2 L1499.5,392.1 L1500.6,394 L1501.9,396.7 L1503.3,400 L1504.8,404.1 L1506.2,407.9 L1507.6,410.3 L1509,411.6 L1510.3,411.5 L1511.7,411.5 L1513,410.9 L1514.3,410.8 L1515.6,410.4 L1516.8,409.7 L1518,408.2 L1519.2,406.8 L1520.3,405.3 L1521.4,403.8 L1522.5,402.8 L1523.5,402.2 L1524.4,402.5 L1525.3,402.5 L1526.2,402.4 L1527.2,402.5 L1528.3,402.4 L1529.4,401.6 L1530.6,400.3 L1531.8,399.1 L1533.1,398 L1534.6,396.6 L1536.3,395.5 L1538.3,394.3 L1540.6,393.8 L1543,393.3 L1545.4,393 L1547.9,392.3 L1550.1,391.8 L1552.2,390.5 L1554.3,388.6 L1556.3,386.3 L1558.3,384.4 L1560.1,382.9 L1561.7,382.3 L1563.1,382.2 L1564.4,382.2 L1565.6,382.3 L1566.6,382.6 L1567.6,383.7 L1568.6,385 L1569.5,386.8 L1570.2,388.5 L1570.9,390.3 L1571.6,391.9 L1572.3,393.6 L1573.2,394.8 L1574.2,396.4 L1575.3,398.2 L1576.5,399.6 L1577.7,400.8 L1578.9,401.2 L1580.1,401.4 L1581.2,400.8 L1582.2,400 L1583.2,398.6 L1584.3,397.2 L1585.5,395.8 L1587,395.3 L1588.8,395.4 L1591,395.7 L1593.4,396.6 L1595.7,398 L1597.8,400.5 L1599.6,403.9 L1600.9,409.6 L1601.8,417 L1602.6,425.2 L1603.3,433.4 L1604.2,440.6 L1605.4,445 L1607,446.5 L1608.7,445.6 L1610.7,444 L1612.7,441.3 L1614.8,439.3 L1616.9,437.7 L1619,436.7 L1621.2,435.2 L1623.4,433.8 L1625.7,432.2 L1628.1,430.6 L1630.7,428.7 L1633.4,426.8 L1636.1,425.5 L1638.9,424.5 L1641.9,423.5 L1645.3,422.3 L1649.1,421.2 L1653.5,420 L1658.4,418.6 L1663.6,417.6 L1668.9,417.2 L1674.1,417 L1679,416.2 L1683.8,415.2 L1688.7,414.6 L1693.5,415 L1697.9,415.5 L1701.6,415.6 L1704.3,415" stroke="#9b50e0" stroke-width="3.8" fill="none" stroke-linejoin="round" stroke-linecap="round"/>
<path d="M966.6,363 L970.9,363.4 L976.9,363.7 L984.1,363.5 L991.4,363.8 L998.2,363.7 L1003.7,363.9 L1007.8,363.7 L1011.2,364.1 L1014.1,364.3 L1016.6,364.9 L1018.9,365.3 L1021.2,366.1 L1023.4,367 L1025.5,367.3 L1027.3,367.6 L1029,367.8 L1030.6,368.2 L1032,368.2 L1033.2,367.1 L1034.3,365 L1035.2,362 L1036,359.2 L1036.8,356.4 L1037.6,354.8 L1038.4,354 L1039,354.1 L1039.7,354.8 L1040.3,355.8 L1041.1,356.9 L1042,358.2 L1042.9,360 L1043.7,363 L1044.6,366.2 L1045.7,369.5 L1047.3,372.2 L1049.6,373.8 L1052.8,374.5 L1057,374.7 L1061.6,375.3 L1066.2,375.6 L1070.4,375.4 L1073.7,375 L1076.1,374.2 L1077.8,373.6 L1079.1,372.2 L1080.2,371.4 L1081.2,370.8 L1082.4,370.7 L1083.6,370.9 L1084.8,371.2 L1085.8,372.1 L1086.9,373.1 L1087.9,374 L1089,374.1 L1090.1,373.7 L1091.3,372.5 L1092.4,371.6 L1093.5,370.4 L1094.5,369.4 L1095.5,369.3 L1096.3,369.5 L1097,370.5 L1097.7,371.6 L1098.3,373 L1099.1,374.1 L1099.9,374.2 L1100.9,373.8 L1101.9,372.2 L1103.1,371 L1104.2,369.4 L1105.4,368.5 L1106.5,368.1 L1107.6,368.5 L1108.8,369.1 L1109.9,369.7 L1111,370.3 L1112,371.3 L1113,371.6 L1113.8,371.1 L1114.6,369.8 L1115.3,368.1 L1115.9,366.9 L1116.6,365.9 L1117.4,366.2 L1118.2,367 L1119.1,368.3 L1120,369.6 L1120.9,370.6 L1121.8,371.6 L1122.9,371.7 L1124,370.4 L1125.2,368.4 L1126.5,365.8 L1127.8,363.1 L1129.1,360.6 L1130.5,358.7 L1131.9,357.7 L1133.3,357.4 L1134.7,357.3 L1136.2,357.7 L1137.7,356.9 L1139.3,355.2 L1141,351.7 L1142.9,347.3 L1144.7,341.8 L1146.6,336.6 L1148.5,332 L1150.2,329.1 L1151.8,328.3 L1153.2,329.2 L1154.6,331.1 L1156,333.3 L1157.4,334.9 L1159,335 L1160.7,333.7 L1162.6,331.7 L1164.6,329 L1166.5,326.5 L1168.3,324 L1169.9,322.7 L1171.2,322.1 L1172.4,322.9 L1173.4,324.5 L1174.4,325.9 L1175.4,326.7 L1176.4,326.8 L1177.5,326.1 L1178.6,324.1 L1179.7,321.7 L1180.8,319.8 L1181.9,318.6 L1183,318.3 L1184.1,318.4 L1185.2,320 L1186.3,321.9 L1187.4,323.8 L1188.5,325.3 L1189.6,325.6 L1190.7,325.2 L1191.7,323.7 L1192.7,322.5 L1193.8,321.2 L1194.9,319.9 L1196.1,319.4 L1197.5,319.6 L1199,321.3 L1200.6,323.2 L1202.1,325.4 L1203.6,326.5 L1204.9,327.4 L1206,327.6 L1206.9,327.9 L1207.7,327.5 L1208.5,327.4 L1209.3,327.7 L1210.3,329.6 L1211.5,332.7 L1212.8,337.1 L1214.2,341.6 L1215.6,345.9 L1216.9,349.4 L1218,351.1 L1218.9,351.3 L1219.5,349.4 L1220.1,347.2 L1220.7,344.6 L1221.4,343.2 L1222.3,343.3 L1223.5,345.4 L1224.9,348.1 L1226.5,350.7 L1228.1,354.2 L1229.7,357.2 L1231.1,360.2 L1232.5,361.7 L1233.8,363.7 L1235.1,365 L1236.4,366 L1237.6,366.6 L1238.7,366.8 L1239.7,366.6 L1240.6,365.6 L1241.5,364.7 L1242.4,363.5 L1243.2,361.7 L1244.2,359.8 L1245.2,356.5 L1246.2,353.1 L1247.3,348.7 L1248.4,345.5 L1249.6,343 L1250.8,343.5 L1252.1,346.6 L1253.6,352.4 L1255.1,359.7 L1256.6,367.2 L1258.1,373.5 L1259.5,377.2 L1260.8,378.3 L1262.1,377.5 L1263.4,375.3 L1264.7,372.3 L1265.9,370 L1267.2,368.9 L1268.5,370.3 L1269.7,372.2 L1271,374.8 L1272.3,377.5 L1273.5,380.1 L1274.8,382.8 L1276.1,385 L1277.4,387.6 L1278.8,390 L1280.1,392.3 L1281.3,393.7 L1282.5,394 L1283.5,393.7 L1284.3,392.8 L1285.1,391 L1285.9,388.7 L1286.8,385.5 L1287.9,381.3 L1289.2,375.3 L1290.7,368.4 L1292.3,360.5 L1293.9,352.7 L1295.4,345.2 L1296.7,339.3 L1297.8,335.6 L1298.6,332.9 L1299.4,331.1 L1300.2,328.9 L1301,327.7 L1302,326.2 L1303.2,325.2 L1304.4,324.1 L1305.7,322.9 L1307.1,322.5 L1308.5,321.8 L1310,321.6 L1311.6,321.5 L1313.3,321 L1315.1,321.3 L1316.8,321.3 L1318.5,322.9 L1320,324.6 L1321.3,328.4 L1322.4,333.5 L1323.5,339.7 L1324.5,345.7 L1325.7,350.7 L1326.9,355 L1328.3,357.8 L1329.9,360 L1331.5,361.7 L1333.1,363.3 L1334.7,364.4 L1336.1,365.3 L1337.4,365.5 L1338.6,365.3 L1339.7,364.4 L1340.8,363.3 L1341.9,362.4 L1343,362.1 L1344.2,362.5 L1345.3,363.7 L1346.5,365.5 L1347.6,367.6 L1348.8,369.2 L1349.9,369.4 L1351.1,368.4 L1352.2,366.3 L1353.4,364 L1354.5,361 L1355.7,359.2 L1356.8,358.3 L1357.9,359.3 L1358.8,360.7 L1359.8,362.6 L1360.9,364.7 L1362.2,365.6 L1363.7,364.7 L1365.7,359.7 L1368,352.8 L1370.6,343.9 L1373.2,335.2 L1375.5,327.5 L1377.5,322.5 L1379,319.2 L1380.1,316.8 L1381.1,315.5 L1382,314.8 L1383.1,314.6 L1384.4,315.1 L1386.1,316.8 L1388,320.5 L1390,324 L1392.1,327.8 L1394.1,330.1 L1396,331.5 L1397.8,330.4 L1399.6,328.1 L1401.4,325.1 L1403.1,322.1 L1404.7,319.7 L1406.3,318.5 L1407.8,318.9 L1409.3,320.2 L1410.7,322.2 L1412,324.1 L1413.3,325.9 L1414.4,326.1 L1415.3,325.7 L1415.9,324 L1416.5,321.9 L1417.1,319.3 L1417.9,317.6 L1419,317.6 L1420.5,318.8 L1422.4,321 L1424.5,323.7 L1426.6,326.3 L1428.6,328.1 L1430.5,328.9 L1432.2,328.6 L1433.7,327.9 L1435.2,325.9 L1436.7,324.2 L1438.2,322.3 L1439.7,320.9 L1441.2,318.9 L1442.8,316.2 L1444.3,313.6 L1445.8,311.8 L1447.4,310.8 L1448.9,310.2 L1450.4,310.5 L1452,311.6 L1453.5,313.5 L1455,314.8 L1456.6,315.8 L1458.1,315.6 L1459.6,314.8 L1461.2,312.9 L1462.7,311.2 L1464.2,308.9 L1465.8,307.3 L1467.3,305.5 L1468.9,304 L1470.5,302 L1472,300.5 L1473.6,299.4 L1475.1,298.9 L1476.5,298.6 L1477.8,299 L1479,299.8 L1480.2,301.1 L1481.3,302.8 L1482.3,304.1 L1483.4,303.9 L1484.4,303 L1485.2,301.6 L1486.1,300.3 L1487,298.1 L1488,296.2 L1489.2,294.6 L1490.7,294 L1492.5,293.2 L1494.4,292.9 L1496.3,292.6 L1498.1,293.1 L1499.5,293.6 L1500.5,295.8 L1501.2,298.6 L1501.8,302.3 L1502.3,305.5 L1503.1,308.9 L1504.1,311.5 L1505.5,313.3 L1507.1,314.6 L1508.9,315 L1510.7,315.6 L1512.6,315.4 L1514.5,315.2 L1516.4,313.9 L1518.3,311.6 L1520.3,308.7 L1522.2,305.7 L1524.1,303.7 L1526,301.9 L1527.8,299.8 L1529.6,297.5 L1531.4,295.6 L1533.1,293.9 L1534.7,292.4 L1536.3,291.2 L1537.8,291.2 L1539.2,291.7 L1540.5,292.8 L1541.8,293.9 L1543.1,295 L1544.4,295.6 L1545.7,294.7 L1547,293.8 L1548.3,292 L1549.6,290.6 L1551,288.9 L1552.4,287.8 L1553.9,287 L1555.5,286.6 L1557.1,286.5 L1558.6,286.3 L1560.2,285.6 L1561.7,284.7 L1563.1,283.5 L1564.5,282.6 L1565.8,281.6 L1567.1,280.9 L1568.4,280.7 L1569.7,282.1 L1571,285.1 L1572.4,289.4 L1573.7,293.8 L1575,298.5 L1576.4,302.1 L1577.8,304.2 L1579.2,303.8 L1580.7,302.1 L1582.1,299.7 L1583.6,297 L1585.3,294.8 L1587,293.6 L1588.9,293.3 L1591.1,292.9 L1593.3,293 L1595.5,294 L1597.7,296.4 L1599.6,299.5 L1601.4,304.9 L1603.1,311.4 L1604.7,319.3 L1606.2,327 L1607.6,334.3 L1608.8,340.4 L1609.7,345.5 L1610.2,350.1 L1610.6,354.4 L1611.1,357.2 L1612,359.6 L1613.4,361 L1615.5,361.4 L1618,360.3 L1620.9,358.1 L1624,356.2 L1627.3,354.2 L1630.7,353 L1633.9,351.6 L1636.9,350.2 L1640.1,348.8 L1643.8,347.9 L1648.2,347.4 L1653.7,346.7 L1661.1,346.1 L1670.4,345.5 L1680.4,344.7 L1690.2,343.9 L1698.5,343.2 L1704.3,342.7" stroke="#7c3d90" stroke-width="3.8" fill="none" stroke-linejoin="round" stroke-linecap="round"/>
<path d="M966.6,295.3 L967.8,295.5 L969.5,295.3 L971.5,295.5 L973.6,295.5 L975.7,296.1 L977.5,296.4 L979,297.3 L980.2,297.9 L981.4,298.7 L982.7,299.6 L984.3,300.8 L986.2,301.9 L988.7,302.4 L991.7,303.3 L994.9,303.4 L998.2,304.2 L1001.2,304.2 L1003.7,304.4 L1005.5,304.4 L1006.9,304 L1008,303.8 L1009.1,303.1 L1010.5,302.9 L1012.5,302.6 L1015.3,302.5 L1018.6,303.2 L1022.3,303.4 L1026,303.7 L1029.3,303.2 L1032.1,303.4 L1034.2,302.7 L1036,301.9 L1037.4,300.4 L1038.7,298.9 L1039.8,297.4 L1040.9,296.5 L1041.9,296.4 L1042.7,297 L1043.3,298.2 L1043.9,299.4 L1044.6,300.7 L1045.3,301.9 L1046.1,303.7 L1046.8,305.6 L1047.5,307.4 L1048.4,308.9 L1049.4,310.5 L1050.7,311.9 L1052.3,312.8 L1054.2,313.3 L1056.3,312.9 L1058.4,312.7 L1060.6,312.1 L1062.8,312.1 L1065,311.8 L1067.3,311 L1069.6,310.2 L1071.8,309 L1074,308.7 L1075.9,307.4 L1077.6,306.3 L1079,304.9 L1080.2,303.8 L1081.5,302.3 L1082.9,300.9 L1084.6,300.3 L1086.6,300.1 L1088.9,300.4 L1091.3,300.4 L1093.7,300.9 L1095.8,300.9 L1097.7,300.6 L1099.2,300 L1100.4,299.1 L1101.4,298.4 L1102.3,297.4 L1103.3,296.3 L1104.3,295.9 L1105.4,295.9 L1106.5,297 L1107.6,297.5 L1108.7,298.6 L1109.8,298.7 L1110.9,299.3 L1112,298.6 L1113,298 L1114.1,297.1 L1115.2,296.4 L1116.3,295.3 L1117.4,295 L1118.6,295.2 L1119.8,296 L1121.1,296.9 L1122.4,297.9 L1123.7,298.6 L1125,298.6 L1126.3,297.1 L1127.6,295.4 L1128.9,292.8 L1130.2,291.1 L1131.5,289.1 L1132.7,287.8 L1133.9,287.6 L1135,287.9 L1136.1,288.7 L1137.1,289 L1138.2,288.9 L1139.3,288.4 L1140.4,287 L1141.4,285.3 L1142.4,283 L1143.5,280.3 L1144.6,276.9 L1145.8,273.3 L1147.1,268.3 L1148.6,262.8 L1150.1,256.2 L1151.6,250.4 L1153.1,245.3 L1154.6,241.6 L1156.1,239.8 L1157.6,240 L1159.1,241.5 L1160.6,243.3 L1162,244.9 L1163.3,245.6 L1164.5,245.2 L1165.7,244.5 L1166.8,243.1 L1167.9,241.8 L1168.9,240.2 L1169.9,239.2 L1170.9,238.2 L1171.9,237 L1172.8,235.2 L1173.7,233.7 L1174.5,232.2 L1175.3,231.4 L1176,230.5 L1176.5,229.7 L1177,229.4 L1177.5,228.6 L1178,228 L1178.6,227 L1179.3,225.6 L1180,224.1 L1180.7,222.9 L1181.5,221.5 L1182.3,220.3 L1183,219.4 L1183.7,219.2 L1184.5,219.1 L1185.3,219.2 L1186,219.7 L1186.7,220.2 L1187.4,220.7 L1188,221.5 L1188.5,223.6 L1189,225.6 L1189.5,228 L1190,229.6 L1190.6,231.4 L1191.3,232.2 L1192,232.6 L1192.8,232.7 L1193.6,232.6 L1194.3,232.9 L1195,233.2 L1195.6,234.5 L1196.2,235.9 L1196.7,237.2 L1197.2,238.1 L1197.8,238.7 L1198.3,239.3 L1198.8,238.6 L1199.3,237.4 L1199.8,235.1 L1200.3,233.1 L1200.9,231.4 L1201.6,230.2 L1202.4,229.1 L1203.3,227.7 L1204.2,226.8 L1205.2,226.3 L1206.1,226.2 L1207,227.1 L1207.8,228.3 L1208.5,230.1 L1209.1,231.9 L1209.8,234.5 L1210.6,237.6 L1211.4,240.1 L1212.4,242.8 L1213.4,245.4 L1214.6,248.3 L1215.7,251.5 L1216.9,253.9 L1218,256.4 L1219.1,257.6 L1220.2,259 L1221.3,259.7 L1222.3,260.6 L1223.4,260.9 L1224.5,261.7 L1225.6,262.9 L1226.7,264.8 L1227.8,266.6 L1228.9,268.5 L1230,270.8 L1231.1,272.9 L1232.2,275.1 L1233.3,277.4 L1234.4,279.8 L1235.5,282.3 L1236.6,283.8 L1237.7,285 L1238.8,285 L1240,284.8 L1241.1,283.9 L1242.2,283.4 L1243.2,282.4 L1244.2,281.2 L1245.1,280 L1245.8,278.6 L1246.5,277 L1247.2,275 L1247.9,273 L1248.6,271.3 L1249.3,268.2 L1250,263.7 L1250.7,259.5 L1251.4,255.6 L1252.1,252.9 L1253,251.6 L1254,253.5 L1255,257.8 L1256.2,263 L1257.3,268.2 L1258.5,272.5 L1259.5,274.2 L1260.5,272.9 L1261.4,268.8 L1262.3,264.3 L1263.2,259.2 L1264.1,254.7 L1265,251 L1265.9,249.4 L1266.8,248.2 L1267.8,248.2 L1268.7,247.8 L1269.6,248.3 L1270.4,249 L1271.2,250.5 L1271.9,252.4 L1272.6,254.6 L1273.3,257.1 L1274,259.3 L1274.8,262.2 L1275.7,265.6 L1276.6,270 L1277.5,274.1 L1278.5,278.2 L1279.4,282.2 L1280.3,285.5 L1281.1,288.4 L1281.8,291.3 L1282.5,293.3 L1283.2,295 L1283.9,296.1 L1284.7,296.7 L1285.6,297.3 L1286.5,296.9 L1287.4,296.5 L1288.3,294.9 L1289.2,292.9 L1290.1,290.1 L1290.9,286.3 L1291.6,281.5 L1292.4,275.4 L1293.1,268.8 L1293.8,261.8 L1294.5,254.8 L1295.2,247.4 L1295.9,239.3 L1296.6,230.6 L1297.4,222.2 L1298.1,214.8 L1298.9,209.5 L1299.7,206.1 L1300.5,204.6 L1301.4,204.2 L1302.3,204.6 L1303.3,205.2 L1304.3,205.5 L1305.4,205.8 L1306.7,206.1 L1307.9,206.6 L1309.3,206.7 L1310.6,207.3 L1312,207.5 L1313.4,207.8 L1314.8,206.8 L1316.3,206.4 L1317.8,205.9 L1319.2,206.7 L1320.7,207.9 L1322.2,210.2 L1323.6,212.9 L1325.1,216.5 L1326.6,220.3 L1327.9,224.2 L1329.2,228.4 L1330.3,233.2 L1331.3,239.3 L1332.2,245.3 L1333.1,251.4 L1334,256.1 L1335,258.4 L1336.1,257 L1337.2,253.2 L1338.4,248.3 L1339.6,243.3 L1340.7,239.2 L1341.9,237.7 L1343.1,239.3 L1344.2,243.3 L1345.4,248.9 L1346.5,254.2 L1347.7,258.4 L1348.8,260 L1350,258.6 L1351.2,254.5 L1352.5,248.8 L1353.7,243 L1354.8,238.6 L1355.7,235.9 L1356.4,236.4 L1357,238 L1357.5,240.9 L1357.9,243.4 L1358.4,245 L1359.1,244.4 L1359.9,241.1 L1360.9,236 L1361.9,229.4 L1363,222.3 L1364,216 L1364.9,210.3 L1365.8,205.2 L1366.7,200.1 L1367.5,195.9 L1368.3,192.7 L1368.9,190.7 L1369.5,189.5 L1369.8,190.5 L1370,193.9 L1370,198 L1370,201.6 L1370.2,203.3 L1370.6,202.5 L1371.3,197.3 L1372.2,188.3 L1373.3,177.3 L1374.4,165.4 L1375.4,155.2 L1376.4,147.3 L1377.2,142.7 L1378,138.9 L1378.8,135.8 L1379.5,134 L1380.2,133.2 L1381,133.6 L1381.8,134.4 L1382.5,136.2 L1383.3,138.7 L1384.1,141.5 L1384.8,144.9 L1385.6,147.2 L1386.3,148.7 L1387,150.2 L1387.7,151.9 L1388.4,152.8 L1389.2,152.7 L1390.2,152.2 L1391.3,150.8 L1392.7,148.1 L1394,144.2 L1395.5,140.9 L1396.9,138 L1398.2,137.2 L1399.5,137.9 L1400.7,140.4 L1401.9,143.1 L1403.1,145.4 L1404.2,147.6 L1405.2,148.5 L1406.1,148.3 L1406.8,147 L1407.5,145.5 L1408.2,144.2 L1408.9,142.8 L1409.8,141.9 L1410.9,142.3 L1412.1,143.1 L1413.3,145 L1414.6,146.3 L1415.7,147.7 L1416.7,148.3 L1417.4,147.8 L1418,146.3 L1418.4,143.8 L1418.8,141.9 L1419.4,140.8 L1420.1,142.9 L1421,147.9 L1422.1,155.9 L1423.3,164.8 L1424.6,173.7 L1425.8,181.2 L1427,185.8 L1428.2,186.9 L1429.4,185.7 L1430.6,183.2 L1431.8,180.3 L1432.9,177.5 L1433.9,176.1 L1434.8,176.1 L1435.6,177.2 L1436.4,178.8 L1437.1,180.1 L1437.8,181 L1438.5,181 L1439.1,179.7 L1439.5,177.8 L1440,175.2 L1440.5,172.6 L1441.1,169.8 L1442,168.1 L1443.2,167 L1444.8,165.6 L1446.5,163.9 L1448.2,162.6 L1449.8,162.8 L1451.2,163.7 L1452.3,167 L1453.2,172 L1454.1,177.7 L1454.9,183.3 L1455.8,186.6 L1456.9,188.1 L1458.2,185.3 L1459.7,179.8 L1461.3,172.7 L1462.9,165.6 L1464.5,160.2 L1466.1,156.8 L1467.6,156.6 L1469.1,159.2 L1470.6,162.7 L1472.1,167.2 L1473.7,169.9 L1475.4,171.9 L1477.2,171.8 L1479.2,171.2 L1481.3,169.3 L1483.3,167.8 L1485.2,166.8 L1486.9,167.2 L1488.3,168.9 L1489.6,172.2 L1490.7,176.5 L1491.8,180.9 L1492.8,184.2 L1493.8,185.1 L1494.8,182.4 L1495.7,177.3 L1496.6,171.5 L1497.5,166 L1498.4,162.4 L1499.5,161.2 L1500.7,164.1 L1502,169.4 L1503.3,176.7 L1504.7,184.5 L1506.2,192 L1507.6,198.1 L1509.1,203 L1510.6,207.5 L1512.1,211.5 L1513.7,215.1 L1515.3,218 L1516.8,219.1 L1518.4,218.3 L1520,214.7 L1521.7,210.3 L1523.3,205.3 L1524.7,201.1 L1526,198.7 L1527,198.6 L1527.8,200.2 L1528.5,202.4 L1529.2,203.9 L1529.8,204.8 L1530.6,204 L1531.5,201.9 L1532.4,197.5 L1533.3,192.7 L1534.3,187.6 L1535.3,183.9 L1536.3,181.9 L1537.4,183 L1538.6,185.5 L1539.7,189.5 L1540.9,193.4 L1542.1,197.5 L1543.2,199.8 L1544.2,200.8 L1545.1,201.6 L1546,202.1 L1546.9,202 L1547.9,201.1 L1549,200.3 L1550.3,199 L1551.7,197 L1553.1,193.7 L1554.6,191.4 L1555.9,189.2 L1557.1,188.2 L1558.1,188 L1558.9,188.5 L1559.6,190 L1560.3,190.7 L1561,191.6 L1561.7,191.3 L1562.5,189.5 L1563.3,186.4 L1564.1,182.4 L1564.9,179 L1565.6,176.2 L1566.3,175.1 L1566.9,175.8 L1567.5,176.9 L1568.1,178.9 L1568.6,181.3 L1569.1,185.3 L1569.7,188.8 L1570.2,193.3 L1570.7,198.9 L1571.2,205.5 L1571.7,211.9 L1572.4,217.4 L1573.2,221.7 L1574.3,224.9 L1575.6,227.7 L1577.1,230.5 L1578.5,232.6 L1579.9,234.1 L1581.2,234.9 L1582.3,234.8 L1583.2,233 L1584.1,230.9 L1585,228.4 L1585.9,226.7 L1587,225.3 L1588.1,225.8 L1589.3,226.5 L1590.5,227.9 L1591.8,229.3 L1593.3,231.7 L1595,235.1 L1596.9,241 L1599,248.6 L1601.3,257.8 L1603.7,266.4 L1606.2,273.1 L1608.8,276.9 L1611.5,277.3 L1614.4,275.5 L1617.3,272.1 L1620.3,268 L1623.2,263.9 L1626.1,260.6 L1628.8,258 L1631.5,255.4 L1634.1,252.4 L1636.7,249.5 L1639.4,246.7 L1642.2,244.7 L1645.1,242.4 L1648.2,240.3 L1651.3,238.5 L1654.4,237.2 L1657.5,235.6 L1660.6,234.3 L1663.6,232.6 L1666.5,231.6 L1669.4,230.7 L1672.4,229.7 L1675.5,229.2 L1679,228.5 L1683.1,228.2 L1687.9,226.9 L1692.8,225.8 L1697.5,224.8 L1701.5,224.4 L1704.3,224.2" stroke="#3f2569" stroke-width="3.8" fill="none" stroke-linejoin="round" stroke-linecap="round"/>
<rect x="966" y="35" width="739" height="564.3" fill="none" stroke="#4a4a4a" stroke-width="1.4"/>
<line x1="966" y1="599.3" x2="1705" y2="599.3" stroke="#333" stroke-width="1.6" />
<line x1="966" y1="599.3" x2="966" y2="611.3" stroke="#333" stroke-width="1.6" />
<text x="970.5" y="643.5" font-size="30" fill="#000" text-anchor="middle" >1000</text>
<line x1="1058.4" y1="599.3" x2="1058.4" y2="605.3" stroke="#333" stroke-width="1.6" />
<line x1="1150.8" y1="599.3" x2="1150.8" y2="611.3" stroke="#333" stroke-width="1.6" />
<text x="1155.2" y="643.5" font-size="30" fill="#000" text-anchor="middle" >1200</text>
<line x1="1243.1" y1="599.3" x2="1243.1" y2="605.3" stroke="#333" stroke-width="1.6" />
<line x1="1335.5" y1="599.3" x2="1335.5" y2="611.3" stroke="#333" stroke-width="1.6" />
<text x="1340" y="643.5" font-size="30" fill="#000" text-anchor="middle" >1400</text>
<line x1="1427.9" y1="599.3" x2="1427.9" y2="605.3" stroke="#333" stroke-width="1.6" />
<line x1="1520.2" y1="599.3" x2="1520.2" y2="611.3" stroke="#333" stroke-width="1.6" />
<text x="1524.8" y="643.5" font-size="30" fill="#000" text-anchor="middle" >1600</text>
<line x1="1612.6" y1="599.3" x2="1612.6" y2="605.3" stroke="#333" stroke-width="1.6" />
<line x1="1705" y1="599.3" x2="1705" y2="611.3" stroke="#333" stroke-width="1.6" />
<text x="1709.5" y="643.5" font-size="30" fill="#000" text-anchor="middle" >1800</text>
<text x="1356.2" y="684.5" font-size="31" fill="#000" text-anchor="middle" >Wavenumber (cm<tspan dy="-12" font-size="19">-1</tspan><tspan dy="12">)</tspan></text>
<text x="918" y="319.2" font-size="30.8" fill="#000" text-anchor="middle" transform="rotate(-90 918 319.2)">Absorbance (a. u.)</text>
<line x1="1037.4" y1="220" x2="1044.6" y2="597" stroke="#111" stroke-width="2" stroke-dasharray="9 7"/>
<polyline points="1181.8,597 1181.8,99.3 1380,99.3 1380,597" stroke="#111" stroke-width="2" fill="none" stroke-dasharray="9 7"/>
<polyline points="1272.5,597 1264.7,146.3 1319.5,146.3 1321.4,597" stroke="#111" stroke-width="2" fill="none" stroke-dasharray="9 7"/>
<line x1="1341.4" y1="105.5" x2="1341.6" y2="590" stroke="#111" stroke-width="2" stroke-dasharray="9 7"/>
<polyline points="1493.8,597 1496,139.2 1571.5,139.2 1570.3,597" stroke="#111" stroke-width="2" fill="none" stroke-dasharray="9 7"/>
<text x="1004" y="208.4" font-size="30" fill="#9025a8" text-anchor="start" >CHO*</text>
<text x="1251.6" y="86.4" font-size="30" fill="#9025a8" text-anchor="start" >HCO<tspan dy="7.5" font-size="21">3</tspan><tspan dy="-7.5">*</tspan></text>
<text x="1262.7" y="134.7" font-size="30" fill="#9025a8" text-anchor="start" >CO<tspan dy="7.5" font-size="21">3</tspan><tspan dy="-16.2" font-size="21">2-</tspan></text>
<text x="1488.5" y="125.8" font-size="30" fill="#9025a8" text-anchor="start" >COOH*</text>
<text x="1701" y="220.4" font-size="30" fill="#000" text-anchor="end" >120 min</text>
<text x="1701" y="332.6" font-size="30" fill="#000" text-anchor="end" >90 min</text>
<text x="1701" y="406.6" font-size="30" fill="#000" text-anchor="end" >60 min</text>
<text x="1701" y="482.3" font-size="30" fill="#000" text-anchor="end" >30 min</text>
<text x="1701" y="552" font-size="30" fill="#000" text-anchor="end" >0 min</text>
<defs>
<radialGradient id="sRed" cx="0.38" cy="0.32" r="0.7"><stop offset="0" stop-color="#ffc8c8"/><stop offset="0.25" stop-color="#ff3030"/><stop offset="0.75" stop-color="#e01010"/><stop offset="1" stop-color="#a00000"/></radialGradient>
<radialGradient id="sGray" cx="0.4" cy="0.32" r="0.7"><stop offset="0" stop-color="#f4f4f4"/><stop offset="0.35" stop-color="#b4b4b4"/><stop offset="0.8" stop-color="#8a8a8a"/><stop offset="1" stop-color="#5a5a5a"/></radialGradient>
<radialGradient id="sWhite" cx="0.4" cy="0.32" r="0.7"><stop offset="0" stop-color="#ffffff"/><stop offset="0.5" stop-color="#f0f0f0"/><stop offset="0.85" stop-color="#cfcfcf"/><stop offset="1" stop-color="#a8a8a8"/></radialGradient>
<radialGradient id="sOrange" cx="0.4" cy="0.35" r="0.7"><stop offset="0" stop-color="#ffd890"/><stop offset="0.35" stop-color="#fba21a"/><stop offset="1" stop-color="#e07800"/></radialGradient>
<filter id="blur1" x="-30%" y="-30%" width="160%" height="160%"><feGaussianBlur stdDeviation="1.6"/></filter>
<filter id="blur05" x="-30%" y="-30%" width="160%" height="160%"><feGaussianBlur stdDeviation="0.6"/></filter>
</defs>
<text x="6.5" y="754" font-size="49" fill="#000" text-anchor="start" >c</text>
<text x="34.3" y="893.2" font-size="50.5" fill="#0cf20c" text-anchor="start" >hv</text>
<path d="M110.5,894.5 C111,904 114,908 124,906 C134,903 141,900 145,906 C148,912 143,920 148,924 C154,928 163,921 170,924 C176,927 173,934 171,936 C168,941 172,944 180,942 C188,940 195,939 196,944 C198,950 193,953 196,958 C200,962 206,956 215,955 C222,954 221,960 219,963 C216,968 218,969 224,967 L233,962 L251,972" stroke="#0cf20c" stroke-width="4.5" fill="none" stroke-linecap="round" stroke-linejoin="round"/>
<polygon points="275,983 249.7,983 260,963.5" fill="#0cf20c" />
<rect x="317.5" y="928" width="225.5" height="437.5" fill="#93cbc0"/>
<rect x="317.5" y="925.5" width="226" height="5" fill="#0db3b3"/>
<rect x="322" y="1365.5" width="225" height="4.7" fill="#0db3b3"/>
<line x1="356.8" y1="1365" x2="356.8" y2="938" stroke="#10b04c" stroke-width="4" stroke-dasharray="12 7"/>
<polyline points="346,951.5 356.8,932 367.6,951.5" stroke="#10b04c" stroke-width="4.2" fill="none" stroke-linecap="round" stroke-linejoin="round"/>
<line x1="436.3" y1="1365" x2="436.3" y2="1182" stroke="#10b04c" stroke-width="4" stroke-dasharray="12 7"/>
<line x1="436.3" y1="1097" x2="436.3" y2="938" stroke="#10b04c" stroke-width="4" stroke-dasharray="12 7"/>
<polyline points="425.5,951.5 436.3,932 447.1,951.5" stroke="#10b04c" stroke-width="4.2" fill="none" stroke-linecap="round" stroke-linejoin="round"/>
<line x1="513.8" y1="1365" x2="513.8" y2="938" stroke="#10b04c" stroke-width="4" stroke-dasharray="12 7"/>
<polyline points="503,951.5 513.8,932 524.6,951.5" stroke="#10b04c" stroke-width="4.2" fill="none" stroke-linecap="round" stroke-linejoin="round"/>
<text x="364.3" y="1146" font-size="42" fill="#10aa48" text-anchor="start" >g-C<tspan dy="8" font-size="30">3</tspan><tspan dy="-8">N</tspan><tspan dy="8" font-size="30">4</tspan></text>
<circle cx="359" cy="902.5" r="18.6" fill="#fff" stroke="#12b0b0" stroke-width="3.9"/>
<text x="345.4" y="912.3" font-size="30.5" fill="#000" text-anchor="start" >e<tspan dy="-9" font-size="19">-</tspan></text>
<circle cx="435.8" cy="902.5" r="18.6" fill="#fff" stroke="#12b0b0" stroke-width="3.9"/>
<text x="422.2" y="912.3" font-size="30.5" fill="#000" text-anchor="start" >e<tspan dy="-9" font-size="19">-</tspan></text>
<circle cx="510" cy="902.5" r="18.6" fill="#fff" stroke="#12b0b0" stroke-width="3.9"/>
<text x="496.4" y="912.3" font-size="30.5" fill="#000" text-anchor="start" >e<tspan dy="-9" font-size="19">-</tspan></text>
<circle cx="359" cy="1392.4" r="19" fill="#fff" stroke="#e9c98c" stroke-width="3.8"/>
<text x="346" y="1402.8" font-size="29.5" fill="#000" text-anchor="start" >h<tspan dy="-9" font-size="19.5">+</tspan></text>
<circle cx="435.7" cy="1392.4" r="19" fill="#fff" stroke="#e9c98c" stroke-width="3.8"/>
<text x="422.7" y="1402.8" font-size="29.5" fill="#000" text-anchor="start" >h<tspan dy="-9" font-size="19.5">+</tspan></text>
<circle cx="510.3" cy="1392.4" r="19" fill="#fff" stroke="#e9c98c" stroke-width="3.8"/>
<text x="497.3" y="1402.8" font-size="29.5" fill="#000" text-anchor="start" >h<tspan dy="-9" font-size="19.5">+</tspan></text>
<g transform="translate(26.8,1061.5) scale(0.9,1.1)" opacity="0.92" filter="url(#blur05)"><circle cx="0" cy="2" r="8" fill="#5ab4e4"/><g transform="rotate(0)"><line x1="0" y1="0" x2="0" y2="-22" stroke="#5ab4e4" stroke-width="3.2"/><polyline points="-6,-17 0,-12 6,-17" fill="none" stroke="#8fcdef" stroke-width="2.4"/></g><g transform="rotate(45)"><line x1="0" y1="0" x2="0" y2="-22" stroke="#5ab4e4" stroke-width="3.2"/><polyline points="-6,-17 0,-12 6,-17" fill="none" stroke="#8fcdef" stroke-width="2.4"/></g><g transform="rotate(90)"><line x1="0" y1="0" x2="0" y2="-22" stroke="#5ab4e4" stroke-width="3.2"/><polyline points="-6,-17 0,-12 6,-17" fill="none" stroke="#8fcdef" stroke-width="2.4"/></g><g transform="rotate(135)"><line x1="0" y1="0" x2="0" y2="-22" stroke="#5ab4e4" stroke-width="3.2"/><polyline points="-6,-17 0,-12 6,-17" fill="none" stroke="#8fcdef" stroke-width="2.4"/></g><g transform="rotate(180)"><line x1="0" y1="0" x2="0" y2="-22" stroke="#5ab4e4" stroke-width="3.2"/><polyline points="-6,-17 0,-12 6,-17" fill="none" stroke="#8fcdef" stroke-width="2.4"/></g><g transform="rotate(225)"><line x1="0" y1="0" x2="0" y2="-22" stroke="#5ab4e4" stroke-width="3.2"/><polyline points="-6,-17 0,-12 6,-17" fill="none" stroke="#8fcdef" stroke-width="2.4"/></g><g transform="rotate(270)"><line x1="0" y1="0" x2="0" y2="-22" stroke="#5ab4e4" stroke-width="3.2"/><polyline points="-6,-17 0,-12 6,-17" fill="none" stroke="#8fcdef" stroke-width="2.4"/></g><g transform="rotate(315)"><line x1="0" y1="0" x2="0" y2="-22" stroke="#5ab4e4" stroke-width="3.2"/><polyline points="-6,-17 0,-12 6,-17" fill="none" stroke="#8fcdef" stroke-width="2.4"/></g></g>
<text x="55.8" y="1074.8" font-size="37.2" fill="#000" text-anchor="start" >Borate species</text>
<circle cx="22.3" cy="1122.4" r="11" fill="url(#sOrange)"/>
<rect x="18" y="1117" width="6" height="3" fill="#ffe6b0"/>
<text x="55.3" y="1140" font-size="37.2" fill="#000" text-anchor="start" >Single Co site</text>
<g transform="translate(27,1188)"><ellipse cx="0" cy="0" rx="16" ry="25" transform="rotate(-40)" fill="#f0a4b2" filter="url(#blur1)"/><rect x="-8" y="-1.2" width="14" height="3" fill="#fff"/><rect x="-2.5" y="-7" width="3" height="14" fill="#fff"/></g>
<g transform="translate(66.7,1191.5)"><ellipse cx="0" cy="0" rx="10" ry="19" transform="rotate(30)" fill="#5e92e4" filter="url(#blur1)"/><rect x="-3.5" y="-1" width="7" height="2.6" fill="#fff"/></g>
<text x="88.5" y="1205.3" font-size="37.2" fill="#000" text-anchor="start" >Ionic liquid</text>
<circle cx="27.6" cy="1245.5" r="11" fill="url(#sWhite)"/>
<text x="71.8" y="1264" font-size="37.5" fill="#000" text-anchor="start" >H</text>
<circle cx="28" cy="1296" r="13.5" fill="url(#sGray)"/>
<text x="71.5" y="1312.3" font-size="37.5" fill="#000" text-anchor="start" >C</text>
<circle cx="27.2" cy="1343.4" r="14.5" fill="url(#sRed)"/>
<text x="70" y="1361" font-size="37.5" fill="#000" text-anchor="start" >O</text>
<line x1="187.6" y1="1253" x2="185.8" y2="1270" stroke="#ddd" stroke-width="2.5" />
<line x1="185.8" y1="1270" x2="184" y2="1287" stroke="#e03030" stroke-width="2.5" />
<line x1="150.7" y1="1294" x2="167.3" y2="1290.5" stroke="#ddd" stroke-width="2.5" />
<line x1="167.3" y1="1290.5" x2="184" y2="1287" stroke="#e03030" stroke-width="2.5" />
<circle cx="187.6" cy="1253" r="6" fill="url(#sWhite)"/>
<circle cx="150.7" cy="1294" r="6" fill="url(#sWhite)"/>
<circle cx="184" cy="1287" r="11.5" fill="url(#sRed)"/>
<line x1="207" y1="1303" x2="262.3" y2="1339.3" stroke="#000" stroke-width="4.6" />
<polygon points="274,1347 252.3,1343.5 262.2,1328.5" fill="#000" />
<g transform="translate(295,1385) scale(1.38,1.7)" opacity="0.92" filter="url(#blur05)"><circle cx="0" cy="2" r="8" fill="#5ab4e4"/><g transform="rotate(0)"><line x1="0" y1="0" x2="0" y2="-22" stroke="#5ab4e4" stroke-width="3.2"/><polyline points="-6,-17 0,-12 6,-17" fill="none" stroke="#8fcdef" stroke-width="2.4"/></g><g transform="rotate(45)"><line x1="0" y1="0" x2="0" y2="-22" stroke="#5ab4e4" stroke-width="3.2"/><polyline points="-6,-17 0,-12 6,-17" fill="none" stroke="#8fcdef" stroke-width="2.4"/></g><g transform="rotate(90)"><line x1="0" y1="0" x2="0" y2="-22" stroke="#5ab4e4" stroke-width="3.2"/><polyline points="-6,-17 0,-12 6,-17" fill="none" stroke="#8fcdef" stroke-width="2.4"/></g><g transform="rotate(135)"><line x1="0" y1="0" x2="0" y2="-22" stroke="#5ab4e4" stroke-width="3.2"/><polyline points="-6,-17 0,-12 6,-17" fill="none" stroke="#8fcdef" stroke-width="2.4"/></g><g transform="rotate(180)"><line x1="0" y1="0" x2="0" y2="-22" stroke="#5ab4e4" stroke-width="3.2"/><polyline points="-6,-17 0,-12 6,-17" fill="none" stroke="#8fcdef" stroke-width="2.4"/></g><g transform="rotate(225)"><line x1="0" y1="0" x2="0" y2="-22" stroke="#5ab4e4" stroke-width="3.2"/><polyline points="-6,-17 0,-12 6,-17" fill="none" stroke="#8fcdef" stroke-width="2.4"/></g><g transform="rotate(270)"><line x1="0" y1="0" x2="0" y2="-22" stroke="#5ab4e4" stroke-width="3.2"/><polyline points="-6,-17 0,-12 6,-17" fill="none" stroke="#8fcdef" stroke-width="2.4"/></g><g transform="rotate(315)"><line x1="0" y1="0" x2="0" y2="-22" stroke="#5ab4e4" stroke-width="3.2"/><polyline points="-6,-17 0,-12 6,-17" fill="none" stroke="#8fcdef" stroke-width="2.4"/></g></g>
<circle cx="293" cy="1382" r="10.5" fill="#f79a12"/>
<rect x="288" y="1377" width="8" height="4" fill="#ffe8c0"/>
<path d="M368,1420.8 C350,1428 325,1430 309,1414" stroke="#000" stroke-width="4.5" fill="none" stroke-dasharray="4.5 4.5"/>
<polygon points="302.5,1403.6 318,1412 305,1418" fill="#000" />
<line x1="271.5" y1="1423" x2="212" y2="1458.5" stroke="#000" stroke-width="4.6" />
<polygon points="200,1465.7 212.6,1447.7 221.8,1463.2" fill="#000" />
<line x1="150.6" y1="1477" x2="185.6" y2="1499" stroke="#d01010" stroke-width="5" />
<line x1="150.6" y1="1477" x2="185.6" y2="1499" stroke="#fff" stroke-width="1.2" />
<circle cx="150.6" cy="1477" r="12.5" fill="url(#sRed)"/>
<circle cx="185.6" cy="1499" r="12.5" fill="url(#sRed)"/>
<rect x="543" y="833" width="127" height="175.5" rx="22" fill="none" stroke="#777" stroke-width="3" stroke-dasharray="3 3.4"/>
<line x1="670" y1="920" x2="809" y2="1130" stroke="#7a7a7a" stroke-width="2.6" stroke-dasharray="2.6 3.4"/>
<g transform="translate(573.3,928.4) scale(1.0)"><ellipse cx="0" cy="0" rx="19" ry="43" transform="rotate(-16)" fill="#ef9fad" stroke="#b08890" stroke-width="2" filter="url(#blur1)"/><ellipse cx="35" cy="-14" rx="18" ry="33" transform="rotate(10 35 -14)" fill="#5b8fe2" stroke="#5a6f98" stroke-width="2" filter="url(#blur1)"/><g transform="rotate(-18 -3 -3)"><rect x="-16" y="-5.5" width="26" height="5" fill="#fff"/><rect x="-5.5" y="-16" width="5" height="26" fill="#fff"/></g><rect x="28" y="-13.5" width="15" height="4.2" fill="#fff"/></g>
<line x1="665.4" y1="770.2" x2="680.5" y2="783.1" stroke="#e02020" stroke-width="4" />
<line x1="680.5" y1="783.1" x2="695.6" y2="796" stroke="#bbb" stroke-width="4" />
<line x1="695.6" y1="796" x2="711" y2="808.5" stroke="#bbb" stroke-width="4" />
<line x1="711" y1="808.5" x2="726.4" y2="821" stroke="#e02020" stroke-width="4" />
<circle cx="665.4" cy="770.2" r="11" fill="url(#sRed)"/>
<circle cx="726.4" cy="821" r="11" fill="url(#sRed)"/>
<circle cx="695.6" cy="796" r="12" fill="url(#sGray)"/>
<line x1="675.4" y1="813.4" x2="589.6" y2="865.6" stroke="#000" stroke-width="4.6" />
<polygon points="577.6,872.9 590,854.8 599.4,870.2" fill="#000" />
<path d="M510,881 C520,872 540,868 556,872" stroke="#000" stroke-width="4.5" fill="none" stroke-dasharray="4.5 4.5"/>
<polygon points="570.4,879.5 551,880 557,864" fill="#000" />
<line x1="589" y1="981.6" x2="636.1" y2="1057.9" stroke="#000" stroke-width="4.6" />
<polygon points="643.5,1069.8 625.3,1057.5 640.6,1048.1" fill="#000" />
<line x1="629" y1="1104.2" x2="647.8" y2="1098.2" stroke="#bbb" stroke-width="4" />
<line x1="647.8" y1="1098.2" x2="666.5" y2="1092.2" stroke="#e02020" stroke-width="4" />
<circle cx="629" cy="1104.2" r="13" fill="url(#sGray)"/>
<circle cx="666.5" cy="1092.2" r="12" fill="url(#sRed)"/>
<line x1="648.6" y1="1139.2" x2="649.7" y2="1157.6" stroke="#e8e8e8" stroke-width="3" />
<line x1="649.7" y1="1157.6" x2="650.7" y2="1176" stroke="#aaa" stroke-width="3" />
<line x1="615.7" y1="1183.5" x2="633.2" y2="1179.8" stroke="#e8e8e8" stroke-width="3" />
<line x1="633.2" y1="1179.8" x2="650.7" y2="1176" stroke="#aaa" stroke-width="3" />
<line x1="680.6" y1="1176.9" x2="665.7" y2="1176.5" stroke="#e8e8e8" stroke-width="3" />
<line x1="665.7" y1="1176.5" x2="650.7" y2="1176" stroke="#aaa" stroke-width="3" />
<line x1="656" y1="1205" x2="653.4" y2="1190.5" stroke="#e8e8e8" stroke-width="3" />
<line x1="653.4" y1="1190.5" x2="650.7" y2="1176" stroke="#aaa" stroke-width="3" />
<circle cx="648.6" cy="1139.2" r="9" fill="url(#sWhite)"/>
<circle cx="680.6" cy="1176.9" r="9.5" fill="url(#sWhite)"/>
<circle cx="650.7" cy="1176" r="13" fill="url(#sGray)"/>
<circle cx="615.7" cy="1183.5" r="10" fill="url(#sWhite)"/>
<circle cx="656" cy="1205" r="9.5" fill="url(#sWhite)"/>
<rect x="810" y="736" width="902" height="793" rx="122" fill="none" stroke="#7a7a7a" stroke-width="2.6" stroke-dasharray="2.6 3.4"/>
<text x="1061.3" y="847.5" font-size="28.5" fill="#000" text-anchor="middle" >N</text>
<text x="1124.7" y="847.5" font-size="28.5" fill="#000" text-anchor="middle" >N</text>
<line x1="1094.2" y1="813" x2="1073.9" y2="827.3" stroke="#303030" stroke-width="1.4" />
<line x1="1094.2" y1="813" x2="1113.4" y2="826.8" stroke="#303030" stroke-width="1.4" />
<line x1="1025.1" y1="822.8" x2="1048.8" y2="830.7" stroke="#303030" stroke-width="1.4" />
<polyline points="1137.7,833.4 1162.8,825.3 1191.8,851" stroke="#303030" stroke-width="1.4" fill="none" />
<polyline points="1066.7,849.9 1073.9,872.6 1112.9,872.6 1120.3,851.4" stroke="#303030" stroke-width="1.4" fill="none" />
<line x1="1077.4" y1="868.2" x2="1108.9" y2="868.2" stroke="#303030" stroke-width="1.4" />
<path d="M1077.4,836.1 Q1094.2,819 1110.9,835.6" stroke="#303030" stroke-width="1.4" fill="none" stroke-dasharray="3.5 3.5"/>
<circle cx="1094.2" cy="840.1" r="2.3" fill="#111"/>
<line x1="1094.2" y1="789" x2="1094.2" y2="813" stroke="#303030" stroke-width="1.4" />
<text x="1084" y="785" font-size="28.5" fill="#a043b5" text-anchor="start" >CH<tspan font-size="21" dy="1">3</tspan><tspan dy="-1">O*</tspan></text>
<text x="1337.9" y="848.5" font-size="28.5" fill="#000" text-anchor="middle" >N</text>
<text x="1401.3" y="848.5" font-size="28.5" fill="#000" text-anchor="middle" >N</text>
<line x1="1370.8" y1="814" x2="1350.5" y2="828.3" stroke="#303030" stroke-width="1.4" />
<line x1="1370.8" y1="814" x2="1390" y2="827.8" stroke="#303030" stroke-width="1.4" />
<line x1="1301.7" y1="823.8" x2="1325.4" y2="831.7" stroke="#303030" stroke-width="1.4" />
<polyline points="1414.3,834.4 1439.4,826.3 1468.4,852" stroke="#303030" stroke-width="1.4" fill="none" />
<polyline points="1343.3,850.9 1350.5,873.6 1389.5,873.6 1396.9,852.4" stroke="#303030" stroke-width="1.4" fill="none" />
<line x1="1354" y1="869.2" x2="1385.5" y2="869.2" stroke="#303030" stroke-width="1.4" />
<path d="M1354,837.1 Q1370.8,820 1387.5,836.6" stroke="#303030" stroke-width="1.4" fill="none" stroke-dasharray="3.5 3.5"/>
<circle cx="1370.8" cy="841.1" r="2.3" fill="#111"/>
<line x1="1370.8" y1="789" x2="1370.8" y2="814" stroke="#303030" stroke-width="1.4" />
<text x="1361" y="786" font-size="28.5" fill="#000" text-anchor="start" >CH<tspan font-size="21" dy="3">2</tspan><tspan dy="-3">O*</tspan></text>
<text x="883.4" y="1004" font-size="28.5" fill="#000" text-anchor="middle" >N</text>
<text x="946.8" y="1004" font-size="28.5" fill="#000" text-anchor="middle" >N</text>
<line x1="916.3" y1="969.5" x2="896" y2="983.8" stroke="#303030" stroke-width="1.4" />
<line x1="916.3" y1="969.5" x2="935.5" y2="983.3" stroke="#303030" stroke-width="1.4" />
<line x1="847.2" y1="979.3" x2="870.9" y2="987.2" stroke="#303030" stroke-width="1.4" />
<polyline points="959.8,989.9 984.9,981.8 1013.9,1007.5" stroke="#303030" stroke-width="1.4" fill="none" />
<polyline points="888.8,1006.4 896,1029.1 935,1029.1 942.4,1007.9" stroke="#303030" stroke-width="1.4" fill="none" />
<line x1="899.5" y1="1024.7" x2="931" y2="1024.7" stroke="#303030" stroke-width="1.4" />
<circle cx="911.3" cy="960" r="2.3" fill="#111"/>
<circle cx="921.8" cy="960" r="2.3" fill="#111"/>
<text x="1535.1" y="1013" font-size="28.5" fill="#000" text-anchor="middle" >N</text>
<text x="1598.5" y="1013" font-size="28.5" fill="#000" text-anchor="middle" >N</text>
<line x1="1568" y1="978.5" x2="1547.7" y2="992.8" stroke="#303030" stroke-width="1.4" />
<line x1="1568" y1="978.5" x2="1587.2" y2="992.3" stroke="#303030" stroke-width="1.4" />
<line x1="1498.9" y1="988.3" x2="1522.6" y2="996.2" stroke="#303030" stroke-width="1.4" />
<polyline points="1611.5,998.9 1636.6,990.8 1665.6,1016.5" stroke="#303030" stroke-width="1.4" fill="none" />
<polyline points="1540.5,1015.4 1547.7,1038.1 1586.7,1038.1 1594.1,1016.9" stroke="#303030" stroke-width="1.4" fill="none" />
<line x1="1551.2" y1="1033.7" x2="1582.7" y2="1033.7" stroke="#303030" stroke-width="1.4" />
<path d="M1551.2,1001.6 Q1568,984.5 1584.7,1001.1" stroke="#303030" stroke-width="1.4" fill="none" stroke-dasharray="3.5 3.5"/>
<circle cx="1568" cy="1005.6" r="2.3" fill="#111"/>
<line x1="1568" y1="955" x2="1568" y2="978.5" stroke="#303030" stroke-width="1.4" />
<text x="1559" y="950.8" font-size="28.5" fill="#a043b5" text-anchor="start" >CHO*</text>
<text x="886.1" y="1208.5" font-size="28.5" fill="#000" text-anchor="middle" >N</text>
<text x="949.5" y="1208.5" font-size="28.5" fill="#000" text-anchor="middle" >N</text>
<line x1="919" y1="1174" x2="898.7" y2="1188.3" stroke="#303030" stroke-width="1.4" />
<line x1="919" y1="1174" x2="938.2" y2="1187.8" stroke="#303030" stroke-width="1.4" />
<line x1="849.9" y1="1183.8" x2="873.6" y2="1191.7" stroke="#303030" stroke-width="1.4" />
<polyline points="962.5,1194.4 987.6,1186.3 1016.6,1212" stroke="#303030" stroke-width="1.4" fill="none" />
<polyline points="891.5,1210.9 898.7,1233.6 937.7,1233.6 945.1,1212.4" stroke="#303030" stroke-width="1.4" fill="none" />
<line x1="902.2" y1="1229.2" x2="933.7" y2="1229.2" stroke="#303030" stroke-width="1.4" />
<line x1="916" y1="1182" x2="902" y2="1192" stroke="#303030" stroke-width="1.4" />
<text x="888" y="1180" font-size="28" fill="#000" text-anchor="middle" >+</text>
<line x1="919" y1="1150.6" x2="919" y2="1174" stroke="#303030" stroke-width="1.4" />
<text x="919" y="1146.6" font-size="28.5" fill="#000" text-anchor="middle" >H</text>
<text x="1212.3" y="1210" font-size="28.5" fill="#000" text-anchor="middle" >N</text>
<text x="1275.7" y="1210" font-size="28.5" fill="#000" text-anchor="middle" >N</text>
<line x1="1245.2" y1="1175.5" x2="1224.9" y2="1189.8" stroke="#303030" stroke-width="1.4" />
<line x1="1245.2" y1="1175.5" x2="1264.4" y2="1189.3" stroke="#303030" stroke-width="1.4" />
<line x1="1176.1" y1="1185.3" x2="1199.8" y2="1193.2" stroke="#303030" stroke-width="1.4" />
<polyline points="1288.7,1195.9 1313.8,1187.8 1342.8,1213.5" stroke="#303030" stroke-width="1.4" fill="none" />
<polyline points="1217.7,1212.4 1224.9,1235.1 1263.9,1235.1 1271.3,1213.9" stroke="#303030" stroke-width="1.4" fill="none" />
<line x1="1228.4" y1="1230.7" x2="1259.9" y2="1230.7" stroke="#303030" stroke-width="1.4" />
<path d="M1228.4,1198.6 Q1245.2,1181.5 1261.9,1198.1" stroke="#303030" stroke-width="1.4" fill="none" stroke-dasharray="3.5 3.5"/>
<circle cx="1245.2" cy="1202.6" r="2.3" fill="#111"/>
<line x1="1245.2" y1="1151" x2="1245.2" y2="1175.5" stroke="#303030" stroke-width="1.4" />
<text x="1235" y="1146.3" font-size="28.5" fill="#000" text-anchor="start" >CO</text>
<text x="1535.1" y="1206" font-size="28.5" fill="#000" text-anchor="middle" >N</text>
<text x="1598.5" y="1206" font-size="28.5" fill="#000" text-anchor="middle" >N</text>
<line x1="1568" y1="1171.5" x2="1547.7" y2="1185.8" stroke="#303030" stroke-width="1.4" />
<line x1="1568" y1="1171.5" x2="1587.2" y2="1185.3" stroke="#303030" stroke-width="1.4" />
<line x1="1498.9" y1="1181.3" x2="1522.6" y2="1189.2" stroke="#303030" stroke-width="1.4" />
<polyline points="1611.5,1191.9 1636.6,1183.8 1665.6,1209.5" stroke="#303030" stroke-width="1.4" fill="none" />
<polyline points="1540.5,1208.4 1547.7,1231.1 1586.7,1231.1 1594.1,1209.9" stroke="#303030" stroke-width="1.4" fill="none" />
<line x1="1551.2" y1="1226.7" x2="1582.7" y2="1226.7" stroke="#303030" stroke-width="1.4" />
<circle cx="1568" cy="1203.5" r="13" fill="none" stroke="#303030" stroke-width="1.4" stroke-dasharray="3.5 3.5"/>
<line x1="1568" y1="1148" x2="1568" y2="1171.5" stroke="#303030" stroke-width="1.4" />
<text x="1558" y="1143" font-size="28.5" fill="#a043b5" text-anchor="start" >COOH*</text>
<text x="884.6" y="1460" font-size="28.5" fill="#000" text-anchor="middle" >N</text>
<text x="948" y="1460" font-size="28.5" fill="#000" text-anchor="middle" >N</text>
<line x1="917.5" y1="1425.5" x2="897.2" y2="1439.8" stroke="#303030" stroke-width="1.4" />
<line x1="917.5" y1="1425.5" x2="936.7" y2="1439.3" stroke="#303030" stroke-width="1.4" />
<line x1="848.4" y1="1435.3" x2="872.1" y2="1443.2" stroke="#303030" stroke-width="1.4" />
<polyline points="961,1445.9 986.1,1437.8 1015.1,1463.5" stroke="#303030" stroke-width="1.4" fill="none" />
<polyline points="890,1462.4 897.2,1485.1 936.2,1485.1 943.6,1463.9" stroke="#303030" stroke-width="1.4" fill="none" />
<line x1="900.7" y1="1480.7" x2="932.2" y2="1480.7" stroke="#303030" stroke-width="1.4" />
<path d="M900.7,1448.6 Q917.5,1431.5 934.2,1448.1" stroke="#303030" stroke-width="1.4" fill="none" stroke-dasharray="3.5 3.5"/>
<circle cx="917.5" cy="1452.6" r="2.3" fill="#111"/>
<line x1="917.5" y1="1401.7" x2="917.5" y2="1425.5" stroke="#303030" stroke-width="1.4" />
<text x="917.5" y="1397.7" font-size="28.5" fill="#000" text-anchor="middle" >H</text>
<text x="1212.9" y="1457.5" font-size="28.5" fill="#000" text-anchor="middle" >N</text>
<text x="1276.3" y="1457.5" font-size="28.5" fill="#000" text-anchor="middle" >N</text>
<line x1="1176.7" y1="1432.8" x2="1200.4" y2="1440.7" stroke="#303030" stroke-width="1.4" />
<polyline points="1289.3,1443.4 1314.4,1435.3 1343.4,1461" stroke="#303030" stroke-width="1.4" fill="none" />
<polyline points="1218.3,1459.9 1225.5,1482.6 1264.5,1482.6 1271.9,1461.4" stroke="#303030" stroke-width="1.4" fill="none" />
<line x1="1229" y1="1478.2" x2="1260.5" y2="1478.2" stroke="#303030" stroke-width="1.4" />
<line x1="1224" y1="1412.4" x2="1265.4" y2="1435.9" stroke="#303030" stroke-width="1.4" />
<line x1="1267.4" y1="1413" x2="1227.2" y2="1437.5" stroke="#303030" stroke-width="1.4" />
<text x="1200.5" y="1416.3" font-size="28.5" fill="#000" text-anchor="start" >H</text>
<text x="1270.5" y="1416.3" font-size="28.5" fill="#000" text-anchor="start" >CO<tspan font-size="21" dy="3">2</tspan></text>
<text x="1535.1" y="1467" font-size="28.5" fill="#000" text-anchor="middle" >N</text>
<text x="1598.5" y="1467" font-size="28.5" fill="#000" text-anchor="middle" >N</text>
<line x1="1568" y1="1432.5" x2="1547.7" y2="1446.8" stroke="#303030" stroke-width="1.4" />
<line x1="1568" y1="1432.5" x2="1587.2" y2="1446.3" stroke="#303030" stroke-width="1.4" />
<line x1="1498.9" y1="1442.3" x2="1522.6" y2="1450.2" stroke="#303030" stroke-width="1.4" />
<polyline points="1611.5,1452.9 1636.6,1444.8 1665.6,1470.5" stroke="#303030" stroke-width="1.4" fill="none" />
<polyline points="1540.5,1469.4 1547.7,1492.1 1586.7,1492.1 1594.1,1470.9" stroke="#303030" stroke-width="1.4" fill="none" />
<line x1="1551.2" y1="1487.7" x2="1582.7" y2="1487.7" stroke="#303030" stroke-width="1.4" />
<path d="M1551.2,1455.6 Q1568,1438.5 1584.7,1455.1" stroke="#303030" stroke-width="1.4" fill="none" stroke-dasharray="3.5 3.5"/>
<circle cx="1568" cy="1459.6" r="2.3" fill="#111"/>
<line x1="1568" y1="1406.5" x2="1568" y2="1432.5" stroke="#303030" stroke-width="1.4" />
<text x="1569.5" y="1403.2" font-size="28.5" fill="#000" text-anchor="middle" >C</text>
<text x="1505" y="1384.2" font-size="28.5" fill="#000" text-anchor="start" >HO</text>
<text x="1593" y="1384.2" font-size="28.5" fill="#000" text-anchor="start" >O</text>
<line x1="1549" y1="1381" x2="1559.5" y2="1388.5" stroke="#303030" stroke-width="1.4" />
<line x1="1580" y1="1390.5" x2="1591.6" y2="1382.5" stroke="#303030" stroke-width="1.4" />
<line x1="1578" y1="1387" x2="1589.6" y2="1379" stroke="#303030" stroke-width="1.4" />
<line x1="1302" y1="847" x2="1202.6" y2="847" stroke="#303030" stroke-width="1.4" />
<polygon points="1194.8,847 1207.8,842.5 1207.8,851.5" fill="#111" />
<text x="1236.7" y="810.6" font-size="28.5" fill="#000" text-anchor="start" >H<tspan dy="-12" font-size="19">+</tspan></text>
<path d="M1252,820 C1252,836 1242,846 1222,846" stroke="#303030" stroke-width="1.4" fill="none" />
<polygon points="1218,846.5 1230.8,841.5 1231.2,850.5" fill="#111" />
<text x="1231.3" y="870" font-size="28.5" fill="#000" text-anchor="start" >+e<tspan dy="-12" font-size="19">-</tspan></text>
<line x1="1038" y1="867.4" x2="948.8" y2="956.5" stroke="#303030" stroke-width="1.4" />
<polygon points="943.3,962 949.3,949.6 955.7,956" fill="#111" />
<text x="958.2" y="872.8" font-size="28.5" fill="#000" text-anchor="start" >3H<tspan dy="-12" font-size="19">+</tspan></text>
<path d="M983.8,884.7 C996,896 994,915 980,923 C972,927 964,926 957,921" stroke="#303030" stroke-width="1.4" fill="none" />
<polygon points="950.4,916.5 962.6,919.9 958.1,926.5" fill="#111" />
<text x="828.4" y="910.6" font-size="28.5" fill="#e0202a" text-anchor="start" >CH<tspan font-size="21" dy="1">4</tspan></text>
<text x="884.5" y="910.6" font-size="28.5" fill="#000" text-anchor="start" >, H<tspan font-size="18" dy="5">2</tspan><tspan dy="-5">O</tspan></text>
<text x="1011" y="940" font-size="24" fill="#000" text-anchor="middle" transform="rotate(-45 1011 931)">+3e<tspan dy="-10" font-size="16">-</tspan></text>
<line x1="918.2" y1="1041" x2="918.2" y2="1111.2" stroke="#303030" stroke-width="1.4" />
<polygon points="918.2,1119 913.7,1106 922.7,1106" fill="#111" />
<text x="862.7" y="1082.2" font-size="28.5" fill="#000" text-anchor="start" >H<tspan dy="-12" font-size="19">+</tspan></text>
<path d="M894.6,1068 C908,1068 918,1076 918,1090" stroke="#303030" stroke-width="1.4" fill="none" />
<line x1="1175.9" y1="1213.6" x2="1029.5" y2="1213.6" stroke="#303030" stroke-width="1.4" />
<polygon points="1021.7,1213.6 1034.7,1209.1 1034.7,1218.1" fill="#111" />
<text x="1044.7" y="1185.8" font-size="28.5" fill="#e0202a" text-anchor="start" >CO</text>
<text x="1101.5" y="1185.8" font-size="28.5" fill="#000" text-anchor="start" >H<tspan dy="-12" font-size="19">+</tspan></text>
<path d="M1112.3,1196.6 C1108,1212 1090,1218 1078,1203" stroke="#303030" stroke-width="1.4" fill="none" />
<polygon points="1073,1195.3 1081.4,1201.7 1075.6,1205.6" fill="#111" />
<line x1="916.8" y1="1249" x2="916.8" y2="1352" stroke="#303030" stroke-width="1.4" />
<polygon points="916.8,1359.8 912.3,1346.8 921.3,1346.8" fill="#111" />
<text x="850" y="1297.6" font-size="28.5" fill="#000" text-anchor="start" >+e<tspan dy="-12" font-size="19">-</tspan></text>
<path d="M892,1286.8 C906,1288 917,1298 917,1318" stroke="#303030" stroke-width="1.4" fill="none" />
<line x1="1021.7" y1="1462" x2="1168.6" y2="1462" stroke="#303030" stroke-width="1.4" />
<polygon points="1176.4,1462 1163.4,1466.5 1163.4,1457.5" fill="#111" />
<text x="1054.2" y="1424.7" font-size="28.5" fill="#e0202a" text-anchor="start" >CO<tspan font-size="21" dy="3">2</tspan></text>
<path d="M1073.7,1437.7 C1075,1452 1084,1461 1100,1462" stroke="#303030" stroke-width="1.4" fill="none" />
<line x1="1351.4" y1="1463.3" x2="1487.4" y2="1463.3" stroke="#303030" stroke-width="1.4" />
<polygon points="1495.2,1463.3 1482.2,1467.8 1482.2,1458.8" fill="#111" />
<line x1="1568" y1="1354.8" x2="1568" y2="1250.8" stroke="#303030" stroke-width="1.4" />
<polygon points="1568,1243 1572.5,1256 1563.5,1256" fill="#111" />
<text x="1576.9" y="1305.2" font-size="28.5" fill="#000" text-anchor="start" >+e<tspan dy="-12" font-size="19">-</tspan></text>
<line x1="1501.7" y1="1211.6" x2="1359.2" y2="1211.6" stroke="#303030" stroke-width="1.4" />
<polygon points="1351.4,1211.6 1364.4,1207.1 1364.4,1216.1" fill="#111" />
<text x="1362.8" y="1184.8" font-size="28.5" fill="#000" text-anchor="start" >H<tspan font-size="18" dy="5">2</tspan><tspan dy="-5">O</tspan></text>
<text x="1428.2" y="1184.8" font-size="28.5" fill="#000" text-anchor="start" >H<tspan dy="-12" font-size="19">+</tspan></text>
<path d="M1437.3,1196 C1434,1212 1412,1218 1402,1202" stroke="#303030" stroke-width="1.4" fill="none" />
<polygon points="1398.8,1196 1406.5,1203.3 1400.3,1206.5" fill="#111" />
<line x1="1317" y1="1128.3" x2="1483.2" y2="1032.5" stroke="#303030" stroke-width="1.4" />
<polygon points="1490,1028.6 1481,1039 1476.5,1031.2" fill="#111" />
<text x="1356.3" y="1058" font-size="28.5" fill="#000" text-anchor="start" >H<tspan dy="-12" font-size="19">+</tspan></text>
<path d="M1369.3,1065 C1372,1076 1392,1082 1412,1072.7" stroke="#303030" stroke-width="1.4" fill="none" />
<text x="1413.5" y="1100" font-size="24" fill="#000" text-anchor="middle" transform="rotate(-30 1413.5 1094)">+e<tspan dy="-10" font-size="16">-</tspan></text>
<line x1="1533" y1="958.7" x2="1453.5" y2="879.4" stroke="#303030" stroke-width="1.4" />
<polygon points="1448,873.9 1460.4,879.9 1454,886.3" fill="#111" />
<text x="1502.7" y="891.9" font-size="28.5" fill="#000" text-anchor="start" >H<tspan dy="-12" font-size="19">+</tspan></text>
<path d="M1500,895.5 C1496,904 1488,907 1480,904" stroke="#303030" stroke-width="1.4" fill="none" />
<text x="1477.5" y="937" font-size="24" fill="#000" text-anchor="middle" transform="rotate(45 1477.5 930.6)">+e<tspan dy="-10" font-size="16">-</tspan></text></svg>
</body></html>
